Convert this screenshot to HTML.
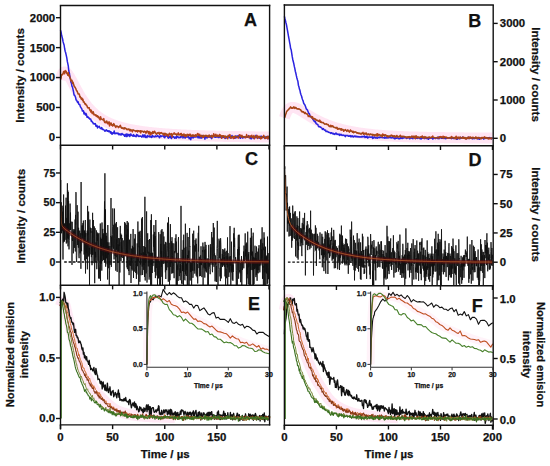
<!DOCTYPE html>
<html><head><meta charset="utf-8"><style>
html,body{margin:0;padding:0;background:#fff;width:550px;height:466px;overflow:hidden}
svg{display:block}
text{font-family:"Liberation Sans",sans-serif;font-weight:bold;fill:#111;stroke:#111;stroke-width:0.25px}
</style></head><body>
<svg width="550" height="466" viewBox="0 0 550 466">
<defs>
<clipPath id="clipC"><rect x="60.5" y="145.3" width="209.10000000000002" height="139.89999999999998"/></clipPath>
<clipPath id="clipD"><rect x="284.4" y="145.8" width="208.8" height="140.0"/></clipPath>
</defs>
<rect width="550" height="466" fill="#fff"/>
<polyline points="60.5,79.9 61.0,77.7 61.5,76.0 62.1,74.6 62.6,73.5 63.1,72.8 63.6,72.2 64.1,72.0 64.7,71.9 65.2,71.9 65.7,72.2 66.2,72.5 66.8,73.0 67.3,73.6 67.8,74.2 68.3,74.9 68.8,75.7 69.4,76.5 69.9,77.4 70.4,78.3 70.9,79.3 71.4,80.2 72.0,81.2 72.5,82.2 73.0,83.2 73.5,84.2 74.1,85.2 74.6,86.2 75.1,87.2 75.6,88.2 76.1,89.1 76.7,90.1 77.2,91.0 77.7,92.0 78.2,92.9 78.7,93.8 79.3,94.7 79.8,95.6 80.3,96.5 80.8,97.3 81.3,98.1 81.9,99.0 82.4,99.7 82.9,100.5 83.4,101.3 84.0,102.0 84.5,102.8 85.0,103.5 85.5,104.2 86.0,104.9 86.6,105.5 87.1,106.2 87.6,106.8 88.1,107.4 88.6,108.0 89.2,108.6 89.7,109.2 90.2,109.7 90.7,110.3 91.3,110.8 91.8,111.3 92.3,111.9 92.8,112.3 93.3,112.8 93.9,113.3 94.4,113.8 94.9,114.2 95.4,114.6 95.9,115.1 96.5,115.5 97.0,115.9 97.5,116.3 98.0,116.7 98.6,117.1 99.1,117.4 99.6,117.8 100.1,118.1 100.6,118.5 101.2,118.8 101.7,119.2 102.2,119.5 102.7,119.8 103.2,120.1 103.8,120.4 104.3,120.7 104.8,121.0 105.3,121.2 105.8,121.5 106.4,121.8 106.9,122.0 107.4,122.3 107.9,122.5 108.5,122.8 109.0,123.0 109.5,123.3 110.0,123.5 110.5,123.7 111.1,123.9 111.6,124.1 112.1,124.3 112.6,124.5 113.1,124.7 113.7,124.9 114.2,125.1 114.7,125.3 115.2,125.5 115.8,125.7 116.3,125.9 116.8,126.0 117.3,126.2 117.8,126.4 118.4,126.5 118.9,126.7 119.4,126.8 119.9,127.0 120.4,127.1 121.0,127.3 121.5,127.4 122.0,127.6 122.5,127.7 123.0,127.8 123.6,128.0 124.1,128.1 124.6,128.2 125.1,128.4 125.7,128.5 126.2,128.6 126.7,128.7 127.2,128.9 127.7,129.0 128.3,129.1 128.8,129.2 129.3,129.3 129.8,129.4 130.3,129.5 130.9,129.6 131.4,129.7 131.9,129.8 132.4,129.9 133.0,130.0 133.5,130.1 134.0,130.2 134.5,130.3 135.0,130.4 135.6,130.5 136.1,130.6 136.6,130.7 137.1,130.7 137.6,130.8 138.2,130.9 138.7,131.0 139.2,131.1 139.7,131.1 140.3,131.2 140.8,131.3 141.3,131.4 141.8,131.4 142.3,131.5 142.9,131.6 143.4,131.7 143.9,131.7 144.4,131.8 144.9,131.9 145.5,131.9 146.0,132.0 146.5,132.1 147.0,132.1 147.5,132.2 148.1,132.3 148.6,132.3 149.1,132.4 149.6,132.4 150.2,132.5 150.7,132.5 151.2,132.6 151.7,132.7 152.2,132.7 152.8,132.8 153.3,132.8 153.8,132.9 154.3,132.9 154.8,133.0 155.4,133.0 155.9,133.1 156.4,133.1 156.9,133.2 157.5,133.2 158.0,133.3 158.5,133.3 159.0,133.4 159.5,133.4 160.1,133.5 160.6,133.5 161.1,133.5 161.6,133.6 162.1,133.6 162.7,133.7 163.2,133.7 163.7,133.8 164.2,133.8 164.8,133.8 165.3,133.9 165.8,133.9 166.3,134.0 166.8,134.0 167.4,134.0 167.9,134.1 168.4,134.1 168.9,134.1 169.4,134.2 170.0,134.2 170.5,134.3 171.0,134.3 171.5,134.3 172.0,134.4 172.6,134.4 173.1,134.4 173.6,134.5 174.1,134.5 174.7,134.5 175.2,134.6 175.7,134.6 176.2,134.6 176.7,134.6 177.3,134.7 177.8,134.7 178.3,134.7 178.8,134.8 179.3,134.8 179.9,134.8 180.4,134.8 180.9,134.9 181.4,134.9 182.0,134.9 182.5,135.0 183.0,135.0 183.5,135.0 184.0,135.0 184.6,135.1 185.1,135.1 185.6,135.1 186.1,135.1 186.6,135.2 187.2,135.2 187.7,135.2 188.2,135.2 188.7,135.3 189.2,135.3 189.8,135.3 190.3,135.3 190.8,135.3 191.3,135.4 191.9,135.4 192.4,135.4 192.9,135.4 193.4,135.5 193.9,135.5 194.5,135.5 195.0,135.5 195.5,135.5 196.0,135.6 196.5,135.6 197.1,135.6 197.6,135.6 198.1,135.6 198.6,135.7 199.2,135.7 199.7,135.7 200.2,135.7 200.7,135.7 201.2,135.7 201.8,135.8 202.3,135.8 202.8,135.8 203.3,135.8 203.8,135.8 204.4,135.8 204.9,135.9 205.4,135.9 205.9,135.9 206.4,135.9 207.0,135.9 207.5,135.9 208.0,136.0 208.5,136.0 209.1,136.0 209.6,136.0 210.1,136.0 210.6,136.0 211.1,136.0 211.7,136.1 212.2,136.1 212.7,136.1 213.2,136.1 213.7,136.1 214.3,136.1 214.8,136.1 215.3,136.2 215.8,136.2 216.4,136.2 216.9,136.2 217.4,136.2 217.9,136.2 218.4,136.2 219.0,136.2 219.5,136.3 220.0,136.3 220.5,136.3 221.0,136.3 221.6,136.3 222.1,136.3 222.6,136.3 223.1,136.3 223.7,136.4 224.2,136.4 224.7,136.4 225.2,136.4 225.7,136.4 226.3,136.4 226.8,136.4 227.3,136.4 227.8,136.4 228.3,136.4 228.9,136.5 229.4,136.5 229.9,136.5 230.4,136.5 230.9,136.5 231.5,136.5 232.0,136.5 232.5,136.5 233.0,136.5 233.6,136.5 234.1,136.6 234.6,136.6 235.1,136.6 235.6,136.6 236.2,136.6 236.7,136.6 237.2,136.6 237.7,136.6 238.2,136.6 238.8,136.6 239.3,136.6 239.8,136.6 240.3,136.7 240.9,136.7 241.4,136.7 241.9,136.7 242.4,136.7 242.9,136.7 243.5,136.7 244.0,136.7 244.5,136.7 245.0,136.7 245.5,136.7 246.1,136.7 246.6,136.7 247.1,136.8 247.6,136.8 248.2,136.8 248.7,136.8 249.2,136.8 249.7,136.8 250.2,136.8 250.8,136.8 251.3,136.8 251.8,136.8 252.3,136.8 252.8,136.8 253.4,136.8 253.9,136.8 254.4,136.8 254.9,136.8 255.4,136.9 256.0,136.9 256.5,136.9 257.0,136.9 257.5,136.9 258.1,136.9 258.6,136.9 259.1,136.9 259.6,136.9 260.1,136.9 260.7,136.9 261.2,136.9 261.7,136.9 262.2,136.9 262.7,136.9 263.3,136.9 263.8,136.9 264.3,136.9 264.8,136.9 265.4,137.0 265.9,137.0 266.4,137.0 266.9,137.0 267.4,137.0 268.0,137.0 268.5,137.0 269.0,137.0" fill="none" stroke="#ff9ad0" stroke-width="11" stroke-linejoin="round" stroke-opacity="0.26" stroke-linecap="butt"/>
<polyline points="60.5,30.3 61.0,31.9 61.5,34.5 62.1,37.1 62.6,39.0 63.1,41.9 63.6,43.5 64.1,45.0 64.7,49.0 65.2,51.4 65.7,52.8 66.2,55.2 66.8,57.9 67.3,61.4 67.8,63.7 68.3,66.2 68.8,71.0 69.4,73.1 69.9,77.0 70.4,79.1 70.9,82.1 71.4,83.1 72.0,86.3 72.5,87.2 73.0,89.3 73.5,91.5 74.1,95.1 74.6,95.1 75.1,96.2 75.6,97.5 76.1,100.1 76.7,100.3 77.2,101.7 77.7,102.5 78.2,101.8 78.7,104.2 79.3,104.5 79.8,104.6 80.3,106.7 80.8,107.3 81.3,108.1 81.9,109.1 82.4,111.1 82.9,110.9 83.4,110.7 84.0,113.9 84.5,112.5 85.0,113.8 85.5,115.1 86.0,113.4 86.6,115.0 87.1,117.3 87.6,116.7 88.1,116.9 88.6,118.1 89.2,117.9 89.7,119.1 90.2,119.1 90.7,119.0 91.3,121.3 91.8,121.1 92.3,122.2 92.8,122.2 93.3,123.8 93.9,123.8 94.4,124.0 94.9,123.5 95.4,123.7 95.9,126.2 96.5,126.2 97.0,125.3 97.5,127.9 98.0,127.0 98.6,127.0 99.1,126.2 99.6,127.0 100.1,128.1 100.6,128.5 101.2,128.7 101.7,127.4 102.2,129.3 102.7,129.5 103.2,129.2 103.8,129.8 104.3,130.1 104.8,131.1 105.3,130.4 105.8,130.9 106.4,129.8 106.9,130.4 107.4,131.1 107.9,130.7 108.5,131.7 109.0,130.7 109.5,131.8 110.0,131.4 110.5,133.1 111.1,131.9 111.6,133.7 112.1,134.2 112.6,132.8 113.1,133.4 113.7,132.7 114.2,131.0 114.7,133.7 115.2,133.7 115.8,133.1 116.3,132.9 116.8,133.6 117.3,133.7 117.8,133.0 118.4,133.3 118.9,134.7 119.4,134.0 119.9,133.9 120.4,134.9 121.0,133.9 121.5,134.9 122.0,133.5 122.5,134.2 123.0,134.3 123.6,135.0 124.1,134.6 124.6,136.3 125.1,135.6 125.7,134.4 126.2,136.6 126.7,134.1 127.2,136.4 127.7,134.3 128.3,135.7 128.8,134.4 129.3,135.0 129.8,136.5 130.3,134.2 130.9,134.1 131.4,135.4 131.9,135.6 132.4,135.5 133.0,136.3 133.5,134.6 134.0,136.0 134.5,135.6 135.0,136.3 135.6,136.2 136.1,136.7 136.6,134.6 137.1,135.9 137.6,135.0 138.2,135.8 138.7,136.4 139.2,136.1 139.7,136.4 140.3,135.9 140.8,136.3 141.3,136.2 141.8,137.1 142.3,136.7 142.9,134.7 143.4,136.6 143.9,137.0 144.4,135.8 144.9,134.9 145.5,137.4 146.0,136.3 146.5,136.7 147.0,137.7 147.5,135.6 148.1,136.3 148.6,136.2 149.1,136.9 149.6,135.9 150.2,136.8 150.7,136.4 151.2,137.3 151.7,137.4 152.2,135.3 152.8,136.8 153.3,136.2 153.8,136.4 154.3,136.8 154.8,136.9 155.4,135.9 155.9,136.7 156.4,136.6 156.9,136.5 157.5,135.5 158.0,136.0 158.5,136.2 159.0,137.0 159.5,137.7 160.1,135.8 160.6,135.8 161.1,136.7 161.6,136.1 162.1,136.0 162.7,135.9 163.2,135.9 163.7,137.0 164.2,135.4 164.8,137.7 165.3,136.0 165.8,136.3 166.3,136.0 166.8,135.1 167.4,135.5 167.9,137.7 168.4,138.1 168.9,136.0 169.4,137.6 170.0,136.8 170.5,136.1 171.0,138.1 171.5,138.5 172.0,136.6 172.6,136.7 173.1,137.0 173.6,136.8 174.1,137.5 174.7,138.1 175.2,137.0 175.7,137.6 176.2,138.2 176.7,136.4 177.3,136.9 177.8,136.5 178.3,137.7 178.8,137.4 179.3,137.7 179.9,137.6 180.4,136.7 180.9,137.5 181.4,136.6 182.0,136.6 182.5,135.2 183.0,138.1 183.5,136.2 184.0,137.0 184.6,136.9 185.1,138.1 185.6,137.3 186.1,136.3 186.6,137.0 187.2,136.9 187.7,137.2 188.2,136.0 188.7,137.0 189.2,138.8 189.8,137.5 190.3,138.6 190.8,139.7 191.3,137.4 191.9,135.9 192.4,136.9 192.9,138.0 193.4,137.8 193.9,136.0 194.5,136.9 195.0,136.9 195.5,137.0 196.0,137.0 196.5,136.3 197.1,136.5 197.6,136.8 198.1,137.9 198.6,136.6 199.2,137.6 199.7,136.1 200.2,138.1 200.7,137.1 201.2,137.0 201.8,138.1 202.3,135.6 202.8,135.8 203.3,137.4 203.8,136.4 204.4,136.7 204.9,139.2 205.4,136.8 205.9,137.1 206.4,137.0 207.0,138.0 207.5,137.3 208.0,137.2 208.5,136.1 209.1,136.8 209.6,137.1 210.1,135.8 210.6,137.5 211.1,137.4 211.7,138.6 212.2,135.8 212.7,136.3 213.2,136.3 213.7,136.5 214.3,137.0 214.8,136.9 215.3,137.3 215.8,137.3 216.4,137.1 216.9,135.8 217.4,136.6 217.9,137.2 218.4,137.6 219.0,137.6 219.5,135.8 220.0,136.7 220.5,137.1 221.0,137.4 221.6,138.1 222.1,137.2 222.6,136.4 223.1,137.5 223.7,137.3 224.2,137.3 224.7,137.0 225.2,138.5 225.7,137.3 226.3,137.9 226.8,136.4 227.3,137.8 227.8,136.7 228.3,135.9 228.9,137.4 229.4,137.7 229.9,137.0 230.4,137.2 230.9,138.0 231.5,136.8 232.0,135.5 232.5,137.4 233.0,137.3 233.6,138.0 234.1,136.9 234.6,138.2 235.1,138.1 235.6,136.1 236.2,137.9 236.7,136.3 237.2,135.9 237.7,137.0 238.2,136.7 238.8,135.5 239.3,137.3 239.8,137.7 240.3,138.3 240.9,137.1 241.4,135.9 241.9,136.4 242.4,138.0 242.9,137.9 243.5,137.6 244.0,136.9 244.5,137.4 245.0,137.0 245.5,136.9 246.1,137.4 246.6,137.2 247.1,137.0 247.6,137.3 248.2,136.8 248.7,135.6 249.2,136.7 249.7,137.2 250.2,138.6 250.8,136.9 251.3,138.8 251.8,138.4 252.3,136.5 252.8,136.6 253.4,137.3 253.9,138.6 254.4,137.5 254.9,137.8 255.4,136.7 256.0,135.3 256.5,137.0 257.0,137.9 257.5,138.2 258.1,137.3 258.6,137.4 259.1,138.2 259.6,137.1 260.1,138.2 260.7,136.3 261.2,136.3 261.7,136.3 262.2,137.6 262.7,136.8 263.3,137.3 263.8,137.5 264.3,137.5 264.8,138.3 265.4,138.4 265.9,136.6 266.4,137.4 266.9,137.0 267.4,136.4 268.0,138.7 268.5,137.9 269.0,137.1" fill="none" stroke="#2a22e0" stroke-width="1.5" stroke-linejoin="round" />
<polyline points="60.5,79.5 61.0,78.1 61.5,75.0 62.1,74.4 62.6,74.7 63.1,73.7 63.6,71.5 64.1,71.5 64.7,73.7 65.2,70.6 65.7,71.6 66.2,71.2 66.8,73.4 67.3,73.8 67.8,75.3 68.3,72.5 68.8,75.9 69.4,75.0 69.9,78.0 70.4,78.2 70.9,80.9 71.4,80.6 72.0,80.3 72.5,83.4 73.0,82.2 73.5,83.9 74.1,86.2 74.6,86.7 75.1,87.6 75.6,88.2 76.1,89.6 76.7,90.9 77.2,91.3 77.7,93.0 78.2,94.1 78.7,93.9 79.3,93.9 79.8,97.1 80.3,96.5 80.8,97.9 81.3,99.1 81.9,98.1 82.4,100.2 82.9,99.1 83.4,102.0 84.0,101.7 84.5,103.0 85.0,104.2 85.5,103.6 86.0,105.0 86.6,104.9 87.1,106.2 87.6,107.8 88.1,107.5 88.6,108.0 89.2,107.7 89.7,110.1 90.2,109.8 90.7,111.9 91.3,110.2 91.8,112.4 92.3,113.6 92.8,112.4 93.3,111.8 93.9,114.8 94.4,114.8 94.9,114.9 95.4,115.7 95.9,114.7 96.5,116.3 97.0,116.6 97.5,115.7 98.0,117.4 98.6,116.6 99.1,118.4 99.6,119.0 100.1,119.9 100.6,116.7 101.2,119.1 101.7,118.9 102.2,119.5 102.7,119.6 103.2,120.0 103.8,118.6 104.3,121.7 104.8,122.5 105.3,122.2 105.8,122.8 106.4,121.1 106.9,121.3 107.4,123.2 107.9,123.9 108.5,123.1 109.0,121.7 109.5,126.0 110.0,123.0 110.5,124.7 111.1,122.9 111.6,125.2 112.1,124.6 112.6,126.0 113.1,125.7 113.7,123.6 114.2,124.3 114.7,125.7 115.2,126.3 115.8,127.5 116.3,126.2 116.8,126.1 117.3,126.3 117.8,126.5 118.4,127.6 118.9,126.7 119.4,126.9 119.9,125.8 120.4,125.4 121.0,127.4 121.5,128.2 122.0,127.6 122.5,128.3 123.0,128.6 123.6,128.0 124.1,129.1 124.6,127.7 125.1,128.5 125.7,128.3 126.2,128.8 126.7,129.4 127.2,129.8 127.7,129.2 128.3,129.6 128.8,129.0 129.3,129.3 129.8,130.7 130.3,129.5 130.9,130.9 131.4,130.3 131.9,130.1 132.4,131.9 133.0,129.9 133.5,130.0 134.0,130.4 134.5,130.7 135.0,130.7 135.6,131.4 136.1,130.8 136.6,131.2 137.1,130.6 137.6,132.0 138.2,130.7 138.7,130.8 139.2,131.2 139.7,131.6 140.3,130.7 140.8,132.9 141.3,130.9 141.8,131.2 142.3,131.2 142.9,131.2 143.4,132.3 143.9,132.0 144.4,131.2 144.9,131.5 145.5,131.7 146.0,133.4 146.5,131.5 147.0,131.0 147.5,131.2 148.1,132.0 148.6,133.8 149.1,131.5 149.6,132.6 150.2,134.9 150.7,132.2 151.2,134.0 151.7,133.9 152.2,133.3 152.8,131.6 153.3,133.2 153.8,132.6 154.3,131.3 154.8,131.5 155.4,133.1 155.9,133.3 156.4,134.3 156.9,133.8 157.5,132.8 158.0,132.9 158.5,133.2 159.0,132.4 159.5,134.2 160.1,133.5 160.6,132.8 161.1,133.0 161.6,132.6 162.1,133.3 162.7,134.0 163.2,133.4 163.7,134.7 164.2,135.4 164.8,133.3 165.3,133.9 165.8,133.6 166.3,135.6 166.8,134.3 167.4,134.6 167.9,134.9 168.4,136.3 168.9,134.5 169.4,133.3 170.0,133.9 170.5,134.8 171.0,134.3 171.5,133.6 172.0,137.0 172.6,134.5 173.1,133.9 173.6,133.8 174.1,132.9 174.7,133.4 175.2,134.3 175.7,134.3 176.2,133.9 176.7,135.2 177.3,134.7 177.8,133.8 178.3,132.9 178.8,134.9 179.3,134.8 179.9,134.6 180.4,133.6 180.9,134.9 181.4,133.5 182.0,135.9 182.5,135.1 183.0,135.2 183.5,134.3 184.0,134.0 184.6,136.5 185.1,136.0 185.6,134.8 186.1,135.8 186.6,136.6 187.2,134.2 187.7,134.7 188.2,134.8 188.7,135.7 189.2,134.3 189.8,135.5 190.3,134.3 190.8,136.2 191.3,136.2 191.9,135.2 192.4,136.1 192.9,134.8 193.4,135.2 193.9,136.4 194.5,135.4 195.0,135.9 195.5,134.7 196.0,136.2 196.5,136.0 197.1,134.4 197.6,133.5 198.1,133.7 198.6,135.6 199.2,135.5 199.7,134.2 200.2,135.8 200.7,136.7 201.2,135.6 201.8,135.3 202.3,136.6 202.8,137.4 203.3,137.2 203.8,135.2 204.4,136.6 204.9,136.0 205.4,135.7 205.9,135.3 206.4,136.2 207.0,135.5 207.5,136.8 208.0,136.3 208.5,137.0 209.1,134.9 209.6,136.0 210.1,136.7 210.6,136.4 211.1,136.3 211.7,135.4 212.2,137.6 212.7,137.1 213.2,136.5 213.7,133.7 214.3,135.2 214.8,136.3 215.3,135.5 215.8,134.2 216.4,136.4 216.9,136.5 217.4,135.1 217.9,135.8 218.4,135.6 219.0,136.7 219.5,134.4 220.0,134.6 220.5,135.7 221.0,135.6 221.6,138.3 222.1,135.7 222.6,136.5 223.1,135.9 223.7,135.7 224.2,136.7 224.7,138.0 225.2,136.0 225.7,137.1 226.3,136.7 226.8,137.0 227.3,136.8 227.8,138.7 228.3,135.3 228.9,136.2 229.4,135.4 229.9,134.6 230.4,136.5 230.9,138.2 231.5,137.4 232.0,137.7 232.5,137.0 233.0,136.5 233.6,138.5 234.1,136.2 234.6,138.0 235.1,136.3 235.6,136.7 236.2,136.9 236.7,136.7 237.2,137.1 237.7,137.2 238.2,138.2 238.8,136.7 239.3,134.9 239.8,134.8 240.3,135.4 240.9,136.0 241.4,137.3 241.9,135.3 242.4,136.7 242.9,136.8 243.5,137.0 244.0,136.6 244.5,137.1 245.0,136.8 245.5,137.8 246.1,137.1 246.6,134.6 247.1,136.8 247.6,137.0 248.2,136.3 248.7,136.1 249.2,137.8 249.7,137.0 250.2,135.9 250.8,136.5 251.3,136.7 251.8,135.3 252.3,137.5 252.8,136.7 253.4,137.3 253.9,135.4 254.4,138.7 254.9,137.5 255.4,137.4 256.0,136.2 256.5,136.3 257.0,135.5 257.5,138.4 258.1,136.2 258.6,137.2 259.1,137.5 259.6,136.4 260.1,137.8 260.7,138.9 261.2,137.3 261.7,138.4 262.2,137.5 262.7,136.6 263.3,136.6 263.8,135.4 264.3,137.1 264.8,138.4 265.4,137.7 265.9,137.8 266.4,138.1 266.9,136.5 267.4,137.6 268.0,138.9 268.5,136.3 269.0,137.1" fill="none" stroke="#b8401c" stroke-width="1.5" stroke-linejoin="round" />
<polyline points="60.5,79.9 61.0,77.7 61.5,76.0 62.1,74.6 62.6,73.5 63.1,72.8 63.6,72.2 64.1,72.0 64.7,71.9 65.2,71.9 65.7,72.2 66.2,72.5 66.8,73.0 67.3,73.6 67.8,74.2 68.3,74.9 68.8,75.7 69.4,76.5 69.9,77.4 70.4,78.3 70.9,79.3 71.4,80.2 72.0,81.2 72.5,82.2 73.0,83.2 73.5,84.2 74.1,85.2 74.6,86.2 75.1,87.2 75.6,88.2 76.1,89.1 76.7,90.1 77.2,91.0 77.7,92.0 78.2,92.9 78.7,93.8 79.3,94.7 79.8,95.6 80.3,96.5 80.8,97.3 81.3,98.1 81.9,99.0 82.4,99.7 82.9,100.5 83.4,101.3 84.0,102.0 84.5,102.8 85.0,103.5 85.5,104.2 86.0,104.9 86.6,105.5 87.1,106.2 87.6,106.8 88.1,107.4 88.6,108.0 89.2,108.6 89.7,109.2 90.2,109.7 90.7,110.3 91.3,110.8 91.8,111.3 92.3,111.9 92.8,112.3 93.3,112.8 93.9,113.3 94.4,113.8 94.9,114.2 95.4,114.6 95.9,115.1 96.5,115.5 97.0,115.9 97.5,116.3 98.0,116.7 98.6,117.1 99.1,117.4 99.6,117.8 100.1,118.1 100.6,118.5 101.2,118.8 101.7,119.2 102.2,119.5 102.7,119.8 103.2,120.1 103.8,120.4 104.3,120.7 104.8,121.0 105.3,121.2 105.8,121.5 106.4,121.8 106.9,122.0 107.4,122.3 107.9,122.5 108.5,122.8 109.0,123.0 109.5,123.3 110.0,123.5 110.5,123.7 111.1,123.9 111.6,124.1 112.1,124.3 112.6,124.5 113.1,124.7 113.7,124.9 114.2,125.1 114.7,125.3 115.2,125.5 115.8,125.7 116.3,125.9 116.8,126.0 117.3,126.2 117.8,126.4 118.4,126.5 118.9,126.7 119.4,126.8 119.9,127.0 120.4,127.1 121.0,127.3 121.5,127.4 122.0,127.6 122.5,127.7 123.0,127.8 123.6,128.0 124.1,128.1 124.6,128.2 125.1,128.4 125.7,128.5 126.2,128.6 126.7,128.7 127.2,128.9 127.7,129.0 128.3,129.1 128.8,129.2 129.3,129.3 129.8,129.4 130.3,129.5 130.9,129.6 131.4,129.7 131.9,129.8 132.4,129.9 133.0,130.0 133.5,130.1 134.0,130.2 134.5,130.3 135.0,130.4 135.6,130.5 136.1,130.6 136.6,130.7 137.1,130.7 137.6,130.8 138.2,130.9 138.7,131.0 139.2,131.1 139.7,131.1 140.3,131.2 140.8,131.3 141.3,131.4 141.8,131.4 142.3,131.5 142.9,131.6 143.4,131.7 143.9,131.7 144.4,131.8 144.9,131.9 145.5,131.9 146.0,132.0 146.5,132.1 147.0,132.1 147.5,132.2 148.1,132.3 148.6,132.3 149.1,132.4 149.6,132.4 150.2,132.5 150.7,132.5 151.2,132.6 151.7,132.7 152.2,132.7 152.8,132.8 153.3,132.8 153.8,132.9 154.3,132.9 154.8,133.0 155.4,133.0 155.9,133.1 156.4,133.1 156.9,133.2 157.5,133.2 158.0,133.3 158.5,133.3 159.0,133.4 159.5,133.4 160.1,133.5 160.6,133.5 161.1,133.5 161.6,133.6 162.1,133.6 162.7,133.7 163.2,133.7 163.7,133.8 164.2,133.8 164.8,133.8 165.3,133.9 165.8,133.9 166.3,134.0 166.8,134.0 167.4,134.0 167.9,134.1 168.4,134.1 168.9,134.1 169.4,134.2 170.0,134.2 170.5,134.3 171.0,134.3 171.5,134.3 172.0,134.4 172.6,134.4 173.1,134.4 173.6,134.5 174.1,134.5 174.7,134.5 175.2,134.6 175.7,134.6 176.2,134.6 176.7,134.6 177.3,134.7 177.8,134.7 178.3,134.7 178.8,134.8 179.3,134.8 179.9,134.8 180.4,134.8 180.9,134.9 181.4,134.9 182.0,134.9 182.5,135.0 183.0,135.0 183.5,135.0 184.0,135.0 184.6,135.1 185.1,135.1 185.6,135.1 186.1,135.1 186.6,135.2 187.2,135.2 187.7,135.2 188.2,135.2 188.7,135.3 189.2,135.3 189.8,135.3 190.3,135.3 190.8,135.3 191.3,135.4 191.9,135.4 192.4,135.4 192.9,135.4 193.4,135.5 193.9,135.5 194.5,135.5 195.0,135.5 195.5,135.5 196.0,135.6 196.5,135.6 197.1,135.6 197.6,135.6 198.1,135.6 198.6,135.7 199.2,135.7 199.7,135.7 200.2,135.7 200.7,135.7 201.2,135.7 201.8,135.8 202.3,135.8 202.8,135.8 203.3,135.8 203.8,135.8 204.4,135.8 204.9,135.9 205.4,135.9 205.9,135.9 206.4,135.9 207.0,135.9 207.5,135.9 208.0,136.0 208.5,136.0 209.1,136.0 209.6,136.0 210.1,136.0 210.6,136.0 211.1,136.0 211.7,136.1 212.2,136.1 212.7,136.1 213.2,136.1 213.7,136.1 214.3,136.1 214.8,136.1 215.3,136.2 215.8,136.2 216.4,136.2 216.9,136.2 217.4,136.2 217.9,136.2 218.4,136.2 219.0,136.2 219.5,136.3 220.0,136.3 220.5,136.3 221.0,136.3 221.6,136.3 222.1,136.3 222.6,136.3 223.1,136.3 223.7,136.4 224.2,136.4 224.7,136.4 225.2,136.4 225.7,136.4 226.3,136.4 226.8,136.4 227.3,136.4 227.8,136.4 228.3,136.4 228.9,136.5 229.4,136.5 229.9,136.5 230.4,136.5 230.9,136.5 231.5,136.5 232.0,136.5 232.5,136.5 233.0,136.5 233.6,136.5 234.1,136.6 234.6,136.6 235.1,136.6 235.6,136.6 236.2,136.6 236.7,136.6 237.2,136.6 237.7,136.6 238.2,136.6 238.8,136.6 239.3,136.6 239.8,136.6 240.3,136.7 240.9,136.7 241.4,136.7 241.9,136.7 242.4,136.7 242.9,136.7 243.5,136.7 244.0,136.7 244.5,136.7 245.0,136.7 245.5,136.7 246.1,136.7 246.6,136.7 247.1,136.8 247.6,136.8 248.2,136.8 248.7,136.8 249.2,136.8 249.7,136.8 250.2,136.8 250.8,136.8 251.3,136.8 251.8,136.8 252.3,136.8 252.8,136.8 253.4,136.8 253.9,136.8 254.4,136.8 254.9,136.8 255.4,136.9 256.0,136.9 256.5,136.9 257.0,136.9 257.5,136.9 258.1,136.9 258.6,136.9 259.1,136.9 259.6,136.9 260.1,136.9 260.7,136.9 261.2,136.9 261.7,136.9 262.2,136.9 262.7,136.9 263.3,136.9 263.8,136.9 264.3,136.9 264.8,136.9 265.4,137.0 265.9,137.0 266.4,137.0 266.9,137.0 267.4,137.0 268.0,137.0 268.5,137.0 269.0,137.0" fill="none" stroke="#7a5a10" stroke-width="0.8" stroke-linejoin="round" stroke-opacity="0.6"/>
<polyline points="284.4,117.8 284.9,116.2 285.4,114.7 286.0,113.5 286.5,112.4 287.0,111.4 287.5,110.6 288.0,109.9 288.6,109.3 289.1,108.8 289.6,108.4 290.1,108.1 290.6,107.8 291.2,107.6 291.7,107.5 292.2,107.4 292.7,107.4 293.2,107.4 293.8,107.5 294.3,107.6 294.8,107.7 295.3,107.8 295.8,108.0 296.4,108.2 296.9,108.4 297.4,108.7 297.9,108.9 298.4,109.2 299.0,109.5 299.5,109.8 300.0,110.1 300.5,110.4 301.0,110.7 301.6,111.0 302.1,111.3 302.6,111.6 303.1,112.0 303.6,112.3 304.2,112.6 304.7,113.0 305.2,113.3 305.7,113.6 306.3,114.0 306.8,114.3 307.3,114.6 307.8,114.9 308.3,115.3 308.9,115.6 309.4,115.9 309.9,116.2 310.4,116.5 310.9,116.8 311.5,117.2 312.0,117.5 312.5,117.8 313.0,118.1 313.5,118.3 314.1,118.6 314.6,118.9 315.1,119.2 315.6,119.5 316.1,119.8 316.7,120.0 317.2,120.3 317.7,120.6 318.2,120.8 318.7,121.1 319.3,121.4 319.8,121.6 320.3,121.9 320.8,122.1 321.3,122.3 321.9,122.6 322.4,122.8 322.9,123.1 323.4,123.3 323.9,123.5 324.5,123.7 325.0,123.9 325.5,124.2 326.0,124.4 326.5,124.6 327.1,124.8 327.6,125.0 328.1,125.2 328.6,125.4 329.1,125.6 329.7,125.8 330.2,126.0 330.7,126.1 331.2,126.3 331.7,126.5 332.3,126.7 332.8,126.9 333.3,127.0 333.8,127.2 334.3,127.4 334.9,127.5 335.4,127.7 335.9,127.8 336.4,128.0 336.9,128.2 337.5,128.3 338.0,128.5 338.5,128.6 339.0,128.7 339.5,128.9 340.1,129.0 340.6,129.2 341.1,129.3 341.6,129.4 342.1,129.6 342.7,129.7 343.2,129.8 343.7,130.0 344.2,130.1 344.7,130.2 345.3,130.3 345.8,130.4 346.3,130.6 346.8,130.7 347.4,130.8 347.9,130.9 348.4,131.0 348.9,131.1 349.4,131.2 350.0,131.3 350.5,131.4 351.0,131.5 351.5,131.6 352.0,131.7 352.6,131.8 353.1,131.9 353.6,132.0 354.1,132.1 354.6,132.2 355.2,132.3 355.7,132.4 356.2,132.4 356.7,132.5 357.2,132.6 357.8,132.7 358.3,132.8 358.8,132.9 359.3,132.9 359.8,133.0 360.4,133.1 360.9,133.2 361.4,133.2 361.9,133.3 362.4,133.4 363.0,133.5 363.5,133.5 364.0,133.6 364.5,133.7 365.0,133.7 365.6,133.8 366.1,133.9 366.6,133.9 367.1,134.0 367.6,134.1 368.2,134.1 368.7,134.2 369.2,134.2 369.7,134.3 370.2,134.3 370.8,134.4 371.3,134.5 371.8,134.5 372.3,134.6 372.8,134.6 373.4,134.7 373.9,134.7 374.4,134.8 374.9,134.8 375.4,134.9 376.0,134.9 376.5,135.0 377.0,135.0 377.5,135.1 378.0,135.1 378.6,135.2 379.1,135.2 379.6,135.2 380.1,135.3 380.6,135.3 381.2,135.4 381.7,135.4 382.2,135.4 382.7,135.5 383.2,135.5 383.8,135.6 384.3,135.6 384.8,135.6 385.3,135.7 385.8,135.7 386.4,135.7 386.9,135.8 387.4,135.8 387.9,135.8 388.4,135.9 389.0,135.9 389.5,135.9 390.0,136.0 390.5,136.0 391.1,136.0 391.6,136.1 392.1,136.1 392.6,136.1 393.1,136.2 393.7,136.2 394.2,136.2 394.7,136.2 395.2,136.3 395.7,136.3 396.3,136.3 396.8,136.4 397.3,136.4 397.8,136.4 398.3,136.4 398.9,136.5 399.4,136.5 399.9,136.5 400.4,136.5 400.9,136.5 401.5,136.6 402.0,136.6 402.5,136.6 403.0,136.6 403.5,136.7 404.1,136.7 404.6,136.7 405.1,136.7 405.6,136.7 406.1,136.8 406.7,136.8 407.2,136.8 407.7,136.8 408.2,136.8 408.7,136.9 409.3,136.9 409.8,136.9 410.3,136.9 410.8,136.9 411.3,136.9 411.9,137.0 412.4,137.0 412.9,137.0 413.4,137.0 413.9,137.0 414.5,137.0 415.0,137.1 415.5,137.1 416.0,137.1 416.5,137.1 417.1,137.1 417.6,137.1 418.1,137.1 418.6,137.2 419.1,137.2 419.7,137.2 420.2,137.2 420.7,137.2 421.2,137.2 421.7,137.2 422.3,137.3 422.8,137.3 423.3,137.3 423.8,137.3 424.3,137.3 424.9,137.3 425.4,137.3 425.9,137.3 426.4,137.3 426.9,137.4 427.5,137.4 428.0,137.4 428.5,137.4 429.0,137.4 429.5,137.4 430.1,137.4 430.6,137.4 431.1,137.4 431.6,137.5 432.2,137.5 432.7,137.5 433.2,137.5 433.7,137.5 434.2,137.5 434.8,137.5 435.3,137.5 435.8,137.5 436.3,137.5 436.8,137.5 437.4,137.6 437.9,137.6 438.4,137.6 438.9,137.6 439.4,137.6 440.0,137.6 440.5,137.6 441.0,137.6 441.5,137.6 442.0,137.6 442.6,137.6 443.1,137.6 443.6,137.6 444.1,137.6 444.6,137.7 445.2,137.7 445.7,137.7 446.2,137.7 446.7,137.7 447.2,137.7 447.8,137.7 448.3,137.7 448.8,137.7 449.3,137.7 449.8,137.7 450.4,137.7 450.9,137.7 451.4,137.7 451.9,137.7 452.4,137.7 453.0,137.8 453.5,137.8 454.0,137.8 454.5,137.8 455.0,137.8 455.6,137.8 456.1,137.8 456.6,137.8 457.1,137.8 457.6,137.8 458.2,137.8 458.7,137.8 459.2,137.8 459.7,137.8 460.2,137.8 460.8,137.8 461.3,137.8 461.8,137.8 462.3,137.8 462.8,137.8 463.4,137.8 463.9,137.9 464.4,137.9 464.9,137.9 465.4,137.9 466.0,137.9 466.5,137.9 467.0,137.9 467.5,137.9 468.0,137.9 468.6,137.9 469.1,137.9 469.6,137.9 470.1,137.9 470.6,137.9 471.2,137.9 471.7,137.9 472.2,137.9 472.7,137.9 473.3,137.9 473.8,137.9 474.3,137.9 474.8,137.9 475.3,137.9 475.9,137.9 476.4,137.9 476.9,137.9 477.4,137.9 477.9,137.9 478.5,137.9 479.0,137.9 479.5,138.0 480.0,138.0 480.5,138.0 481.1,138.0 481.6,138.0 482.1,138.0 482.6,138.0 483.1,138.0 483.7,138.0 484.2,138.0 484.7,138.0 485.2,138.0 485.7,138.0 486.3,138.0 486.8,138.0 487.3,138.0 487.8,138.0 488.3,138.0 488.9,138.0 489.4,138.0 489.9,138.0 490.4,138.0 490.9,138.0 491.5,138.0 492.0,138.0 492.5,138.0" fill="none" stroke="#ff9ad0" stroke-width="11" stroke-linejoin="round" stroke-opacity="0.26" stroke-linecap="butt"/>
<polyline points="284.4,16.3 284.9,18.5 285.4,20.4 286.0,23.0 286.5,24.9 287.0,27.8 287.5,30.5 288.0,33.3 288.6,37.0 289.1,39.4 289.6,42.3 290.1,44.9 290.6,48.4 291.2,49.8 291.7,53.1 292.2,56.4 292.7,59.2 293.2,61.2 293.8,63.6 294.3,66.4 294.8,68.4 295.3,71.2 295.8,73.0 296.4,75.9 296.9,78.0 297.4,79.8 297.9,81.4 298.4,85.2 299.0,87.1 299.5,89.3 300.0,90.6 300.5,93.3 301.0,94.7 301.6,96.2 302.1,98.2 302.6,99.7 303.1,100.9 303.6,103.0 304.2,104.0 304.7,104.7 305.2,105.7 305.7,107.0 306.3,108.9 306.8,109.4 307.3,109.8 307.8,111.0 308.3,112.2 308.9,113.6 309.4,113.8 309.9,115.2 310.4,116.3 310.9,117.0 311.5,116.7 312.0,118.1 312.5,118.4 313.0,119.8 313.5,119.9 314.1,121.2 314.6,121.7 315.1,121.0 315.6,122.4 316.1,123.6 316.7,123.9 317.2,124.3 317.7,124.4 318.2,125.6 318.7,126.7 319.3,126.5 319.8,126.8 320.3,127.2 320.8,127.1 321.3,127.9 321.9,128.1 322.4,129.4 322.9,128.8 323.4,128.6 323.9,129.5 324.5,130.1 325.0,130.4 325.5,130.0 326.0,131.5 326.5,131.4 327.1,131.3 327.6,131.4 328.1,132.2 328.6,132.0 329.1,132.5 329.7,132.5 330.2,132.7 330.7,133.4 331.2,133.0 331.7,132.7 332.3,133.7 332.8,133.5 333.3,133.3 333.8,134.2 334.3,133.7 334.9,134.4 335.4,133.5 335.9,133.1 336.4,133.3 336.9,134.5 337.5,134.1 338.0,134.5 338.5,134.6 339.0,134.0 339.5,135.4 340.1,134.4 340.6,135.0 341.1,134.4 341.6,135.1 342.1,135.5 342.7,135.2 343.2,135.0 343.7,135.4 344.2,135.3 344.7,135.8 345.3,136.6 345.8,135.3 346.3,135.4 346.8,135.7 347.4,135.8 347.9,135.4 348.4,136.2 348.9,136.3 349.4,136.1 350.0,135.6 350.5,136.8 351.0,135.7 351.5,136.5 352.0,136.8 352.6,135.8 353.1,136.4 353.6,137.0 354.1,136.6 354.6,136.1 355.2,136.0 355.7,136.8 356.2,136.4 356.7,136.3 357.2,137.0 357.8,136.5 358.3,136.7 358.8,137.0 359.3,137.0 359.8,136.8 360.4,136.8 360.9,137.1 361.4,137.1 361.9,136.4 362.4,136.9 363.0,136.6 363.5,136.5 364.0,136.8 364.5,136.0 365.0,137.5 365.6,136.7 366.1,137.3 366.6,136.3 367.1,136.4 367.6,138.1 368.2,137.7 368.7,136.9 369.2,136.9 369.7,136.9 370.2,137.3 370.8,137.1 371.3,137.0 371.8,137.4 372.3,136.9 372.8,138.4 373.4,137.1 373.9,137.9 374.4,137.0 374.9,137.5 375.4,137.9 376.0,137.3 376.5,137.9 377.0,137.9 377.5,138.2 378.0,137.5 378.6,137.3 379.1,137.1 379.6,137.6 380.1,137.1 380.6,137.6 381.2,137.6 381.7,137.3 382.2,137.1 382.7,137.8 383.2,137.7 383.8,137.7 384.3,137.6 384.8,138.1 385.3,137.2 385.8,137.9 386.4,137.5 386.9,138.1 387.4,137.5 387.9,137.5 388.4,137.9 389.0,136.8 389.5,137.6 390.0,136.9 390.5,137.3 391.1,138.1 391.6,137.9 392.1,137.6 392.6,137.8 393.1,137.8 393.7,137.9 394.2,138.6 394.7,137.9 395.2,138.8 395.7,137.7 396.3,138.2 396.8,138.2 397.3,137.9 397.8,137.7 398.3,138.5 398.9,138.7 399.4,138.4 399.9,138.8 400.4,138.3 400.9,137.1 401.5,138.4 402.0,137.6 402.5,138.5 403.0,137.8 403.5,138.0 404.1,137.9 404.6,137.6 405.1,137.1 405.6,137.8 406.1,137.9 406.7,138.4 407.2,137.7 407.7,138.0 408.2,137.6 408.7,138.0 409.3,137.1 409.8,138.9 410.3,138.1 410.8,137.6 411.3,138.1 411.9,138.3 412.4,138.1 412.9,138.6 413.4,137.9 413.9,136.9 414.5,137.5 415.0,138.5 415.5,138.4 416.0,138.2 416.5,137.5 417.1,138.4 417.6,138.3 418.1,137.6 418.6,137.6 419.1,138.2 419.7,138.5 420.2,138.7 420.7,138.3 421.2,139.0 421.7,137.7 422.3,138.3 422.8,137.8 423.3,137.2 423.8,137.5 424.3,138.6 424.9,137.6 425.4,137.5 425.9,138.4 426.4,138.5 426.9,138.1 427.5,138.8 428.0,137.4 428.5,139.2 429.0,138.6 429.5,138.2 430.1,138.2 430.6,138.0 431.1,137.9 431.6,138.2 432.2,137.6 432.7,139.1 433.2,138.1 433.7,138.4 434.2,138.0 434.8,138.0 435.3,138.5 435.8,138.4 436.3,137.7 436.8,137.9 437.4,138.4 437.9,137.2 438.4,137.0 438.9,138.8 439.4,138.0 440.0,137.0 440.5,137.7 441.0,138.0 441.5,138.2 442.0,138.4 442.6,138.2 443.1,138.4 443.6,137.8 444.1,138.3 444.6,138.3 445.2,138.7 445.7,138.1 446.2,138.5 446.7,138.2 447.2,137.7 447.8,138.0 448.3,137.9 448.8,138.0 449.3,138.1 449.8,138.2 450.4,138.3 450.9,137.8 451.4,138.6 451.9,137.5 452.4,138.1 453.0,138.5 453.5,138.4 454.0,138.5 454.5,138.1 455.0,138.5 455.6,137.6 456.1,138.5 456.6,139.2 457.1,138.5 457.6,139.1 458.2,138.2 458.7,137.7 459.2,137.9 459.7,138.8 460.2,138.5 460.8,137.4 461.3,138.0 461.8,138.2 462.3,137.7 462.8,137.0 463.4,137.6 463.9,138.1 464.4,138.0 464.9,137.9 465.4,138.5 466.0,138.7 466.5,138.2 467.0,138.6 467.5,138.2 468.0,138.1 468.6,137.1 469.1,138.6 469.6,138.2 470.1,138.3 470.6,138.0 471.2,137.7 471.7,138.4 472.2,138.6 472.7,138.9 473.3,138.6 473.8,137.9 474.3,138.2 474.8,138.7 475.3,138.4 475.9,138.2 476.4,138.0 476.9,138.5 477.4,138.3 477.9,139.0 478.5,138.7 479.0,137.5 479.5,139.2 480.0,138.4 480.5,138.1 481.1,138.4 481.6,138.6 482.1,138.2 482.6,138.2 483.1,138.2 483.7,139.1 484.2,138.3 484.7,138.6 485.2,138.5 485.7,138.1 486.3,137.9 486.8,137.8 487.3,138.4 487.8,137.8 488.3,137.7 488.9,137.7 489.4,137.6 489.9,138.3 490.4,138.3 490.9,137.8 491.5,138.9 492.0,138.1 492.5,138.5" fill="none" stroke="#2a22e0" stroke-width="1.5" stroke-linejoin="round" />
<polyline points="284.4,118.0 284.9,117.1 285.4,115.2 286.0,113.5 286.5,111.9 287.0,110.9 287.5,110.6 288.0,110.0 288.6,109.7 289.1,108.6 289.6,108.5 290.1,107.7 290.6,106.9 291.2,107.6 291.7,108.3 292.2,107.9 292.7,108.2 293.2,108.1 293.8,106.8 294.3,107.4 294.8,108.5 295.3,107.5 295.8,107.4 296.4,108.4 296.9,108.8 297.4,108.9 297.9,108.8 298.4,108.9 299.0,108.8 299.5,109.1 300.0,109.4 300.5,109.6 301.0,110.3 301.6,111.8 302.1,111.4 302.6,111.5 303.1,112.2 303.6,111.8 304.2,112.8 304.7,113.5 305.2,112.5 305.7,113.3 306.3,113.8 306.8,113.8 307.3,114.0 307.8,114.8 308.3,116.6 308.9,115.9 309.4,116.1 309.9,116.7 310.4,116.4 310.9,116.2 311.5,117.4 312.0,118.1 312.5,116.7 313.0,118.3 313.5,119.0 314.1,118.5 314.6,118.7 315.1,119.6 315.6,119.1 316.1,120.0 316.7,120.5 317.2,120.2 317.7,120.2 318.2,121.2 318.7,120.9 319.3,121.4 319.8,120.1 320.3,122.2 320.8,121.4 321.3,122.4 321.9,122.7 322.4,122.4 322.9,122.6 323.4,122.6 323.9,123.3 324.5,124.1 325.0,124.2 325.5,123.9 326.0,124.1 326.5,123.8 327.1,124.6 327.6,124.4 328.1,124.4 328.6,125.3 329.1,126.4 329.7,126.4 330.2,126.7 330.7,125.3 331.2,126.8 331.7,125.8 332.3,126.4 332.8,125.9 333.3,126.5 333.8,127.2 334.3,127.5 334.9,127.5 335.4,127.6 335.9,128.1 336.4,128.0 336.9,127.3 337.5,129.2 338.0,128.3 338.5,129.1 339.0,128.6 339.5,128.4 340.1,129.1 340.6,128.8 341.1,130.2 341.6,128.8 342.1,129.9 342.7,129.4 343.2,129.7 343.7,131.3 344.2,130.5 344.7,130.1 345.3,129.5 345.8,130.3 346.3,130.4 346.8,131.4 347.4,130.0 347.9,129.9 348.4,131.0 348.9,131.2 349.4,132.1 350.0,130.8 350.5,130.0 351.0,131.1 351.5,130.9 352.0,131.4 352.6,132.3 353.1,131.2 353.6,132.7 354.1,132.2 354.6,132.0 355.2,131.8 355.7,132.1 356.2,132.2 356.7,132.9 357.2,133.3 357.8,132.7 358.3,133.2 358.8,133.6 359.3,133.6 359.8,133.3 360.4,134.1 360.9,133.9 361.4,134.1 361.9,133.2 362.4,133.2 363.0,132.4 363.5,134.3 364.0,134.0 364.5,133.2 365.0,133.9 365.6,134.0 366.1,132.9 366.6,134.1 367.1,134.6 367.6,134.8 368.2,133.9 368.7,134.0 369.2,135.0 369.7,134.8 370.2,134.1 370.8,134.1 371.3,134.8 371.8,134.2 372.3,134.3 372.8,135.6 373.4,134.8 373.9,134.5 374.4,135.1 374.9,136.0 375.4,135.0 376.0,134.5 376.5,134.1 377.0,136.2 377.5,133.7 378.0,135.7 378.6,134.6 379.1,134.5 379.6,134.7 380.1,135.2 380.6,135.9 381.2,135.0 381.7,135.8 382.2,136.8 382.7,134.0 383.2,135.1 383.8,134.6 384.3,136.1 384.8,134.9 385.3,134.8 385.8,134.9 386.4,135.8 386.9,136.4 387.4,135.9 387.9,137.0 388.4,136.8 389.0,135.9 389.5,136.5 390.0,136.1 390.5,136.1 391.1,135.0 391.6,135.4 392.1,136.1 392.6,135.5 393.1,136.6 393.7,136.4 394.2,135.7 394.7,136.9 395.2,136.4 395.7,137.0 396.3,136.3 396.8,135.5 397.3,136.8 397.8,136.3 398.3,136.9 398.9,137.1 399.4,137.1 399.9,135.7 400.4,135.3 400.9,136.3 401.5,137.0 402.0,136.2 402.5,136.8 403.0,136.2 403.5,136.5 404.1,136.5 404.6,136.4 405.1,137.0 405.6,137.0 406.1,137.7 406.7,137.0 407.2,137.6 407.7,136.9 408.2,137.4 408.7,136.8 409.3,136.6 409.8,137.7 410.3,137.3 410.8,137.4 411.3,136.5 411.9,136.0 412.4,136.5 412.9,137.2 413.4,136.2 413.9,137.8 414.5,136.2 415.0,137.4 415.5,138.6 416.0,135.7 416.5,136.3 417.1,137.7 417.6,137.0 418.1,137.3 418.6,137.1 419.1,138.0 419.7,137.6 420.2,137.0 420.7,137.1 421.2,136.6 421.7,137.2 422.3,136.0 422.8,137.7 423.3,137.1 423.8,138.3 424.3,138.0 424.9,136.6 425.4,137.8 425.9,137.1 426.4,137.4 426.9,137.9 427.5,137.6 428.0,137.7 428.5,137.7 429.0,137.0 429.5,137.1 430.1,137.7 430.6,137.9 431.1,137.3 431.6,137.5 432.2,136.9 432.7,136.0 433.2,137.0 433.7,137.5 434.2,137.6 434.8,138.0 435.3,138.0 435.8,138.1 436.3,137.7 436.8,137.8 437.4,137.2 437.9,137.8 438.4,137.7 438.9,138.2 439.4,136.7 440.0,137.3 440.5,136.6 441.0,137.2 441.5,136.8 442.0,137.8 442.6,137.2 443.1,136.2 443.6,138.3 444.1,137.0 444.6,136.7 445.2,137.4 445.7,137.3 446.2,137.0 446.7,138.0 447.2,137.5 447.8,138.2 448.3,138.1 448.8,138.0 449.3,137.8 449.8,137.6 450.4,137.5 450.9,138.5 451.4,136.6 451.9,137.1 452.4,137.3 453.0,137.9 453.5,137.8 454.0,137.5 454.5,137.5 455.0,138.7 455.6,137.4 456.1,136.2 456.6,138.8 457.1,137.2 457.6,137.6 458.2,137.9 458.7,137.1 459.2,138.5 459.7,137.7 460.2,137.0 460.8,137.9 461.3,138.1 461.8,137.8 462.3,138.1 462.8,137.0 463.4,138.3 463.9,137.4 464.4,138.5 464.9,137.5 465.4,137.9 466.0,139.3 466.5,137.9 467.0,138.5 467.5,138.1 468.0,137.0 468.6,138.5 469.1,138.5 469.6,137.1 470.1,137.8 470.6,137.0 471.2,137.7 471.7,138.4 472.2,137.9 472.7,137.2 473.3,137.4 473.8,137.9 474.3,137.9 474.8,138.0 475.3,138.2 475.9,136.9 476.4,137.9 476.9,138.6 477.4,138.2 477.9,137.5 478.5,137.6 479.0,138.0 479.5,138.3 480.0,137.9 480.5,138.9 481.1,138.7 481.6,137.5 482.1,138.2 482.6,137.8 483.1,137.3 483.7,137.6 484.2,138.0 484.7,136.8 485.2,137.6 485.7,138.2 486.3,137.6 486.8,137.8 487.3,138.5 487.8,138.0 488.3,138.1 488.9,139.1 489.4,138.1 489.9,138.2 490.4,138.2 490.9,138.9 491.5,138.2 492.0,138.0 492.5,138.0" fill="none" stroke="#b8401c" stroke-width="1.5" stroke-linejoin="round" />
<polyline points="284.4,117.8 284.9,116.2 285.4,114.7 286.0,113.5 286.5,112.4 287.0,111.4 287.5,110.6 288.0,109.9 288.6,109.3 289.1,108.8 289.6,108.4 290.1,108.1 290.6,107.8 291.2,107.6 291.7,107.5 292.2,107.4 292.7,107.4 293.2,107.4 293.8,107.5 294.3,107.6 294.8,107.7 295.3,107.8 295.8,108.0 296.4,108.2 296.9,108.4 297.4,108.7 297.9,108.9 298.4,109.2 299.0,109.5 299.5,109.8 300.0,110.1 300.5,110.4 301.0,110.7 301.6,111.0 302.1,111.3 302.6,111.6 303.1,112.0 303.6,112.3 304.2,112.6 304.7,113.0 305.2,113.3 305.7,113.6 306.3,114.0 306.8,114.3 307.3,114.6 307.8,114.9 308.3,115.3 308.9,115.6 309.4,115.9 309.9,116.2 310.4,116.5 310.9,116.8 311.5,117.2 312.0,117.5 312.5,117.8 313.0,118.1 313.5,118.3 314.1,118.6 314.6,118.9 315.1,119.2 315.6,119.5 316.1,119.8 316.7,120.0 317.2,120.3 317.7,120.6 318.2,120.8 318.7,121.1 319.3,121.4 319.8,121.6 320.3,121.9 320.8,122.1 321.3,122.3 321.9,122.6 322.4,122.8 322.9,123.1 323.4,123.3 323.9,123.5 324.5,123.7 325.0,123.9 325.5,124.2 326.0,124.4 326.5,124.6 327.1,124.8 327.6,125.0 328.1,125.2 328.6,125.4 329.1,125.6 329.7,125.8 330.2,126.0 330.7,126.1 331.2,126.3 331.7,126.5 332.3,126.7 332.8,126.9 333.3,127.0 333.8,127.2 334.3,127.4 334.9,127.5 335.4,127.7 335.9,127.8 336.4,128.0 336.9,128.2 337.5,128.3 338.0,128.5 338.5,128.6 339.0,128.7 339.5,128.9 340.1,129.0 340.6,129.2 341.1,129.3 341.6,129.4 342.1,129.6 342.7,129.7 343.2,129.8 343.7,130.0 344.2,130.1 344.7,130.2 345.3,130.3 345.8,130.4 346.3,130.6 346.8,130.7 347.4,130.8 347.9,130.9 348.4,131.0 348.9,131.1 349.4,131.2 350.0,131.3 350.5,131.4 351.0,131.5 351.5,131.6 352.0,131.7 352.6,131.8 353.1,131.9 353.6,132.0 354.1,132.1 354.6,132.2 355.2,132.3 355.7,132.4 356.2,132.4 356.7,132.5 357.2,132.6 357.8,132.7 358.3,132.8 358.8,132.9 359.3,132.9 359.8,133.0 360.4,133.1 360.9,133.2 361.4,133.2 361.9,133.3 362.4,133.4 363.0,133.5 363.5,133.5 364.0,133.6 364.5,133.7 365.0,133.7 365.6,133.8 366.1,133.9 366.6,133.9 367.1,134.0 367.6,134.1 368.2,134.1 368.7,134.2 369.2,134.2 369.7,134.3 370.2,134.3 370.8,134.4 371.3,134.5 371.8,134.5 372.3,134.6 372.8,134.6 373.4,134.7 373.9,134.7 374.4,134.8 374.9,134.8 375.4,134.9 376.0,134.9 376.5,135.0 377.0,135.0 377.5,135.1 378.0,135.1 378.6,135.2 379.1,135.2 379.6,135.2 380.1,135.3 380.6,135.3 381.2,135.4 381.7,135.4 382.2,135.4 382.7,135.5 383.2,135.5 383.8,135.6 384.3,135.6 384.8,135.6 385.3,135.7 385.8,135.7 386.4,135.7 386.9,135.8 387.4,135.8 387.9,135.8 388.4,135.9 389.0,135.9 389.5,135.9 390.0,136.0 390.5,136.0 391.1,136.0 391.6,136.1 392.1,136.1 392.6,136.1 393.1,136.2 393.7,136.2 394.2,136.2 394.7,136.2 395.2,136.3 395.7,136.3 396.3,136.3 396.8,136.4 397.3,136.4 397.8,136.4 398.3,136.4 398.9,136.5 399.4,136.5 399.9,136.5 400.4,136.5 400.9,136.5 401.5,136.6 402.0,136.6 402.5,136.6 403.0,136.6 403.5,136.7 404.1,136.7 404.6,136.7 405.1,136.7 405.6,136.7 406.1,136.8 406.7,136.8 407.2,136.8 407.7,136.8 408.2,136.8 408.7,136.9 409.3,136.9 409.8,136.9 410.3,136.9 410.8,136.9 411.3,136.9 411.9,137.0 412.4,137.0 412.9,137.0 413.4,137.0 413.9,137.0 414.5,137.0 415.0,137.1 415.5,137.1 416.0,137.1 416.5,137.1 417.1,137.1 417.6,137.1 418.1,137.1 418.6,137.2 419.1,137.2 419.7,137.2 420.2,137.2 420.7,137.2 421.2,137.2 421.7,137.2 422.3,137.3 422.8,137.3 423.3,137.3 423.8,137.3 424.3,137.3 424.9,137.3 425.4,137.3 425.9,137.3 426.4,137.3 426.9,137.4 427.5,137.4 428.0,137.4 428.5,137.4 429.0,137.4 429.5,137.4 430.1,137.4 430.6,137.4 431.1,137.4 431.6,137.5 432.2,137.5 432.7,137.5 433.2,137.5 433.7,137.5 434.2,137.5 434.8,137.5 435.3,137.5 435.8,137.5 436.3,137.5 436.8,137.5 437.4,137.6 437.9,137.6 438.4,137.6 438.9,137.6 439.4,137.6 440.0,137.6 440.5,137.6 441.0,137.6 441.5,137.6 442.0,137.6 442.6,137.6 443.1,137.6 443.6,137.6 444.1,137.6 444.6,137.7 445.2,137.7 445.7,137.7 446.2,137.7 446.7,137.7 447.2,137.7 447.8,137.7 448.3,137.7 448.8,137.7 449.3,137.7 449.8,137.7 450.4,137.7 450.9,137.7 451.4,137.7 451.9,137.7 452.4,137.7 453.0,137.8 453.5,137.8 454.0,137.8 454.5,137.8 455.0,137.8 455.6,137.8 456.1,137.8 456.6,137.8 457.1,137.8 457.6,137.8 458.2,137.8 458.7,137.8 459.2,137.8 459.7,137.8 460.2,137.8 460.8,137.8 461.3,137.8 461.8,137.8 462.3,137.8 462.8,137.8 463.4,137.8 463.9,137.9 464.4,137.9 464.9,137.9 465.4,137.9 466.0,137.9 466.5,137.9 467.0,137.9 467.5,137.9 468.0,137.9 468.6,137.9 469.1,137.9 469.6,137.9 470.1,137.9 470.6,137.9 471.2,137.9 471.7,137.9 472.2,137.9 472.7,137.9 473.3,137.9 473.8,137.9 474.3,137.9 474.8,137.9 475.3,137.9 475.9,137.9 476.4,137.9 476.9,137.9 477.4,137.9 477.9,137.9 478.5,137.9 479.0,137.9 479.5,138.0 480.0,138.0 480.5,138.0 481.1,138.0 481.6,138.0 482.1,138.0 482.6,138.0 483.1,138.0 483.7,138.0 484.2,138.0 484.7,138.0 485.2,138.0 485.7,138.0 486.3,138.0 486.8,138.0 487.3,138.0 487.8,138.0 488.3,138.0 488.9,138.0 489.4,138.0 489.9,138.0 490.4,138.0 490.9,138.0 491.5,138.0 492.0,138.0 492.5,138.0" fill="none" stroke="#7a5a10" stroke-width="0.8" stroke-linejoin="round" stroke-opacity="0.7"/>
<g clip-path="url(#clipC)">
<polyline points="60.5,219.3 60.7,180.0 60.9,233.2 61.1,222.2 61.3,202.3 61.5,233.2 61.8,231.8 62.0,209.4 62.2,205.7 62.4,230.6 62.6,223.4 62.8,211.6 63.0,259.5 63.2,207.7 63.4,242.4 63.6,194.5 63.8,240.6 64.0,240.5 64.3,224.0 64.5,241.6 64.7,227.0 64.9,223.1 65.1,239.8 65.3,227.4 65.5,205.6 65.7,224.9 65.9,228.6 66.1,197.7 66.3,243.5 66.5,226.3 66.8,217.9 67.0,242.5 67.2,214.1 67.4,183.3 67.6,238.3 67.8,190.5 68.0,246.3 68.2,192.0 68.4,239.2 68.6,200.9 68.8,237.9 69.0,249.4 69.3,240.4 69.5,234.8 69.7,223.3 69.9,230.1 70.1,203.6 70.3,230.0 70.5,212.6 70.7,229.4 70.9,224.9 71.1,221.7 71.3,235.6 71.6,234.9 71.8,237.6 72.0,264.9 72.2,221.8 72.4,240.0 72.6,240.9 72.8,238.4 73.0,238.2 73.2,229.3 73.4,253.3 73.6,237.8 73.8,231.4 74.1,233.6 74.3,229.3 74.5,244.1 74.7,247.9 74.9,237.0 75.1,219.5 75.3,251.5 75.5,214.9 75.7,224.7 75.9,192.1 76.1,193.1 76.3,258.0 76.6,261.9 76.8,255.7 77.0,243.3 77.2,205.2 77.4,245.0 77.6,236.4 77.8,237.2 78.0,211.7 78.2,228.8 78.4,247.7 78.6,227.8 78.8,255.0 79.1,258.2 79.3,253.1 79.5,239.1 79.7,230.6 79.9,242.7 80.1,253.4 80.3,250.7 80.5,252.6 80.7,233.2 80.9,268.8 81.1,182.0 81.3,246.9 81.6,251.2 81.8,235.4 82.0,225.6 82.2,235.5 82.4,225.5 82.6,238.7 82.8,223.2 83.0,223.1 83.2,242.4 83.4,220.6 83.6,238.8 83.9,240.0 84.1,254.5 84.3,245.6 84.5,230.5 84.7,260.4 84.9,232.6 85.1,236.9 85.3,220.0 85.5,273.5 85.7,243.7 85.9,233.1 86.1,253.3 86.4,241.2 86.6,259.1 86.8,253.4 87.0,252.3 87.2,230.5 87.4,269.3 87.6,205.9 87.8,235.1 88.0,231.8 88.2,256.6 88.4,252.3 88.6,211.6 88.9,255.5 89.1,253.8 89.3,247.8 89.5,285.1 89.7,227.1 89.9,219.6 90.1,254.3 90.3,248.1 90.5,227.7 90.7,228.7 90.9,232.9 91.1,228.2 91.4,257.1 91.6,247.3 91.8,246.5 92.0,265.2 92.2,231.1 92.4,254.8 92.6,212.8 92.8,244.3 93.0,254.6 93.2,234.2 93.4,220.0 93.7,238.8 93.9,263.1 94.1,240.6 94.3,226.4 94.5,253.1 94.7,283.2 94.9,231.7 95.1,228.2 95.3,262.1 95.5,251.9 95.7,257.3 95.9,242.4 96.2,245.1 96.4,230.4 96.6,236.7 96.8,269.2 97.0,241.2 97.2,234.3 97.4,240.7 97.6,232.6 97.8,255.1 98.0,260.9 98.2,234.2 98.4,262.7 98.7,278.4 98.9,233.1 99.1,258.1 99.3,278.6 99.5,267.8 99.7,266.8 99.9,264.5 100.1,253.2 100.3,223.5 100.5,281.0 100.7,237.6 100.9,244.4 101.2,263.7 101.4,238.9 101.6,249.7 101.8,270.6 102.0,222.5 102.2,261.1 102.4,245.4 102.6,232.1 102.8,228.9 103.0,255.6 103.2,234.8 103.5,259.8 103.7,233.3 103.9,260.2 104.1,254.6 104.3,222.5 104.5,201.4 104.7,262.3 104.9,173.3 105.1,244.6 105.3,261.4 105.5,209.4 105.7,266.7 106.0,233.9 106.2,232.9 106.4,258.3 106.6,235.9 106.8,247.7 107.0,250.1 107.2,264.3 107.4,242.3 107.6,279.5 107.8,225.0 108.0,236.8 108.2,254.5 108.5,246.3 108.7,268.2 108.9,242.4 109.1,253.4 109.3,285.1 109.5,270.4 109.7,267.9 109.9,246.0 110.1,264.9 110.3,250.3 110.5,236.1 110.7,236.6 111.0,198.0 111.2,255.6 111.4,266.9 111.6,237.0 111.8,247.2 112.0,235.6 112.2,251.5 112.4,234.7 112.6,226.5 112.8,208.4 113.0,244.7 113.3,246.3 113.5,248.7 113.7,224.8 113.9,238.0 114.1,259.4 114.3,227.5 114.5,208.6 114.7,238.3 114.9,253.6 115.1,255.9 115.3,223.5 115.5,256.9 115.8,270.7 116.0,252.9 116.2,257.2 116.4,222.0 116.6,249.8 116.8,239.5 117.0,267.1 117.2,271.9 117.4,243.4 117.6,227.3 117.8,262.9 118.0,244.5 118.3,248.8 118.5,252.0 118.7,238.0 118.9,257.0 119.1,285.1 119.3,244.8 119.5,245.7 119.7,238.4 119.9,272.5 120.1,232.4 120.3,225.9 120.5,239.1 120.8,233.6 121.0,261.1 121.2,242.2 121.4,257.2 121.6,234.8 121.8,255.1 122.0,253.9 122.2,238.1 122.4,252.2 122.6,256.2 122.8,258.0 123.0,249.2 123.3,240.4 123.5,261.3 123.7,255.0 123.9,262.3 124.1,285.1 124.3,263.0 124.5,225.8 124.7,222.0 124.9,248.0 125.1,255.3 125.3,223.3 125.6,223.6 125.8,255.8 126.0,250.3 126.2,250.3 126.4,234.6 126.6,255.0 126.8,224.9 127.0,267.4 127.2,221.0 127.4,269.2 127.6,229.1 127.8,259.7 128.1,255.8 128.3,222.6 128.5,237.2 128.7,271.0 128.9,260.1 129.1,275.1 129.3,253.3 129.5,239.7 129.7,260.3 129.9,265.1 130.1,260.9 130.3,266.0 130.6,247.9 130.8,233.9 131.0,283.0 131.2,257.2 131.4,261.5 131.6,248.6 131.8,269.2 132.0,257.7 132.2,270.5 132.4,245.8 132.6,254.3 132.8,258.1 133.1,229.1 133.3,259.4 133.5,278.0 133.7,247.4 133.9,251.8 134.1,258.2 134.3,242.0 134.5,238.7 134.7,271.6 134.9,267.2 135.1,234.1 135.4,236.0 135.6,266.7 135.8,273.0 136.0,265.3 136.2,263.4 136.4,278.9 136.6,255.9 136.8,274.6 137.0,273.6 137.2,243.4 137.4,266.2 137.6,257.5 137.9,221.5 138.1,245.0 138.3,261.4 138.5,256.0 138.7,285.1 138.9,231.8 139.1,247.4 139.3,232.0 139.5,256.7 139.7,246.6 139.9,281.8 140.1,230.8 140.4,237.3 140.6,264.5 140.8,258.2 141.0,275.2 141.2,253.4 141.4,254.8 141.6,218.5 141.8,255.6 142.0,257.9 142.2,266.6 142.4,217.0 142.6,275.0 142.9,269.5 143.1,262.4 143.3,252.3 143.5,259.6 143.7,269.9 143.9,246.0 144.1,265.0 144.3,246.7 144.5,277.0 144.7,268.6 144.9,196.8 145.2,280.5 145.4,258.4 145.6,247.2 145.8,262.9 146.0,254.1 146.2,273.4 146.4,238.9 146.6,211.4 146.8,254.2 147.0,282.6 147.2,272.5 147.4,243.8 147.7,233.3 147.9,253.5 148.1,240.0 148.3,266.4 148.5,260.5 148.7,257.8 148.9,251.8 149.1,279.6 149.3,244.5 149.5,239.0 149.7,274.3 149.9,277.2 150.2,253.0 150.4,267.3 150.6,285.1 150.8,220.1 151.0,255.8 151.2,264.8 151.4,214.3 151.6,285.1 151.8,253.5 152.0,256.7 152.2,273.0 152.4,269.0 152.7,252.7 152.9,266.1 153.1,264.6 153.3,234.5 153.5,246.0 153.7,246.8 153.9,225.1 154.1,251.4 154.3,237.6 154.5,258.6 154.7,231.9 155.0,271.9 155.2,236.1 155.4,278.1 155.6,263.3 155.8,220.0 156.0,237.8 156.2,268.0 156.4,258.4 156.6,263.7 156.8,269.1 157.0,275.5 157.2,257.7 157.5,285.1 157.7,257.1 157.9,258.3 158.1,268.0 158.3,273.1 158.5,278.4 158.7,232.1 158.9,277.8 159.1,269.4 159.3,261.1 159.5,264.0 159.7,285.1 160.0,258.1 160.2,234.2 160.4,272.1 160.6,285.1 160.8,243.9 161.0,254.1 161.2,230.4 161.4,267.0 161.6,251.2 161.8,276.8 162.0,229.1 162.2,269.4 162.5,285.1 162.7,260.8 162.9,261.0 163.1,231.8 163.3,263.9 163.5,259.3 163.7,250.6 163.9,236.5 164.1,260.0 164.3,244.3 164.5,251.8 164.8,263.4 165.0,258.1 165.2,258.8 165.4,272.3 165.6,241.9 165.8,279.0 166.0,242.6 166.2,245.7 166.4,260.6 166.6,270.2 166.8,262.5 167.0,252.6 167.3,248.8 167.5,222.7 167.7,245.2 167.9,267.3 168.1,256.0 168.3,281.7 168.5,217.3 168.7,257.2 168.9,253.9 169.1,242.9 169.3,249.6 169.5,285.1 169.8,258.9 170.0,280.2 170.2,244.3 170.4,224.1 170.6,266.9 170.8,258.5 171.0,263.1 171.2,254.6 171.4,250.4 171.6,241.3 171.8,273.7 172.0,237.2 172.3,272.9 172.5,255.7 172.7,243.2 172.9,249.5 173.1,273.1 173.3,269.7 173.5,266.3 173.7,260.5 173.9,243.4 174.1,278.2 174.3,253.1 174.5,251.1 174.8,251.8 175.0,253.2 175.2,238.2 175.4,238.6 175.6,247.6 175.8,251.8 176.0,234.3 176.2,285.1 176.4,241.6 176.6,285.1 176.8,263.9 177.1,273.7 177.3,285.1 177.5,265.4 177.7,269.7 177.9,252.9 178.1,280.9 178.3,239.6 178.5,237.1 178.7,263.5 178.9,270.1 179.1,271.2 179.3,276.1 179.6,267.8 179.8,260.0 180.0,262.6 180.2,280.2 180.4,263.9 180.6,272.8 180.8,257.8 181.0,205.9 181.2,251.2 181.4,264.6 181.6,283.3 181.8,280.3 182.1,284.2 182.3,249.8 182.5,271.1 182.7,259.3 182.9,269.0 183.1,258.9 183.3,240.2 183.5,285.1 183.7,234.7 183.9,271.7 184.1,247.8 184.3,274.9 184.6,276.4 184.8,280.0 185.0,280.3 185.2,253.6 185.4,223.7 185.6,274.5 185.8,246.8 186.0,256.7 186.2,276.0 186.4,264.3 186.6,263.7 186.9,270.2 187.1,232.9 187.3,285.1 187.5,255.0 187.7,255.7 187.9,285.1 188.1,237.0 188.3,247.9 188.5,258.2 188.7,254.5 188.9,250.6 189.1,285.1 189.4,239.4 189.6,228.0 189.8,246.5 190.0,246.0 190.2,280.5 190.4,262.2 190.6,272.1 190.8,268.9 191.0,264.7 191.2,272.0 191.4,262.4 191.6,285.1 191.9,262.8 192.1,259.3 192.3,270.6 192.5,270.8 192.7,233.7 192.9,277.8 193.1,275.6 193.3,272.1 193.5,243.5 193.7,230.7 193.9,255.9 194.1,270.8 194.4,266.7 194.6,245.5 194.8,273.6 195.0,240.0 195.2,240.5 195.4,245.1 195.6,251.5 195.8,250.0 196.0,238.5 196.2,275.7 196.4,243.9 196.7,249.6 196.9,271.6 197.1,277.2 197.3,263.8 197.5,274.8 197.7,283.5 197.9,274.2 198.1,240.1 198.3,232.8 198.5,251.5 198.7,225.8 198.9,268.1 199.2,261.9 199.4,256.8 199.6,276.2 199.8,274.9 200.0,259.4 200.2,265.4 200.4,276.0 200.6,255.3 200.8,264.6 201.0,246.3 201.2,260.9 201.4,265.1 201.7,259.0 201.9,277.1 202.1,270.4 202.3,266.6 202.5,250.2 202.7,251.7 202.9,242.6 203.1,285.0 203.3,266.5 203.5,266.8 203.7,258.5 203.9,246.6 204.2,268.2 204.4,249.8 204.6,258.4 204.8,277.6 205.0,241.9 205.2,246.8 205.4,269.1 205.6,249.1 205.8,271.4 206.0,244.9 206.2,264.1 206.4,272.4 206.7,266.3 206.9,259.8 207.1,258.3 207.3,258.5 207.5,260.5 207.7,268.9 207.9,285.1 208.1,259.7 208.3,285.1 208.5,257.6 208.7,244.9 209.0,257.1 209.2,266.6 209.4,263.6 209.6,263.0 209.8,268.9 210.0,269.4 210.2,274.2 210.4,244.2 210.6,261.3 210.8,247.5 211.0,264.7 211.2,260.1 211.5,233.4 211.7,232.0 211.9,249.3 212.1,257.7 212.3,270.7 212.5,272.2 212.7,237.5 212.9,265.1 213.1,253.5 213.3,223.0 213.5,245.7 213.7,253.5 214.0,266.8 214.2,227.6 214.4,255.6 214.6,253.4 214.8,263.6 215.0,281.3 215.2,280.2 215.4,255.4 215.6,255.6 215.8,264.6 216.0,262.3 216.2,281.7 216.5,265.9 216.7,282.0 216.9,248.4 217.1,244.8 217.3,220.9 217.5,248.7 217.7,256.5 217.9,285.1 218.1,285.1 218.3,269.7 218.5,263.8 218.8,247.5 219.0,238.7 219.2,252.9 219.4,258.2 219.6,251.9 219.8,240.6 220.0,276.4 220.2,267.8 220.4,281.1 220.6,238.2 220.8,242.8 221.0,250.6 221.3,278.4 221.5,258.8 221.7,264.6 221.9,260.2 222.1,264.0 222.3,253.9 222.5,266.9 222.7,249.1 222.9,257.9 223.1,265.5 223.3,262.9 223.5,254.5 223.8,249.7 224.0,265.2 224.2,257.1 224.4,266.9 224.6,256.3 224.8,248.4 225.0,276.4 225.2,251.7 225.4,255.4 225.6,285.0 225.8,274.8 226.0,268.7 226.3,273.1 226.5,278.2 226.7,250.8 226.9,264.8 227.1,255.9 227.3,267.5 227.5,237.4 227.7,285.1 227.9,261.8 228.1,253.1 228.3,260.8 228.6,267.9 228.8,276.9 229.0,259.0 229.2,256.5 229.4,265.1 229.6,272.4 229.8,253.7 230.0,226.1 230.2,265.7 230.4,256.6 230.6,256.1 230.8,285.1 231.1,259.7 231.3,271.5 231.5,241.7 231.7,265.1 231.9,272.5 232.1,264.6 232.3,279.7 232.5,269.4 232.7,262.2 232.9,280.8 233.1,264.7 233.3,271.9 233.6,233.4 233.8,251.4 234.0,257.6 234.2,227.8 234.4,247.0 234.6,237.8 234.8,246.1 235.0,263.2 235.2,257.8 235.4,259.0 235.6,257.2 235.8,258.7 236.1,272.7 236.3,285.1 236.5,271.1 236.7,270.8 236.9,260.6 237.1,261.5 237.3,285.1 237.5,251.7 237.7,249.2 237.9,260.2 238.1,237.8 238.4,234.9 238.6,278.7 238.8,246.8 239.0,255.3 239.2,234.7 239.4,248.2 239.6,271.8 239.8,270.0 240.0,273.3 240.2,272.3 240.4,263.0 240.6,282.2 240.9,276.5 241.1,271.0 241.3,262.6 241.5,256.1 241.7,285.1 241.9,285.1 242.1,269.5 242.3,261.1 242.5,269.9 242.7,263.6 242.9,262.4 243.1,261.3 243.4,261.4 243.6,251.5 243.8,268.3 244.0,245.6 244.2,255.0 244.4,259.4 244.6,261.0 244.8,254.2 245.0,247.1 245.2,233.4 245.4,256.3 245.6,249.1 245.9,259.9 246.1,243.8 246.3,262.0 246.5,285.1 246.7,242.6 246.9,260.1 247.1,278.3 247.3,264.5 247.5,274.2 247.7,231.7 247.9,254.5 248.2,284.0 248.4,253.9 248.6,267.3 248.8,252.0 249.0,276.6 249.2,285.1 249.4,260.7 249.6,266.6 249.8,267.6 250.0,285.1 250.2,255.6 250.4,237.8 250.7,285.1 250.9,245.0 251.1,269.8 251.3,228.2 251.5,255.5 251.7,236.2 251.9,245.9 252.1,254.2 252.3,270.1 252.5,251.6 252.7,268.9 252.9,285.1 253.2,232.7 253.4,266.7 253.6,285.1 253.8,256.9 254.0,283.9 254.2,258.1 254.4,268.8 254.6,269.1 254.8,260.7 255.0,245.7 255.2,268.4 255.4,254.7 255.7,253.1 255.9,277.1 256.1,258.4 256.3,275.1 256.5,246.5 256.7,255.2 256.9,261.5 257.1,280.8 257.3,260.1 257.5,272.6 257.7,251.7 257.9,263.4 258.2,273.3 258.4,248.5 258.6,251.4 258.8,270.2 259.0,245.2 259.2,266.0 259.4,266.1 259.6,260.0 259.8,272.4 260.0,268.0 260.2,264.0 260.5,239.9 260.7,240.4 260.9,265.4 261.1,238.8 261.3,262.4 261.5,256.3 261.7,249.2 261.9,257.6 262.1,227.3 262.3,258.3 262.5,278.8 262.7,243.2 263.0,267.6 263.2,266.1 263.4,285.1 263.6,247.5 263.8,250.1 264.0,232.3 264.2,247.8 264.4,237.7 264.6,285.1 264.8,248.4 265.0,272.4 265.2,266.8 265.5,246.7 265.7,285.1 265.9,280.8 266.1,256.6 266.3,264.4 266.5,273.4 266.7,255.6 266.9,267.5 267.1,284.1 267.3,277.6 267.5,236.6 267.7,283.4 268.0,258.6 268.2,253.1 268.4,267.9 268.6,279.2 268.8,266.4 269.0,259.8" fill="none" stroke="#111" stroke-width="0.85" stroke-linejoin="round" />
</g>
<line x1="64.2" y1="262.0" x2="269.6" y2="262.0" stroke="#111" stroke-width="1.3" stroke-dasharray="2.6 1.8"/>
<polyline points="63.2,227.4 63.2,227.5 63.3,227.5 63.3,227.6 63.4,227.6 63.4,227.7 63.5,227.7 63.5,227.8 63.6,227.8 63.6,227.9 64.1,228.3 64.7,228.8 65.2,229.2 65.7,229.6 66.2,230.0 66.8,230.4 67.3,230.9 67.8,231.2 68.3,231.6 68.8,232.0 69.4,232.4 69.9,232.8 70.4,233.2 70.9,233.5 71.4,233.9 72.0,234.2 72.5,234.6 73.0,234.9 73.5,235.3 74.1,235.6 74.6,236.0 75.1,236.3 75.6,236.6 76.1,237.0 76.7,237.3 77.2,237.6 77.7,237.9 78.2,238.2 78.7,238.5 79.3,238.8 79.8,239.1 80.3,239.4 80.8,239.7 81.3,240.0 81.9,240.2 82.4,240.5 82.9,240.8 83.4,241.1 84.0,241.3 84.5,241.6 85.0,241.9 85.5,242.1 86.0,242.4 86.6,242.6 87.1,242.9 87.6,243.1 88.1,243.3 88.6,243.6 89.2,243.8 89.7,244.1 90.2,244.3 90.7,244.5 91.3,244.7 91.8,244.9 92.3,245.2 92.8,245.4 93.3,245.6 93.9,245.8 94.4,246.0 94.9,246.2 95.4,246.4 95.9,246.6 96.5,246.8 97.0,247.0 97.5,247.2 98.0,247.4 98.6,247.6 99.1,247.8 99.6,247.9 100.1,248.1 100.6,248.3 101.2,248.5 101.7,248.6 102.2,248.8 102.7,249.0 103.2,249.1 103.8,249.3 104.3,249.5 104.8,249.6 105.3,249.8 105.8,249.9 106.4,250.1 106.9,250.2 107.4,250.4 107.9,250.5 108.5,250.7 109.0,250.8 109.5,251.0 110.0,251.1 110.5,251.3 111.1,251.4 111.6,251.5 112.1,251.7 112.6,251.8 113.1,251.9 113.7,252.0 114.2,252.2 114.7,252.3 115.2,252.4 115.8,252.5 116.3,252.7 116.8,252.8 117.3,252.9 117.8,253.0 118.4,253.1 118.9,253.2 119.4,253.4 119.9,253.5 120.4,253.6 121.0,253.7 121.5,253.8 122.0,253.9 122.5,254.0 123.0,254.1 123.6,254.2 124.1,254.3 124.6,254.4 125.1,254.5 125.7,254.6 126.2,254.7 126.7,254.8 127.2,254.9 127.7,255.0 128.3,255.0 128.8,255.1 129.3,255.2 129.8,255.3 130.3,255.4 130.9,255.5 131.4,255.6 131.9,255.6 132.4,255.7 133.0,255.8 133.5,255.9 134.0,256.0 134.5,256.0 135.0,256.1 135.6,256.2 136.1,256.3 136.6,256.3 137.1,256.4 137.6,256.5 138.2,256.6 138.7,256.6 139.2,256.7 139.7,256.8 140.3,256.8 140.8,256.9 141.3,257.0 141.8,257.0 142.3,257.1 142.9,257.1 143.4,257.2 143.9,257.3 144.4,257.3 144.9,257.4 145.5,257.4 146.0,257.5 146.5,257.6 147.0,257.6 147.5,257.7 148.1,257.7 148.6,257.8 149.1,257.8 149.6,257.9 150.2,257.9 150.7,258.0 151.2,258.0 151.7,258.1 152.2,258.1 152.8,258.2 153.3,258.2 153.8,258.3 154.3,258.3 154.8,258.4 155.4,258.4 155.9,258.5 156.4,258.5 156.9,258.6 157.5,258.6 158.0,258.7 158.5,258.7 159.0,258.7 159.5,258.8 160.1,258.8 160.6,258.9 161.1,258.9 161.6,258.9 162.1,259.0 162.7,259.0 163.2,259.1 163.7,259.1 164.2,259.1 164.8,259.2 165.3,259.2 165.8,259.2 166.3,259.3 166.8,259.3 167.4,259.3 167.9,259.4 168.4,259.4 168.9,259.4 169.4,259.5 170.0,259.5 170.5,259.5 171.0,259.6 171.5,259.6 172.0,259.6 172.6,259.7 173.1,259.7 173.6,259.7 174.1,259.8 174.7,259.8 175.2,259.8 175.7,259.8 176.2,259.9 176.7,259.9 177.3,259.9 177.8,259.9 178.3,260.0 178.8,260.0 179.3,260.0 179.9,260.0 180.4,260.1 180.9,260.1 181.4,260.1 182.0,260.1 182.5,260.2 183.0,260.2 183.5,260.2 184.0,260.2 184.6,260.3 185.1,260.3 185.6,260.3 186.1,260.3 186.6,260.3 187.2,260.4 187.7,260.4 188.2,260.4 188.7,260.4 189.2,260.4 189.8,260.5 190.3,260.5 190.8,260.5 191.3,260.5 191.9,260.5 192.4,260.6 192.9,260.6 193.4,260.6 193.9,260.6 194.5,260.6 195.0,260.7 195.5,260.7 196.0,260.7 196.5,260.7 197.1,260.7 197.6,260.7 198.1,260.8 198.6,260.8 199.2,260.8 199.7,260.8 200.2,260.8 200.7,260.8 201.2,260.8 201.8,260.9 202.3,260.9 202.8,260.9 203.3,260.9 203.8,260.9 204.4,260.9 204.9,260.9 205.4,261.0 205.9,261.0 206.4,261.0 207.0,261.0 207.5,261.0 208.0,261.0 208.5,261.0 209.1,261.0 209.6,261.1 210.1,261.1 210.6,261.1 211.1,261.1 211.7,261.1 212.2,261.1 212.7,261.1 213.2,261.1 213.7,261.2 214.3,261.2 214.8,261.2 215.3,261.2 215.8,261.2 216.4,261.2 216.9,261.2 217.4,261.2 217.9,261.2 218.4,261.2 219.0,261.3 219.5,261.3 220.0,261.3 220.5,261.3 221.0,261.3 221.6,261.3 222.1,261.3 222.6,261.3 223.1,261.3 223.7,261.3 224.2,261.3 224.7,261.4 225.2,261.4 225.7,261.4 226.3,261.4 226.8,261.4 227.3,261.4 227.8,261.4 228.3,261.4 228.9,261.4 229.4,261.4 229.9,261.4 230.4,261.4 230.9,261.4 231.5,261.5 232.0,261.5 232.5,261.5 233.0,261.5 233.6,261.5 234.1,261.5 234.6,261.5 235.1,261.5 235.6,261.5 236.2,261.5 236.7,261.5 237.2,261.5 237.7,261.5 238.2,261.5 238.8,261.5 239.3,261.5 239.8,261.6 240.3,261.6 240.9,261.6 241.4,261.6 241.9,261.6 242.4,261.6 242.9,261.6 243.5,261.6 244.0,261.6 244.5,261.6 245.0,261.6 245.5,261.6 246.1,261.6 246.6,261.6 247.1,261.6 247.6,261.6 248.2,261.6 248.7,261.6 249.2,261.6 249.7,261.6 250.2,261.7 250.8,261.7 251.3,261.7 251.8,261.7 252.3,261.7 252.8,261.7 253.4,261.7 253.9,261.7 254.4,261.7 254.9,261.7 255.4,261.7 256.0,261.7 256.5,261.7 257.0,261.7 257.5,261.7 258.1,261.7 258.6,261.7 259.1,261.7 259.6,261.7 260.1,261.7 260.7,261.7 261.2,261.7 261.7,261.7 262.2,261.7 262.7,261.7 263.3,261.7 263.8,261.8 264.3,261.8 264.8,261.8 265.4,261.8 265.9,261.8 266.4,261.8 266.9,261.8 267.4,261.8 268.0,261.8 268.5,261.8 269.0,261.8" fill="none" stroke="#5a0e12" stroke-width="4" stroke-linejoin="round" stroke-opacity="0.6"/>
<polyline points="60.5,202.7 60.6,204.8 60.6,206.8 60.7,208.6 60.7,210.3 60.8,211.8 60.8,213.1 60.9,214.3 60.9,215.4 61.0,216.5 61.0,217.4 61.1,218.2 61.1,219.0 61.2,219.7 61.2,220.3 61.3,220.9 61.3,221.4 61.4,221.9 61.4,222.3 61.5,222.7 61.5,223.1 61.6,223.4 61.6,223.7 61.7,224.0 61.8,224.3 61.8,224.5 61.9,224.7 61.9,224.9 62.0,225.1 62.0,225.3 62.1,225.5 62.1,225.6 62.2,225.8 62.2,225.9 62.3,226.0 62.3,226.1 62.4,226.2 62.4,226.4 62.5,226.4 62.5,226.5 62.6,226.6 62.6,226.7 62.7,226.8 62.7,226.9 62.8,226.9 62.8,227.0 62.9,227.1 62.9,227.1 63.0,227.2 63.1,227.3 63.1,227.3 63.2,227.4 63.2,227.5 63.3,227.5 63.3,227.6 63.4,227.6 63.4,227.7 63.5,227.7 63.5,227.8 63.6,227.8 63.6,227.9 64.1,228.3 64.7,228.8 65.2,229.2 65.7,229.6 66.2,230.0 66.8,230.4 67.3,230.9 67.8,231.2 68.3,231.6 68.8,232.0 69.4,232.4 69.9,232.8 70.4,233.2 70.9,233.5 71.4,233.9 72.0,234.2 72.5,234.6 73.0,234.9 73.5,235.3 74.1,235.6 74.6,236.0 75.1,236.3 75.6,236.6 76.1,237.0 76.7,237.3 77.2,237.6 77.7,237.9 78.2,238.2 78.7,238.5 79.3,238.8 79.8,239.1 80.3,239.4 80.8,239.7 81.3,240.0 81.9,240.2 82.4,240.5 82.9,240.8 83.4,241.1 84.0,241.3 84.5,241.6 85.0,241.9 85.5,242.1 86.0,242.4 86.6,242.6 87.1,242.9 87.6,243.1 88.1,243.3 88.6,243.6 89.2,243.8 89.7,244.1 90.2,244.3 90.7,244.5 91.3,244.7 91.8,244.9 92.3,245.2 92.8,245.4 93.3,245.6 93.9,245.8 94.4,246.0 94.9,246.2 95.4,246.4 95.9,246.6 96.5,246.8 97.0,247.0 97.5,247.2 98.0,247.4 98.6,247.6 99.1,247.8 99.6,247.9 100.1,248.1 100.6,248.3 101.2,248.5 101.7,248.6 102.2,248.8 102.7,249.0 103.2,249.1 103.8,249.3 104.3,249.5 104.8,249.6 105.3,249.8 105.8,249.9 106.4,250.1 106.9,250.2 107.4,250.4 107.9,250.5 108.5,250.7 109.0,250.8 109.5,251.0 110.0,251.1 110.5,251.3 111.1,251.4 111.6,251.5 112.1,251.7 112.6,251.8 113.1,251.9 113.7,252.0 114.2,252.2 114.7,252.3 115.2,252.4 115.8,252.5 116.3,252.7 116.8,252.8 117.3,252.9 117.8,253.0 118.4,253.1 118.9,253.2 119.4,253.4 119.9,253.5 120.4,253.6 121.0,253.7 121.5,253.8 122.0,253.9 122.5,254.0 123.0,254.1 123.6,254.2 124.1,254.3 124.6,254.4 125.1,254.5 125.7,254.6 126.2,254.7 126.7,254.8 127.2,254.9 127.7,255.0 128.3,255.0 128.8,255.1 129.3,255.2 129.8,255.3 130.3,255.4 130.9,255.5 131.4,255.6 131.9,255.6 132.4,255.7 133.0,255.8 133.5,255.9 134.0,256.0 134.5,256.0 135.0,256.1 135.6,256.2 136.1,256.3 136.6,256.3 137.1,256.4 137.6,256.5 138.2,256.6 138.7,256.6 139.2,256.7 139.7,256.8 140.3,256.8 140.8,256.9 141.3,257.0 141.8,257.0 142.3,257.1 142.9,257.1 143.4,257.2 143.9,257.3 144.4,257.3 144.9,257.4 145.5,257.4 146.0,257.5 146.5,257.6 147.0,257.6 147.5,257.7 148.1,257.7 148.6,257.8 149.1,257.8 149.6,257.9 150.2,257.9 150.7,258.0 151.2,258.0 151.7,258.1 152.2,258.1 152.8,258.2 153.3,258.2 153.8,258.3 154.3,258.3 154.8,258.4 155.4,258.4 155.9,258.5 156.4,258.5 156.9,258.6 157.5,258.6 158.0,258.7 158.5,258.7 159.0,258.7 159.5,258.8 160.1,258.8 160.6,258.9 161.1,258.9 161.6,258.9 162.1,259.0 162.7,259.0 163.2,259.1 163.7,259.1 164.2,259.1 164.8,259.2 165.3,259.2 165.8,259.2 166.3,259.3 166.8,259.3 167.4,259.3 167.9,259.4 168.4,259.4 168.9,259.4 169.4,259.5 170.0,259.5 170.5,259.5 171.0,259.6 171.5,259.6 172.0,259.6 172.6,259.7 173.1,259.7 173.6,259.7 174.1,259.8 174.7,259.8 175.2,259.8 175.7,259.8 176.2,259.9 176.7,259.9 177.3,259.9 177.8,259.9 178.3,260.0 178.8,260.0 179.3,260.0 179.9,260.0 180.4,260.1 180.9,260.1 181.4,260.1 182.0,260.1 182.5,260.2 183.0,260.2 183.5,260.2 184.0,260.2 184.6,260.3 185.1,260.3 185.6,260.3 186.1,260.3 186.6,260.3 187.2,260.4 187.7,260.4 188.2,260.4 188.7,260.4 189.2,260.4 189.8,260.5 190.3,260.5 190.8,260.5 191.3,260.5 191.9,260.5 192.4,260.6 192.9,260.6 193.4,260.6 193.9,260.6 194.5,260.6 195.0,260.7 195.5,260.7 196.0,260.7 196.5,260.7 197.1,260.7 197.6,260.7 198.1,260.8 198.6,260.8 199.2,260.8 199.7,260.8 200.2,260.8 200.7,260.8 201.2,260.8 201.8,260.9 202.3,260.9 202.8,260.9 203.3,260.9 203.8,260.9 204.4,260.9 204.9,260.9 205.4,261.0 205.9,261.0 206.4,261.0 207.0,261.0 207.5,261.0 208.0,261.0 208.5,261.0 209.1,261.0 209.6,261.1 210.1,261.1 210.6,261.1 211.1,261.1 211.7,261.1 212.2,261.1 212.7,261.1 213.2,261.1 213.7,261.2 214.3,261.2 214.8,261.2 215.3,261.2 215.8,261.2 216.4,261.2 216.9,261.2 217.4,261.2 217.9,261.2 218.4,261.2 219.0,261.3 219.5,261.3 220.0,261.3 220.5,261.3 221.0,261.3 221.6,261.3 222.1,261.3 222.6,261.3 223.1,261.3 223.7,261.3 224.2,261.3 224.7,261.4 225.2,261.4 225.7,261.4 226.3,261.4 226.8,261.4 227.3,261.4 227.8,261.4 228.3,261.4 228.9,261.4 229.4,261.4 229.9,261.4 230.4,261.4 230.9,261.4 231.5,261.5 232.0,261.5 232.5,261.5 233.0,261.5 233.6,261.5 234.1,261.5 234.6,261.5 235.1,261.5 235.6,261.5 236.2,261.5 236.7,261.5 237.2,261.5 237.7,261.5 238.2,261.5 238.8,261.5 239.3,261.5 239.8,261.6 240.3,261.6 240.9,261.6 241.4,261.6 241.9,261.6 242.4,261.6 242.9,261.6 243.5,261.6 244.0,261.6 244.5,261.6 245.0,261.6 245.5,261.6 246.1,261.6 246.6,261.6 247.1,261.6 247.6,261.6 248.2,261.6 248.7,261.6 249.2,261.6 249.7,261.6 250.2,261.7 250.8,261.7 251.3,261.7 251.8,261.7 252.3,261.7 252.8,261.7 253.4,261.7 253.9,261.7 254.4,261.7 254.9,261.7 255.4,261.7 256.0,261.7 256.5,261.7 257.0,261.7 257.5,261.7 258.1,261.7 258.6,261.7 259.1,261.7 259.6,261.7 260.1,261.7 260.7,261.7 261.2,261.7 261.7,261.7 262.2,261.7 262.7,261.7 263.3,261.7 263.8,261.8 264.3,261.8 264.8,261.8 265.4,261.8 265.9,261.8 266.4,261.8 266.9,261.8 267.4,261.8 268.0,261.8 268.5,261.8 269.0,261.8" fill="none" stroke="#b85a28" stroke-width="0.9" stroke-linejoin="round" />
<g clip-path="url(#clipD)">
<polyline points="284.4,162.8 284.6,169.1 284.8,166.4 285.0,188.0 285.2,190.3 285.4,194.2 285.6,175.1 285.9,188.0 286.1,210.5 286.3,206.7 286.5,193.7 286.7,207.2 286.9,197.3 287.1,186.6 287.3,231.6 287.5,202.8 287.7,210.3 287.9,223.5 288.1,218.7 288.4,223.3 288.6,218.4 288.8,209.1 289.0,236.5 289.2,207.3 289.4,225.7 289.6,206.5 289.8,218.6 290.0,235.9 290.2,217.9 290.4,212.9 290.6,224.2 290.9,223.6 291.1,235.5 291.3,218.4 291.5,231.9 291.7,247.7 291.9,228.9 292.1,228.5 292.3,240.7 292.5,230.1 292.7,205.6 292.9,213.3 293.1,237.8 293.3,213.7 293.6,216.5 293.8,221.0 294.0,225.4 294.2,227.1 294.4,239.0 294.6,235.5 294.8,212.3 295.0,229.0 295.2,211.1 295.4,234.4 295.6,256.4 295.8,234.7 296.1,228.5 296.3,227.6 296.5,231.1 296.7,240.6 296.9,216.4 297.1,257.8 297.3,225.0 297.5,235.7 297.7,245.5 297.9,218.1 298.1,259.6 298.3,242.3 298.6,250.1 298.8,237.4 299.0,225.9 299.2,235.0 299.4,238.9 299.6,211.5 299.8,236.8 300.0,236.3 300.2,246.2 300.4,242.8 300.6,228.2 300.8,229.3 301.0,235.4 301.3,242.9 301.5,228.5 301.7,253.8 301.9,256.1 302.1,225.3 302.3,222.9 302.5,234.8 302.7,243.6 302.9,245.2 303.1,217.9 303.3,229.2 303.5,224.5 303.8,236.7 304.0,227.2 304.2,229.3 304.4,224.9 304.6,212.9 304.8,240.3 305.0,235.3 305.2,238.7 305.4,275.4 305.6,253.2 305.8,238.4 306.0,232.1 306.3,244.9 306.5,227.0 306.7,225.6 306.9,243.6 307.1,224.4 307.3,221.0 307.5,234.7 307.7,250.1 307.9,224.4 308.1,241.7 308.3,244.1 308.5,239.0 308.7,246.0 309.0,229.2 309.2,232.4 309.4,227.9 309.6,234.7 309.8,249.3 310.0,242.7 310.2,232.0 310.4,245.6 310.6,210.7 310.8,244.1 311.0,247.8 311.2,229.7 311.5,234.0 311.7,242.3 311.9,244.5 312.1,237.7 312.3,233.5 312.5,234.4 312.7,245.7 312.9,238.1 313.1,233.9 313.3,234.8 313.5,275.5 313.7,252.5 314.0,251.4 314.2,245.8 314.4,241.6 314.6,233.8 314.8,237.2 315.0,245.1 315.2,243.6 315.4,225.4 315.6,250.5 315.8,241.0 316.0,227.8 316.2,240.7 316.4,266.0 316.7,240.6 316.9,248.8 317.1,246.0 317.3,233.8 317.5,240.0 317.7,247.9 317.9,235.8 318.1,240.7 318.3,244.3 318.5,242.3 318.7,242.9 318.9,249.2 319.2,250.6 319.4,245.6 319.6,256.0 319.8,259.3 320.0,232.4 320.2,248.7 320.4,246.6 320.6,247.8 320.8,246.2 321.0,246.3 321.2,246.0 321.4,255.2 321.6,237.0 321.9,233.8 322.1,236.1 322.3,267.3 322.5,258.4 322.7,236.8 322.9,248.9 323.1,254.5 323.3,243.6 323.5,258.6 323.7,246.9 323.9,271.1 324.1,252.6 324.4,254.8 324.6,242.3 324.8,238.9 325.0,257.2 325.2,231.3 325.4,254.6 325.6,270.1 325.8,273.6 326.0,232.4 326.2,249.6 326.4,255.6 326.6,256.7 326.9,260.4 327.1,234.7 327.3,249.9 327.5,230.3 327.7,251.3 327.9,274.0 328.1,240.4 328.3,253.3 328.5,252.0 328.7,233.1 328.9,252.4 329.1,237.5 329.3,249.8 329.6,257.8 329.8,244.6 330.0,256.3 330.2,253.0 330.4,240.0 330.6,249.5 330.8,243.8 331.0,244.4 331.2,232.4 331.4,241.0 331.6,227.8 331.8,244.1 332.1,260.7 332.3,249.7 332.5,246.4 332.7,259.2 332.9,236.3 333.1,256.6 333.3,243.4 333.5,258.7 333.7,229.9 333.9,235.1 334.1,247.5 334.3,268.3 334.6,250.0 334.8,240.5 335.0,254.5 335.2,239.9 335.4,245.1 335.6,268.1 335.8,254.5 336.0,257.2 336.2,254.5 336.4,251.2 336.6,246.4 336.8,247.6 337.0,255.2 337.3,251.4 337.5,248.1 337.7,269.3 337.9,260.3 338.1,260.7 338.3,254.5 338.5,255.3 338.7,255.2 338.9,261.7 339.1,245.5 339.3,249.7 339.5,270.0 339.8,233.8 340.0,264.6 340.2,234.9 340.4,257.7 340.6,257.1 340.8,252.1 341.0,255.1 341.2,253.7 341.4,225.6 341.6,250.8 341.8,244.4 342.0,241.4 342.3,263.6 342.5,235.6 342.7,246.2 342.9,243.4 343.1,262.6 343.3,244.9 343.5,249.2 343.7,259.3 343.9,255.9 344.1,247.8 344.3,256.3 344.5,263.5 344.7,244.3 345.0,265.3 345.2,247.8 345.4,241.2 345.6,238.6 345.8,249.6 346.0,259.2 346.2,264.1 346.4,253.2 346.6,239.1 346.8,247.4 347.0,265.4 347.2,257.5 347.5,243.6 347.7,260.1 347.9,255.5 348.1,251.4 348.3,273.8 348.5,246.4 348.7,251.1 348.9,248.7 349.1,265.1 349.3,262.9 349.5,261.1 349.7,252.3 350.0,254.2 350.2,229.6 350.4,236.1 350.6,241.3 350.8,262.7 351.0,262.0 351.2,237.1 351.4,258.5 351.6,221.6 351.8,238.5 352.0,261.0 352.2,258.2 352.4,254.5 352.7,264.5 352.9,265.8 353.1,259.7 353.3,246.6 353.5,235.6 353.7,257.8 353.9,260.6 354.1,270.1 354.3,240.1 354.5,280.4 354.7,262.7 354.9,250.0 355.2,270.6 355.4,249.5 355.6,242.8 355.8,265.0 356.0,253.8 356.2,267.7 356.4,250.7 356.6,255.2 356.8,253.9 357.0,241.8 357.2,233.1 357.4,242.1 357.7,249.6 357.9,268.9 358.1,253.6 358.3,251.2 358.5,271.6 358.7,242.4 358.9,255.8 359.1,238.6 359.3,266.0 359.5,255.8 359.7,253.4 359.9,260.1 360.1,255.8 360.4,279.0 360.6,242.4 360.8,268.5 361.0,279.8 361.2,266.9 361.4,265.6 361.6,251.1 361.8,266.5 362.0,253.9 362.2,267.1 362.4,233.8 362.6,251.3 362.9,236.5 363.1,267.8 363.3,250.1 363.5,267.2 363.7,251.1 363.9,250.1 364.1,274.0 364.3,269.2 364.5,269.6 364.7,273.2 364.9,265.0 365.1,267.5 365.4,248.8 365.6,256.4 365.8,251.7 366.0,246.5 366.2,263.4 366.4,257.5 366.6,278.8 366.8,265.0 367.0,249.1 367.2,248.8 367.4,250.5 367.6,259.9 367.8,236.8 368.1,239.5 368.3,262.0 368.5,259.1 368.7,245.3 368.9,266.3 369.1,253.7 369.3,257.4 369.5,265.4 369.7,260.4 369.9,274.6 370.1,263.8 370.3,279.1 370.6,234.1 370.8,242.3 371.0,245.2 371.2,255.0 371.4,247.7 371.6,244.8 371.8,247.5 372.0,248.6 372.2,241.1 372.4,253.8 372.6,285.0 372.8,270.8 373.1,285.0 373.3,253.9 373.5,247.4 373.7,285.0 373.9,240.1 374.1,243.0 374.3,262.5 374.5,263.4 374.7,259.4 374.9,248.3 375.1,262.7 375.3,270.3 375.5,255.1 375.8,280.4 376.0,257.2 376.2,246.5 376.4,255.6 376.6,250.6 376.8,253.6 377.0,251.2 377.2,257.3 377.4,267.6 377.6,261.3 377.8,259.7 378.0,245.7 378.3,241.8 378.5,254.5 378.7,266.9 378.9,266.7 379.1,261.0 379.3,244.4 379.5,255.5 379.7,259.7 379.9,267.2 380.1,249.8 380.3,256.1 380.5,259.7 380.8,258.1 381.0,241.4 381.2,260.9 381.4,241.4 381.6,246.2 381.8,258.7 382.0,250.0 382.2,260.6 382.4,268.0 382.6,262.1 382.8,268.9 383.0,254.0 383.2,259.2 383.5,253.4 383.7,250.7 383.9,285.0 384.1,256.2 384.3,278.4 384.5,257.7 384.7,268.7 384.9,258.4 385.1,245.1 385.3,277.5 385.5,257.5 385.7,260.4 386.0,279.5 386.2,252.8 386.4,259.2 386.6,265.0 386.8,267.2 387.0,225.8 387.2,263.8 387.4,278.6 387.6,269.5 387.8,236.5 388.0,263.8 388.2,260.6 388.4,270.8 388.7,254.1 388.9,241.1 389.1,274.1 389.3,241.4 389.5,263.9 389.7,250.9 389.9,254.7 390.1,263.4 390.3,259.7 390.5,241.7 390.7,238.4 390.9,266.4 391.2,255.0 391.4,252.3 391.6,270.0 391.8,258.0 392.0,258.3 392.2,264.9 392.4,254.0 392.6,249.2 392.8,248.1 393.0,262.1 393.2,258.0 393.4,235.3 393.7,271.7 393.9,277.5 394.1,250.7 394.3,258.5 394.5,253.2 394.7,258.3 394.9,252.2 395.1,272.8 395.3,262.5 395.5,258.1 395.7,260.8 395.9,264.5 396.1,260.4 396.4,272.1 396.6,252.4 396.8,242.3 397.0,242.3 397.2,246.8 397.4,248.5 397.6,244.3 397.8,267.8 398.0,260.9 398.2,240.9 398.4,271.6 398.6,251.5 398.9,257.4 399.1,262.0 399.3,269.6 399.5,255.9 399.7,265.3 399.9,234.6 400.1,247.5 400.3,275.0 400.5,265.8 400.7,263.8 400.9,272.9 401.1,272.2 401.4,259.5 401.6,262.7 401.8,277.9 402.0,266.2 402.2,255.1 402.4,273.2 402.6,255.5 402.8,243.8 403.0,246.7 403.2,277.6 403.4,274.8 403.6,256.6 403.8,273.1 404.1,263.3 404.3,265.4 404.5,254.7 404.7,285.0 404.9,283.8 405.1,273.6 405.3,250.0 405.5,262.3 405.7,278.7 405.9,228.4 406.1,253.2 406.3,263.3 406.6,264.2 406.8,256.1 407.0,248.0 407.2,259.1 407.4,255.1 407.6,261.3 407.8,242.8 408.0,270.4 408.2,258.1 408.4,253.6 408.6,263.4 408.8,251.0 409.1,255.7 409.3,251.7 409.5,277.4 409.7,255.0 409.9,267.0 410.1,269.4 410.3,269.8 410.5,248.1 410.7,252.2 410.9,268.4 411.1,272.9 411.3,260.7 411.5,265.7 411.8,243.4 412.0,276.3 412.2,285.0 412.4,263.6 412.6,260.8 412.8,259.5 413.0,253.0 413.2,239.1 413.4,264.6 413.6,266.7 413.8,279.5 414.0,258.4 414.3,252.0 414.5,263.7 414.7,248.6 414.9,260.7 415.1,245.1 415.3,257.5 415.5,272.2 415.7,267.7 415.9,277.2 416.1,279.3 416.3,258.2 416.5,271.7 416.8,240.5 417.0,261.7 417.2,263.6 417.4,272.8 417.6,250.7 417.8,269.9 418.0,267.4 418.2,253.9 418.4,255.2 418.6,280.8 418.8,253.3 419.0,259.7 419.2,265.3 419.5,265.5 419.7,242.7 419.9,245.0 420.1,241.9 420.3,273.3 420.5,268.1 420.7,251.7 420.9,273.9 421.1,268.8 421.3,280.2 421.5,241.7 421.7,250.0 422.0,238.3 422.2,258.9 422.4,265.6 422.6,265.4 422.8,254.8 423.0,268.7 423.2,248.3 423.4,266.4 423.6,270.5 423.8,247.6 424.0,262.8 424.2,277.3 424.5,265.7 424.7,285.0 424.9,255.5 425.1,275.5 425.3,249.9 425.5,266.7 425.7,281.0 425.9,258.1 426.1,256.9 426.3,260.2 426.5,274.1 426.7,266.1 426.9,276.8 427.2,240.4 427.4,269.7 427.6,265.3 427.8,252.4 428.0,268.0 428.2,255.4 428.4,254.1 428.6,279.4 428.8,273.7 429.0,275.6 429.2,267.6 429.4,258.2 429.7,281.7 429.9,253.8 430.1,253.6 430.3,263.2 430.5,276.0 430.7,261.4 430.9,267.1 431.1,255.5 431.3,262.3 431.5,253.8 431.7,266.0 431.9,246.3 432.2,285.0 432.4,272.2 432.6,256.3 432.8,277.4 433.0,253.7 433.2,274.3 433.4,260.5 433.6,271.1 433.8,266.1 434.0,259.7 434.2,262.6 434.4,265.5 434.6,238.8 434.9,261.4 435.1,271.7 435.3,251.8 435.5,252.9 435.7,248.7 435.9,231.3 436.1,271.4 436.3,250.4 436.5,249.5 436.7,261.5 436.9,259.0 437.1,285.0 437.4,267.6 437.6,242.7 437.8,280.4 438.0,267.2 438.2,233.8 438.4,255.5 438.6,244.4 438.8,280.1 439.0,239.1 439.2,252.5 439.4,275.4 439.6,262.0 439.9,241.8 440.1,247.7 440.3,255.9 440.5,285.0 440.7,263.0 440.9,239.4 441.1,264.9 441.3,285.0 441.5,229.2 441.7,263.9 441.9,271.8 442.1,259.1 442.3,265.0 442.6,264.9 442.8,262.6 443.0,253.5 443.2,259.2 443.4,274.3 443.6,263.1 443.8,256.7 444.0,266.6 444.2,249.6 444.4,253.5 444.6,272.1 444.8,271.6 445.1,240.8 445.3,245.3 445.5,262.3 445.7,252.2 445.9,268.8 446.1,276.9 446.3,255.9 446.5,259.1 446.7,256.3 446.9,262.0 447.1,258.3 447.3,267.1 447.6,256.7 447.8,252.9 448.0,262.3 448.2,253.2 448.4,280.4 448.6,270.0 448.8,246.5 449.0,243.2 449.2,259.1 449.4,262.8 449.6,275.1 449.8,257.9 450.0,253.6 450.3,277.4 450.5,255.9 450.7,256.6 450.9,257.1 451.1,273.6 451.3,265.5 451.5,277.5 451.7,246.1 451.9,260.3 452.1,274.0 452.3,247.6 452.5,249.6 452.8,268.6 453.0,238.6 453.2,247.8 453.4,258.5 453.6,249.3 453.8,285.0 454.0,251.2 454.2,262.5 454.4,262.0 454.6,273.1 454.8,258.3 455.0,273.5 455.3,272.0 455.5,266.5 455.7,274.7 455.9,245.3 456.1,275.8 456.3,285.0 456.5,265.2 456.7,261.8 456.9,253.5 457.1,253.2 457.3,265.0 457.5,265.9 457.7,261.5 458.0,253.2 458.2,254.5 458.4,267.3 458.6,283.5 458.8,239.3 459.0,251.8 459.2,259.1 459.4,258.3 459.6,283.0 459.8,285.0 460.0,265.4 460.2,264.2 460.5,268.4 460.7,277.2 460.9,265.2 461.1,255.8 461.3,267.1 461.5,261.6 461.7,283.7 461.9,274.9 462.1,263.2 462.3,274.8 462.5,280.1 462.7,257.5 462.9,270.4 463.2,256.7 463.4,266.3 463.6,255.3 463.8,265.5 464.0,277.8 464.2,262.8 464.4,265.4 464.6,255.0 464.8,266.6 465.0,266.0 465.2,252.8 465.4,249.6 465.7,253.9 465.9,251.0 466.1,257.1 466.3,253.8 466.5,252.7 466.7,257.7 466.9,261.3 467.1,260.4 467.3,236.6 467.5,261.8 467.7,264.4 467.9,265.8 468.2,262.3 468.4,259.4 468.6,273.8 468.8,282.8 469.0,258.8 469.2,278.8 469.4,259.2 469.6,260.5 469.8,249.8 470.0,244.4 470.2,258.1 470.4,267.8 470.6,274.3 470.9,270.3 471.1,261.5 471.3,283.7 471.5,261.2 471.7,262.1 471.9,240.0 472.1,265.5 472.3,260.9 472.5,269.7 472.7,266.8 472.9,280.6 473.1,260.7 473.4,245.7 473.6,260.3 473.8,258.1 474.0,272.3 474.2,246.9 474.4,270.0 474.6,253.5 474.8,260.8 475.0,272.1 475.2,251.2 475.4,261.8 475.6,260.1 475.9,257.2 476.1,262.2 476.3,266.0 476.5,257.1 476.7,266.2 476.9,261.3 477.1,269.0 477.3,277.7 477.5,269.1 477.7,267.2 477.9,261.8 478.1,249.5 478.3,279.8 478.6,260.6 478.8,285.0 479.0,273.0 479.2,267.3 479.4,285.0 479.6,281.6 479.8,280.4 480.0,261.2 480.2,263.2 480.4,270.5 480.6,239.3 480.8,263.7 481.1,271.1 481.3,244.3 481.5,255.5 481.7,265.9 481.9,249.5 482.1,260.4 482.3,255.2 482.5,259.5 482.7,272.8 482.9,251.8 483.1,260.3 483.3,285.0 483.6,270.1 483.8,252.0 484.0,265.9 484.2,261.5 484.4,255.1 484.6,260.7 484.8,278.1 485.0,240.0 485.2,252.1 485.4,252.9 485.6,245.0 485.8,258.2 486.0,253.8 486.3,245.3 486.5,265.1 486.7,243.8 486.9,233.3 487.1,253.8 487.3,242.7 487.5,253.1 487.7,271.3 487.9,250.1 488.1,258.6 488.3,257.7 488.5,260.4 488.8,247.7 489.0,256.2 489.2,269.4 489.4,256.9 489.6,254.4 489.8,269.7 490.0,266.6 490.2,266.1 490.4,268.4 490.6,258.4 490.8,251.3 491.0,242.1 491.3,249.5 491.5,262.3 491.7,265.1 491.9,248.0 492.1,266.0 492.3,254.8 492.5,258.7" fill="none" stroke="#111" stroke-width="0.85" stroke-linejoin="round" />
</g>
<line x1="287.9" y1="262.2" x2="493.2" y2="262.2" stroke="#111" stroke-width="1.3" stroke-dasharray="2.6 1.8"/>
<polyline points="291.2,225.3 291.7,226.2 292.2,226.9 292.7,227.6 293.2,228.2 293.8,228.8 294.3,229.4 294.8,229.9 295.3,230.4 295.8,230.9 296.4,231.4 296.9,231.8 297.4,232.3 297.9,232.7 298.4,233.1 299.0,233.6 299.5,234.0 300.0,234.4 300.5,234.8 301.0,235.2 301.6,235.5 302.1,235.9 302.6,236.3 303.1,236.7 303.6,237.0 304.2,237.4 304.7,237.7 305.2,238.1 305.7,238.4 306.3,238.8 306.8,239.1 307.3,239.4 307.8,239.7 308.3,240.1 308.9,240.4 309.4,240.7 309.9,241.0 310.4,241.3 310.9,241.6 311.5,241.9 312.0,242.2 312.5,242.5 313.0,242.7 313.5,243.0 314.1,243.3 314.6,243.6 315.1,243.8 315.6,244.1 316.1,244.3 316.7,244.6 317.2,244.8 317.7,245.1 318.2,245.3 318.7,245.6 319.3,245.8 319.8,246.0 320.3,246.3 320.8,246.5 321.3,246.7 321.9,246.9 322.4,247.1 322.9,247.4 323.4,247.6 323.9,247.8 324.5,248.0 325.0,248.2 325.5,248.4 326.0,248.6 326.5,248.8 327.1,249.0 327.6,249.2 328.1,249.3 328.6,249.5 329.1,249.7 329.7,249.9 330.2,250.1 330.7,250.2 331.2,250.4 331.7,250.6 332.3,250.7 332.8,250.9 333.3,251.0 333.8,251.2 334.3,251.4 334.9,251.5 335.4,251.7 335.9,251.8 336.4,252.0 336.9,252.1 337.5,252.3 338.0,252.4 338.5,252.5 339.0,252.7 339.5,252.8 340.1,252.9 340.6,253.1 341.1,253.2 341.6,253.3 342.1,253.5 342.7,253.6 343.2,253.7 343.7,253.8 344.2,253.9 344.7,254.1 345.3,254.2 345.8,254.3 346.3,254.4 346.8,254.5 347.4,254.6 347.9,254.7 348.4,254.8 348.9,254.9 349.4,255.0 350.0,255.1 350.5,255.2 351.0,255.3 351.5,255.4 352.0,255.5 352.6,255.6 353.1,255.7 353.6,255.8 354.1,255.9 354.6,256.0 355.2,256.1 355.7,256.2 356.2,256.3 356.7,256.3 357.2,256.4 357.8,256.5 358.3,256.6 358.8,256.7 359.3,256.7 359.8,256.8 360.4,256.9 360.9,257.0 361.4,257.0 361.9,257.1 362.4,257.2 363.0,257.3 363.5,257.3 364.0,257.4 364.5,257.5 365.0,257.5 365.6,257.6 366.1,257.7 366.6,257.7 367.1,257.8 367.6,257.9 368.2,257.9 368.7,258.0 369.2,258.0 369.7,258.1 370.2,258.2 370.8,258.2 371.3,258.3 371.8,258.3 372.3,258.4 372.8,258.4 373.4,258.5 373.9,258.5 374.4,258.6 374.9,258.6 375.4,258.7 376.0,258.7 376.5,258.8 377.0,258.8 377.5,258.9 378.0,258.9 378.6,259.0 379.1,259.0 379.6,259.1 380.1,259.1 380.6,259.2 381.2,259.2 381.7,259.2 382.2,259.3 382.7,259.3 383.2,259.4 383.8,259.4 384.3,259.5 384.8,259.5 385.3,259.5 385.8,259.6 386.4,259.6 386.9,259.6 387.4,259.7 387.9,259.7 388.4,259.7 389.0,259.8 389.5,259.8 390.0,259.9 390.5,259.9 391.1,259.9 391.6,259.9 392.1,260.0 392.6,260.0 393.1,260.0 393.7,260.1 394.2,260.1 394.7,260.1 395.2,260.2 395.7,260.2 396.3,260.2 396.8,260.2 397.3,260.3 397.8,260.3 398.3,260.3 398.9,260.4 399.4,260.4 399.9,260.4 400.4,260.4 400.9,260.5 401.5,260.5 402.0,260.5 402.5,260.5 403.0,260.6 403.5,260.6 404.1,260.6 404.6,260.6 405.1,260.6 405.6,260.7 406.1,260.7 406.7,260.7 407.2,260.7 407.7,260.8 408.2,260.8 408.7,260.8 409.3,260.8 409.8,260.8 410.3,260.9 410.8,260.9 411.3,260.9 411.9,260.9 412.4,260.9 412.9,260.9 413.4,261.0 413.9,261.0 414.5,261.0 415.0,261.0 415.5,261.0 416.0,261.0 416.5,261.1 417.1,261.1 417.6,261.1 418.1,261.1 418.6,261.1 419.1,261.1 419.7,261.2 420.2,261.2 420.7,261.2 421.2,261.2 421.7,261.2 422.3,261.2 422.8,261.2 423.3,261.3 423.8,261.3 424.3,261.3 424.9,261.3 425.4,261.3 425.9,261.3 426.4,261.3 426.9,261.3 427.5,261.4 428.0,261.4 428.5,261.4 429.0,261.4 429.5,261.4 430.1,261.4 430.6,261.4 431.1,261.4 431.6,261.5 432.2,261.5 432.7,261.5 433.2,261.5 433.7,261.5 434.2,261.5 434.8,261.5 435.3,261.5 435.8,261.5 436.3,261.5 436.8,261.6 437.4,261.6 437.9,261.6 438.4,261.6 438.9,261.6 439.4,261.6 440.0,261.6 440.5,261.6 441.0,261.6 441.5,261.6 442.0,261.6 442.6,261.6 443.1,261.7 443.6,261.7 444.1,261.7 444.6,261.7 445.2,261.7 445.7,261.7 446.2,261.7 446.7,261.7 447.2,261.7 447.8,261.7 448.3,261.7 448.8,261.7 449.3,261.7 449.8,261.7 450.4,261.8 450.9,261.8 451.4,261.8 451.9,261.8 452.4,261.8 453.0,261.8 453.5,261.8 454.0,261.8 454.5,261.8 455.0,261.8 455.6,261.8 456.1,261.8 456.6,261.8 457.1,261.8 457.6,261.8 458.2,261.8 458.7,261.8 459.2,261.8 459.7,261.9 460.2,261.9 460.8,261.9 461.3,261.9 461.8,261.9 462.3,261.9 462.8,261.9 463.4,261.9 463.9,261.9 464.4,261.9 464.9,261.9 465.4,261.9 466.0,261.9 466.5,261.9 467.0,261.9 467.5,261.9 468.0,261.9 468.6,261.9 469.1,261.9 469.6,261.9 470.1,261.9 470.6,261.9 471.2,261.9 471.7,262.0 472.2,262.0 472.7,262.0 473.3,262.0 473.8,262.0 474.3,262.0 474.8,262.0 475.3,262.0 475.9,262.0 476.4,262.0 476.9,262.0 477.4,262.0 477.9,262.0 478.5,262.0 479.0,262.0 479.5,262.0 480.0,262.0 480.5,262.0 481.1,262.0 481.6,262.0 482.1,262.0 482.6,262.0 483.1,262.0 483.7,262.0 484.2,262.0 484.7,262.0 485.2,262.0 485.7,262.0 486.3,262.0 486.8,262.0 487.3,262.0 487.8,262.0 488.3,262.0 488.9,262.0 489.4,262.0 489.9,262.0 490.4,262.1 490.9,262.1 491.5,262.1 492.0,262.1 492.5,262.1" fill="none" stroke="#5a0e12" stroke-width="4" stroke-linejoin="round" stroke-opacity="0.6"/>
<polyline points="284.4,168.0 284.5,169.5 284.5,170.9 284.6,172.3 284.6,173.7 284.7,175.0 284.7,176.3 284.8,177.5 284.8,178.8 284.9,179.9 284.9,181.1 285.0,182.2 285.0,183.3 285.1,184.4 285.1,185.4 285.2,186.5 285.2,187.5 285.3,188.4 285.3,189.4 285.4,190.3 285.4,191.2 285.5,192.0 285.5,192.9 285.6,193.7 285.6,194.5 285.7,195.3 285.8,196.0 285.8,196.8 285.9,197.5 285.9,198.2 286.0,198.9 286.0,199.6 286.1,200.2 286.1,200.9 286.2,201.5 286.2,202.1 286.3,202.7 286.3,203.3 286.4,203.8 286.4,204.4 286.5,204.9 286.5,205.4 286.6,206.0 286.6,206.4 286.7,206.9 286.7,207.4 286.8,207.9 286.8,208.3 286.9,208.8 286.9,209.2 287.0,209.6 287.1,210.0 287.1,210.4 287.2,210.8 287.2,211.2 287.3,211.5 287.3,211.9 287.4,212.3 287.4,212.6 287.5,212.9 287.5,213.3 288.0,216.2 288.6,218.5 289.1,220.4 289.6,222.0 290.1,223.3 290.6,224.4 291.2,225.3 291.7,226.2 292.2,226.9 292.7,227.6 293.2,228.2 293.8,228.8 294.3,229.4 294.8,229.9 295.3,230.4 295.8,230.9 296.4,231.4 296.9,231.8 297.4,232.3 297.9,232.7 298.4,233.1 299.0,233.6 299.5,234.0 300.0,234.4 300.5,234.8 301.0,235.2 301.6,235.5 302.1,235.9 302.6,236.3 303.1,236.7 303.6,237.0 304.2,237.4 304.7,237.7 305.2,238.1 305.7,238.4 306.3,238.8 306.8,239.1 307.3,239.4 307.8,239.7 308.3,240.1 308.9,240.4 309.4,240.7 309.9,241.0 310.4,241.3 310.9,241.6 311.5,241.9 312.0,242.2 312.5,242.5 313.0,242.7 313.5,243.0 314.1,243.3 314.6,243.6 315.1,243.8 315.6,244.1 316.1,244.3 316.7,244.6 317.2,244.8 317.7,245.1 318.2,245.3 318.7,245.6 319.3,245.8 319.8,246.0 320.3,246.3 320.8,246.5 321.3,246.7 321.9,246.9 322.4,247.1 322.9,247.4 323.4,247.6 323.9,247.8 324.5,248.0 325.0,248.2 325.5,248.4 326.0,248.6 326.5,248.8 327.1,249.0 327.6,249.2 328.1,249.3 328.6,249.5 329.1,249.7 329.7,249.9 330.2,250.1 330.7,250.2 331.2,250.4 331.7,250.6 332.3,250.7 332.8,250.9 333.3,251.0 333.8,251.2 334.3,251.4 334.9,251.5 335.4,251.7 335.9,251.8 336.4,252.0 336.9,252.1 337.5,252.3 338.0,252.4 338.5,252.5 339.0,252.7 339.5,252.8 340.1,252.9 340.6,253.1 341.1,253.2 341.6,253.3 342.1,253.5 342.7,253.6 343.2,253.7 343.7,253.8 344.2,253.9 344.7,254.1 345.3,254.2 345.8,254.3 346.3,254.4 346.8,254.5 347.4,254.6 347.9,254.7 348.4,254.8 348.9,254.9 349.4,255.0 350.0,255.1 350.5,255.2 351.0,255.3 351.5,255.4 352.0,255.5 352.6,255.6 353.1,255.7 353.6,255.8 354.1,255.9 354.6,256.0 355.2,256.1 355.7,256.2 356.2,256.3 356.7,256.3 357.2,256.4 357.8,256.5 358.3,256.6 358.8,256.7 359.3,256.7 359.8,256.8 360.4,256.9 360.9,257.0 361.4,257.0 361.9,257.1 362.4,257.2 363.0,257.3 363.5,257.3 364.0,257.4 364.5,257.5 365.0,257.5 365.6,257.6 366.1,257.7 366.6,257.7 367.1,257.8 367.6,257.9 368.2,257.9 368.7,258.0 369.2,258.0 369.7,258.1 370.2,258.2 370.8,258.2 371.3,258.3 371.8,258.3 372.3,258.4 372.8,258.4 373.4,258.5 373.9,258.5 374.4,258.6 374.9,258.6 375.4,258.7 376.0,258.7 376.5,258.8 377.0,258.8 377.5,258.9 378.0,258.9 378.6,259.0 379.1,259.0 379.6,259.1 380.1,259.1 380.6,259.2 381.2,259.2 381.7,259.2 382.2,259.3 382.7,259.3 383.2,259.4 383.8,259.4 384.3,259.5 384.8,259.5 385.3,259.5 385.8,259.6 386.4,259.6 386.9,259.6 387.4,259.7 387.9,259.7 388.4,259.7 389.0,259.8 389.5,259.8 390.0,259.9 390.5,259.9 391.1,259.9 391.6,259.9 392.1,260.0 392.6,260.0 393.1,260.0 393.7,260.1 394.2,260.1 394.7,260.1 395.2,260.2 395.7,260.2 396.3,260.2 396.8,260.2 397.3,260.3 397.8,260.3 398.3,260.3 398.9,260.4 399.4,260.4 399.9,260.4 400.4,260.4 400.9,260.5 401.5,260.5 402.0,260.5 402.5,260.5 403.0,260.6 403.5,260.6 404.1,260.6 404.6,260.6 405.1,260.6 405.6,260.7 406.1,260.7 406.7,260.7 407.2,260.7 407.7,260.8 408.2,260.8 408.7,260.8 409.3,260.8 409.8,260.8 410.3,260.9 410.8,260.9 411.3,260.9 411.9,260.9 412.4,260.9 412.9,260.9 413.4,261.0 413.9,261.0 414.5,261.0 415.0,261.0 415.5,261.0 416.0,261.0 416.5,261.1 417.1,261.1 417.6,261.1 418.1,261.1 418.6,261.1 419.1,261.1 419.7,261.2 420.2,261.2 420.7,261.2 421.2,261.2 421.7,261.2 422.3,261.2 422.8,261.2 423.3,261.3 423.8,261.3 424.3,261.3 424.9,261.3 425.4,261.3 425.9,261.3 426.4,261.3 426.9,261.3 427.5,261.4 428.0,261.4 428.5,261.4 429.0,261.4 429.5,261.4 430.1,261.4 430.6,261.4 431.1,261.4 431.6,261.5 432.2,261.5 432.7,261.5 433.2,261.5 433.7,261.5 434.2,261.5 434.8,261.5 435.3,261.5 435.8,261.5 436.3,261.5 436.8,261.6 437.4,261.6 437.9,261.6 438.4,261.6 438.9,261.6 439.4,261.6 440.0,261.6 440.5,261.6 441.0,261.6 441.5,261.6 442.0,261.6 442.6,261.6 443.1,261.7 443.6,261.7 444.1,261.7 444.6,261.7 445.2,261.7 445.7,261.7 446.2,261.7 446.7,261.7 447.2,261.7 447.8,261.7 448.3,261.7 448.8,261.7 449.3,261.7 449.8,261.7 450.4,261.8 450.9,261.8 451.4,261.8 451.9,261.8 452.4,261.8 453.0,261.8 453.5,261.8 454.0,261.8 454.5,261.8 455.0,261.8 455.6,261.8 456.1,261.8 456.6,261.8 457.1,261.8 457.6,261.8 458.2,261.8 458.7,261.8 459.2,261.8 459.7,261.9 460.2,261.9 460.8,261.9 461.3,261.9 461.8,261.9 462.3,261.9 462.8,261.9 463.4,261.9 463.9,261.9 464.4,261.9 464.9,261.9 465.4,261.9 466.0,261.9 466.5,261.9 467.0,261.9 467.5,261.9 468.0,261.9 468.6,261.9 469.1,261.9 469.6,261.9 470.1,261.9 470.6,261.9 471.2,261.9 471.7,262.0 472.2,262.0 472.7,262.0 473.3,262.0 473.8,262.0 474.3,262.0 474.8,262.0 475.3,262.0 475.9,262.0 476.4,262.0 476.9,262.0 477.4,262.0 477.9,262.0 478.5,262.0 479.0,262.0 479.5,262.0 480.0,262.0 480.5,262.0 481.1,262.0 481.6,262.0 482.1,262.0 482.6,262.0 483.1,262.0 483.7,262.0 484.2,262.0 484.7,262.0 485.2,262.0 485.7,262.0 486.3,262.0 486.8,262.0 487.3,262.0 487.8,262.0 488.3,262.0 488.9,262.0 489.4,262.0 489.9,262.0 490.4,262.1 490.9,262.1 491.5,262.1 492.0,262.1 492.5,262.1" fill="none" stroke="#c0602a" stroke-width="1.0" stroke-linejoin="round" />
<polyline points="60.5,305.9 61.0,304.4 61.5,303.2 62.1,302.5 62.6,302.2 63.1,302.5 63.6,303.0 64.1,303.8 64.7,304.7 65.2,305.9 65.7,307.8 66.2,310.0 66.8,312.4 67.3,314.7 67.8,316.8 68.3,319.0 68.8,321.2 69.4,323.4 69.9,325.6 70.4,327.7 70.9,329.7 71.4,331.7 72.0,333.7 72.5,335.6 73.0,337.5 73.5,339.4 74.1,341.3 74.6,343.2 75.1,345.0 75.6,346.8 76.1,348.6 76.7,350.5 77.2,352.3 77.7,354.1 78.2,355.9 78.7,357.6 79.3,359.2 79.8,360.7 80.3,362.2 80.8,363.6 81.3,365.0 81.9,366.4 82.4,367.7 82.9,368.9 83.4,370.1 84.0,371.2 84.5,372.2 85.0,373.2 85.5,374.2 86.0,375.1 86.6,376.1 87.1,377.0 87.6,377.9 88.1,378.9 88.6,379.8 89.2,380.7 89.7,381.7 90.2,382.6 90.7,383.5 91.3,384.3 91.8,385.2 92.3,386.0 92.8,386.9 93.3,387.7 93.9,388.6 94.4,389.4 94.9,390.2 95.4,390.9 95.9,391.7 96.5,392.4 97.0,393.1 97.5,393.7 98.0,394.3 98.6,394.9 99.1,395.5 99.6,396.0 100.1,396.6 100.6,397.1 101.2,397.6 101.7,398.2 102.2,398.7 102.7,399.2 103.2,399.7 103.8,400.2 104.3,400.7 104.8,401.2 105.3,401.7 105.8,402.2 106.4,402.7 106.9,403.2 107.4,403.7 107.9,404.1 108.5,404.6 109.0,405.0 109.5,405.4 110.0,405.8 110.5,406.2 111.1,406.6 111.6,407.0 112.1,407.4 112.6,407.8 113.1,408.2 113.7,408.5 114.2,408.9 114.7,409.2 115.2,409.5 115.8,409.8 116.3,410.1 116.8,410.3 117.3,410.6 117.8,410.8 118.4,411.1 118.9,411.3 119.4,411.5 119.9,411.7 120.4,411.9 121.0,412.1 121.5,412.3 122.0,412.5 122.5,412.7 123.0,412.8 123.6,413.0 124.1,413.1 124.6,413.2 125.1,413.4 125.7,413.5 126.2,413.6 126.7,413.8 127.2,413.9 127.7,414.0 128.3,414.1 128.8,414.2 129.3,414.4 129.8,414.5 130.3,414.6 130.9,414.7 131.4,414.8 131.9,414.9 132.4,415.0 133.0,415.1 133.5,415.2 134.0,415.2 134.5,415.3 135.0,415.4 135.6,415.5 136.1,415.5 136.6,415.6 137.1,415.7 137.6,415.7 138.2,415.8 138.7,415.8 139.2,415.9 139.7,415.9 140.3,416.0 140.8,416.0 141.3,416.1 141.8,416.1 142.3,416.2 142.9,416.2 143.4,416.2 143.9,416.3 144.4,416.3 144.9,416.4 145.5,416.4 146.0,416.4 146.5,416.5 147.0,416.5 147.5,416.5 148.1,416.6 148.6,416.6 149.1,416.6 149.6,416.7 150.2,416.7 150.7,416.7 151.2,416.8 151.7,416.8 152.2,416.8 152.8,416.9 153.3,416.9 153.8,416.9 154.3,416.9 154.8,417.0 155.4,417.0 155.9,417.0 156.4,417.0 156.9,417.1 157.5,417.1 158.0,417.1 158.5,417.1 159.0,417.1 159.5,417.2 160.1,417.2 160.6,417.2 161.1,417.2 161.6,417.2 162.1,417.2 162.7,417.2 163.2,417.3 163.7,417.3 164.2,417.3 164.8,417.3 165.3,417.3 165.8,417.3 166.3,417.3 166.8,417.3 167.4,417.3 167.9,417.3 168.4,417.3 168.9,417.4 169.4,417.4 170.0,417.4 170.5,417.4 171.0,417.4 171.5,417.4 172.0,417.4 172.6,417.4 173.1,417.4 173.6,417.4 174.1,417.4 174.7,417.4" fill="none" stroke="#ff9ad0" stroke-width="11" stroke-linejoin="round" stroke-opacity="0.22" stroke-linecap="butt"/>
<polyline points="60.5,309.5 61.0,309.5 61.5,306.9 62.1,301.1 62.6,299.1 63.1,301.2 63.6,302.1 64.1,292.3 64.7,294.8 65.2,297.3 65.7,302.2 66.2,303.1 66.8,303.0 67.3,307.5 67.8,303.2 68.3,308.6 68.8,309.9 69.4,315.3 69.9,316.8 70.4,318.4 70.9,317.6 71.4,320.7 72.0,322.5 72.5,322.7 73.0,324.6 73.5,323.2 74.1,328.8 74.6,332.3 75.1,331.4 75.6,329.3 76.1,335.5 76.7,335.4 77.2,337.7 77.7,337.2 78.2,338.9 78.7,342.7 79.3,342.6 79.8,341.0 80.3,341.9 80.8,343.5 81.3,344.8 81.9,348.8 82.4,350.0 82.9,348.0 83.4,354.1 84.0,352.5 84.5,357.9 85.0,355.5 85.5,357.4 86.0,359.7 86.6,356.6 87.1,360.9 87.6,361.2 88.1,362.1 88.6,364.4 89.2,360.3 89.7,365.9 90.2,365.2 90.7,369.6 91.3,368.4 91.8,368.8 92.3,369.5 92.8,370.9 93.3,370.0 93.9,367.4 94.4,372.2 94.9,373.1 95.4,374.5 95.9,368.4 96.5,371.5 97.0,374.8 97.5,375.3 98.0,379.6 98.6,379.1 99.1,379.0 99.6,380.0 100.1,383.1 100.6,383.7 101.2,381.3 101.7,382.5 102.2,388.9 102.7,384.2 103.2,382.0 103.8,387.0 104.3,385.5 104.8,390.0 105.3,385.0 105.8,390.1 106.4,390.9 106.9,389.1 107.4,383.1 107.9,390.6 108.5,392.6 109.0,388.9 109.5,389.8 110.0,386.8 110.5,394.1 111.1,395.3 111.6,392.6 112.1,391.3 112.6,391.7 113.1,390.4 113.7,396.8 114.2,395.6 114.7,394.3 115.2,392.4 115.8,393.6 116.3,396.1 116.8,397.9 117.3,393.7 117.8,393.9 118.4,390.0 118.9,397.2 119.4,393.3 119.9,400.4 120.4,399.1 121.0,399.8 121.5,399.6 122.0,400.9 122.5,400.4 123.0,399.6 123.6,400.9 124.1,398.5 124.6,400.6 125.1,400.7 125.7,397.5 126.2,400.6 126.7,401.2 127.2,401.9 127.7,402.0 128.3,401.1 128.8,404.6 129.3,400.2 129.8,399.5 130.3,400.8 130.9,404.9 131.4,407.8 131.9,405.4 132.4,404.2 133.0,402.9 133.5,405.5 134.0,406.1 134.5,402.0 135.0,407.5 135.6,403.6 136.1,404.2 136.6,409.7 137.1,406.1 137.6,408.3 138.2,409.5 138.7,411.8 139.2,411.3 139.7,406.8 140.3,408.9 140.8,407.4 141.3,410.7 141.8,409.1 142.3,409.1 142.9,412.3 143.4,412.7 143.9,407.8 144.4,408.6 144.9,411.3 145.5,409.4 146.0,407.7 146.5,405.0 147.0,411.6 147.5,408.1 148.1,404.6 148.6,409.6 149.1,406.4 149.6,416.1 150.2,406.6 150.7,410.1 151.2,414.7 151.7,408.4 152.2,407.9 152.8,407.6 153.3,407.7 153.8,410.7 154.3,412.4 154.8,411.8 155.4,410.9 155.9,409.9 156.4,412.1 156.9,410.9 157.5,409.0 158.0,410.4 158.5,405.8 159.0,406.2 159.5,414.1 160.1,412.8 160.6,414.6 161.1,414.3 161.6,410.3 162.1,414.0 162.7,414.2 163.2,412.4 163.7,409.9 164.2,412.7 164.8,412.8 165.3,409.8 165.8,410.9 166.3,411.0 166.8,409.9 167.4,414.6 167.9,411.7 168.4,413.8 168.9,409.9 169.4,410.4 170.0,414.9 170.5,409.3 171.0,415.3 171.5,409.8 172.0,412.1 172.6,414.7 173.1,415.4 173.6,413.5 174.1,412.9 174.7,414.5 175.2,411.6 175.7,416.3 176.2,413.0 176.7,413.0 177.3,417.5 177.8,412.4 178.3,416.2 178.8,419.2 179.3,414.7 179.9,413.8 180.4,411.2 180.9,414.5 181.4,409.9 182.0,410.0 182.5,410.9 183.0,410.4 183.5,412.7 184.0,415.0 184.6,412.1 185.1,411.4 185.6,413.2 186.1,414.4 186.6,417.6 187.2,412.2 187.7,413.0 188.2,417.0 188.7,413.7 189.2,412.3 189.8,414.3 190.3,412.2 190.8,412.3 191.3,417.7 191.9,414.9 192.4,413.0 192.9,412.0 193.4,410.9 193.9,418.9 194.5,414.5 195.0,412.6 195.5,411.5 196.0,410.4 196.5,416.7 197.1,415.4 197.6,417.0 198.1,412.6 198.6,417.7 199.2,411.8 199.7,412.4 200.2,413.5 200.7,419.9 201.2,416.3 201.8,412.9 202.3,418.1 202.8,415.3 203.3,415.1 203.8,412.7 204.4,414.2 204.9,414.2 205.4,415.9 205.9,414.9 206.4,415.3 207.0,413.2 207.5,415.4 208.0,412.5 208.5,419.1 209.1,412.2 209.6,415.5 210.1,412.4 210.6,414.9 211.1,413.1 211.7,411.6 212.2,416.5 212.7,415.0 213.2,415.6 213.7,414.8 214.3,419.2 214.8,415.7 215.3,415.9 215.8,417.2 216.4,415.8 216.9,419.1 217.4,412.1 217.9,414.4 218.4,410.9 219.0,417.6 219.5,418.3 220.0,414.8 220.5,419.5 221.0,415.0 221.6,417.3 222.1,416.4 222.6,415.0 223.1,415.5 223.7,411.2 224.2,414.2 224.7,418.8 225.2,413.4 225.7,418.9 226.3,415.6 226.8,418.8 227.3,417.8 227.8,412.7 228.3,417.2 228.9,417.4 229.4,417.2 229.9,416.7 230.4,412.5 230.9,418.8 231.5,418.9 232.0,414.6 232.5,419.8 233.0,416.9 233.6,413.3 234.1,416.1 234.6,417.2 235.1,417.8 235.6,418.3 236.2,417.5 236.7,415.8 237.2,413.2 237.7,413.9 238.2,417.6 238.8,418.0 239.3,414.6 239.8,420.6 240.3,417.3 240.9,417.1 241.4,419.0 241.9,418.7 242.4,415.5 242.9,420.3 243.5,418.6 244.0,417.9 244.5,416.2 245.0,419.7 245.5,413.8 246.1,417.2 246.6,417.1 247.1,417.4 247.6,418.1 248.2,418.9 248.7,413.8 249.2,416.1 249.7,416.8 250.2,414.2 250.8,418.3 251.3,415.1 251.8,416.6 252.3,418.8 252.8,414.8 253.4,420.2 253.9,415.1 254.4,418.8 254.9,415.7 255.4,413.4 256.0,415.4 256.5,418.2 257.0,416.8 257.5,417.6 258.1,419.6 258.6,419.4 259.1,416.7 259.6,415.5 260.1,421.0 260.7,417.0 261.2,415.6 261.7,416.6 262.2,419.2 262.7,414.4 263.3,419.7 263.8,415.3 264.3,413.0 264.8,421.7 265.4,416.3 265.9,416.1 266.4,416.3 266.9,418.7 267.4,417.6 268.0,420.2 268.5,416.6 269.0,415.6" fill="none" stroke="#111" stroke-width="1.35" stroke-linejoin="round" />
<polyline points="61.5,306.6 62.0,305.3 62.5,303.8 63.1,302.6 63.6,302.3 64.1,302.6 64.6,303.0 65.1,305.1 65.7,307.4 66.2,305.4 66.7,306.5 67.2,311.4 67.8,313.1 68.3,314.5 68.8,316.0 69.3,318.5 69.8,320.1 70.4,323.5 70.9,325.3 71.4,327.4 71.9,330.2 72.4,330.7 73.0,333.2 73.5,334.8 74.0,338.0 74.5,338.5 75.1,342.4 75.6,342.9 76.1,347.6 76.6,347.9 77.1,348.0 77.7,351.0 78.2,352.2 78.7,355.7 79.2,354.5 79.7,357.1 80.3,359.3 80.8,360.4 81.3,362.0 81.8,362.4 82.3,364.9 82.9,367.9 83.4,368.0 83.9,367.8 84.4,369.6 85.0,371.7 85.5,371.7 86.0,373.2 86.5,373.7 87.0,376.7 87.6,377.0 88.1,376.5 88.6,378.2 89.1,378.6 89.6,378.0 90.2,381.1 90.7,381.5 91.2,383.2 91.7,384.2 92.3,384.5 92.8,386.7 93.3,388.1 93.8,385.7 94.3,387.9 94.9,387.6 95.4,389.4 95.9,390.1 96.4,390.4 96.9,391.1 97.5,393.6 98.0,392.0 98.5,394.7 99.0,394.2 99.6,392.6 100.1,395.5 100.6,394.6 101.1,397.0 101.6,396.6 102.2,397.7 102.7,397.9 103.2,399.6 103.7,400.1 104.2,399.5 104.8,401.8 105.3,401.6 105.8,400.7 106.3,402.4 106.8,403.2 107.4,403.9 107.9,403.1 108.4,404.1 108.9,404.1 109.5,404.8 110.0,403.3 110.5,405.9 111.0,407.8 111.5,406.2 112.1,406.7 112.6,407.0 113.1,409.0 113.6,406.8 114.1,408.3 114.7,408.7 115.2,410.5 115.7,408.8 116.2,409.7 116.8,408.6 117.3,410.5 117.8,411.6 118.3,410.5 118.8,411.8 119.4,410.8 119.9,412.4 120.4,411.7 120.9,412.0 121.4,412.1 122.0,412.7 122.5,413.2 123.0,412.6 123.5,413.3 124.0,412.8 124.6,413.3 125.1,415.3 125.6,413.4 126.1,412.2 126.7,413.3 127.2,413.2 127.7,413.4 128.2,414.4 128.7,415.4 129.3,413.5 129.8,413.3 130.3,413.9 130.8,414.2 131.3,414.3 131.9,414.8 132.4,414.6 132.9,415.0 133.4,414.8 134.0,416.1 134.5,415.8 135.0,414.8 135.5,415.7 136.0,417.8 136.6,415.5 137.1,417.8 137.6,413.9 138.1,415.1 138.6,415.2 139.2,416.5 139.7,417.0 140.2,416.2 140.7,416.0 141.3,416.8 141.8,416.0 142.3,415.5 142.8,415.6 143.3,417.2 143.9,418.3 144.4,416.3 144.9,417.0 145.4,416.0 145.9,414.9 146.5,415.0 147.0,416.3 147.5,415.5 148.0,415.1 148.5,416.6 149.1,416.4 149.6,415.9 150.1,416.8 150.6,417.2 151.2,417.5 151.7,416.8 152.2,417.4 152.7,416.1 153.2,417.2 153.8,415.6 154.3,415.8 154.8,418.1 155.3,416.0 155.8,417.4 156.4,415.8 156.9,416.6 157.4,417.2 157.9,416.5 158.5,417.7 159.0,416.9 159.5,416.8 160.0,417.4 160.5,416.9 161.1,418.2 161.6,416.7 162.1,418.4 162.6,416.7 163.1,416.9 163.7,416.7 164.2,417.8 164.7,414.5 165.2,417.6 165.8,417.2 166.3,418.1 166.8,416.1 167.3,417.8 167.8,416.5 168.4,418.3 168.9,417.1 169.4,417.8 169.9,416.6 170.4,417.7 171.0,418.2 171.5,417.0 172.0,418.5 172.5,418.3 173.0,416.8 173.6,419.2 174.1,416.8 174.6,417.9 175.1,418.3 175.7,417.3 176.2,416.9 176.7,418.0 177.2,417.7 177.7,416.8 178.3,416.8 178.8,417.6 179.3,418.3 179.8,418.4 180.3,418.1 180.9,416.9 181.4,417.0 181.9,417.3 182.4,416.3 183.0,417.9 183.5,417.9 184.0,418.0 184.5,415.9 185.0,419.5 185.6,417.4 186.1,417.2 186.6,417.6 187.1,415.5 187.6,416.6 188.2,416.9 188.7,418.5 189.2,417.2 189.7,418.0 190.2,417.6 190.8,417.5 191.3,418.1 191.8,417.1 192.3,416.2 192.9,416.8 193.4,417.5 193.9,419.5 194.4,416.7 194.9,416.7 195.5,417.9 196.0,418.2 196.5,417.1 197.0,418.5 197.5,417.0 198.1,418.7 198.6,418.6 199.1,417.8 199.6,419.1 200.2,417.8 200.7,417.3 201.2,419.0 201.7,416.9 202.2,418.3 202.8,417.3 203.3,417.6 203.8,418.2 204.3,418.3 204.8,419.4 205.4,418.5 205.9,418.5 206.4,416.3 206.9,416.9 207.4,419.1 208.0,417.1 208.5,417.7 209.0,418.2 209.5,417.4 210.1,417.2 210.6,418.4 211.1,418.1 211.6,417.7 212.1,418.8 212.7,417.7 213.2,418.0 213.7,418.5 214.2,418.7 214.7,417.6 215.3,417.1 215.8,417.6 216.3,418.7 216.8,417.2 217.4,417.8 217.9,417.4 218.4,416.9 218.9,418.8 219.4,418.1 220.0,418.5 220.5,418.7 221.0,416.1 221.5,417.1 222.0,419.6 222.6,417.6 223.1,418.5 223.6,416.9 224.1,417.9 224.7,418.1 225.2,417.9 225.7,417.6 226.2,418.0 226.7,418.2 227.3,418.1 227.8,417.5 228.3,419.0 228.8,418.0 229.3,418.1 229.9,418.5 230.4,417.4 230.9,419.2 231.4,418.4 231.9,418.8 232.5,417.5 233.0,418.5 233.5,418.0 234.0,417.7 234.6,419.5 235.1,417.6 235.6,418.7 236.1,418.3 236.6,418.2 237.2,417.3 237.7,417.4 238.2,416.5 238.7,417.9 239.2,418.5 239.8,418.5 240.3,417.5 240.8,416.6 241.3,417.8 241.9,418.6 242.4,417.8 242.9,417.9 243.4,418.1 243.9,418.8 244.5,420.4 245.0,418.6 245.5,417.1 246.0,417.9 246.5,420.1 247.1,418.1 247.6,419.8 248.1,416.3 248.6,417.9 249.2,419.2 249.7,417.4 250.2,418.8 250.7,417.6 251.2,418.1 251.8,419.2 252.3,417.5 252.8,419.3 253.3,416.9 253.8,418.1 254.4,419.0 254.9,419.8 255.4,416.7 255.9,416.8 256.4,419.3 257.0,416.6 257.5,418.0 258.0,418.3 258.5,418.2 259.1,418.4 259.6,416.8 260.1,418.0 260.6,419.8 261.1,416.2 261.7,417.3 262.2,419.1 262.7,418.5 263.2,419.0 263.7,418.1 264.3,417.8 264.8,417.9 265.3,418.7 265.8,418.9 266.4,417.4 266.9,418.2 267.4,416.1 267.9,418.9 268.4,417.4 269.0,418.1 269.5,418.8 270.0,416.9" fill="none" stroke="#d06a30" stroke-width="1.0" stroke-linejoin="round" />
<polyline points="59.6,305.8 60.1,305.2 60.6,303.5 61.2,301.6 61.7,303.4 62.2,301.2 62.7,302.4 63.2,304.0 63.8,303.4 64.3,304.4 64.8,307.2 65.3,309.9 65.9,310.7 66.4,313.3 66.9,317.7 67.4,319.2 67.9,321.4 68.5,323.8 69.0,326.9 69.5,326.9 70.0,329.6 70.5,331.6 71.1,332.4 71.6,336.1 72.1,337.6 72.6,339.2 73.2,341.7 73.7,343.3 74.2,344.3 74.7,346.8 75.2,347.4 75.8,351.1 76.3,352.1 76.8,355.4 77.3,356.0 77.8,358.2 78.4,357.9 78.9,360.0 79.4,361.7 79.9,361.9 80.4,363.7 81.0,365.7 81.5,368.3 82.0,370.2 82.5,370.1 83.1,371.5 83.6,372.8 84.1,373.5 84.6,375.7 85.1,373.8 85.7,377.1 86.2,377.6 86.7,377.4 87.2,380.3 87.7,379.0 88.3,379.9 88.8,381.9 89.3,383.5 89.8,383.9 90.4,386.0 90.9,383.9 91.4,386.0 91.9,387.6 92.4,388.6 93.0,388.0 93.5,388.0 94.0,391.3 94.5,391.5 95.0,393.3 95.6,391.8 96.1,392.9 96.6,391.6 97.1,394.4 97.7,395.3 98.2,396.1 98.7,395.3 99.2,398.1 99.7,396.4 100.3,397.4 100.8,398.6 101.3,399.5 101.8,398.2 102.3,398.0 102.9,400.6 103.4,400.2 103.9,399.6 104.4,402.3 104.9,402.5 105.5,403.8 106.0,403.3 106.5,403.7 107.0,404.5 107.6,405.2 108.1,406.5 108.6,406.7 109.1,406.7 109.6,405.7 110.2,407.1 110.7,407.8 111.2,406.8 111.7,407.3 112.2,408.9 112.8,409.1 113.3,408.3 113.8,408.9 114.3,410.3 114.9,409.6 115.4,410.1 115.9,409.3 116.4,411.4 116.9,410.0 117.5,410.7 118.0,412.2 118.5,410.5 119.0,410.9 119.5,413.2 120.1,410.3 120.6,413.4 121.1,413.3 121.6,413.0 122.1,412.1 122.7,412.4 123.2,413.2 123.7,412.0 124.2,413.0 124.8,412.2 125.3,411.0 125.8,413.6 126.3,416.3 126.8,414.4 127.4,415.1 127.9,414.2 128.4,414.3 128.9,415.6 129.4,415.7 130.0,414.9 130.5,415.0 131.0,417.3 131.5,414.1 132.1,415.0 132.6,415.2 133.1,415.0 133.6,416.3 134.1,415.5 134.7,414.5 135.2,414.5 135.7,415.2 136.2,415.9 136.7,416.5 137.3,414.6 137.8,415.3 138.3,416.3 138.8,418.0 139.4,416.8 139.9,417.8 140.4,414.9 140.9,415.9 141.4,416.9 142.0,416.5 142.5,413.8 143.0,415.1 143.5,417.6 144.0,416.5 144.6,417.6 145.1,418.1 145.6,416.3 146.1,414.2 146.6,415.1 147.2,416.5 147.7,417.0 148.2,416.5 148.7,415.7 149.3,418.1 149.8,418.5 150.3,415.0 150.8,416.5 151.3,415.3 151.9,416.6 152.4,415.5 152.9,417.5 153.4,416.5 153.9,415.5 154.5,416.0 155.0,417.5 155.5,416.2 156.0,417.7 156.6,418.4 157.1,416.6 157.6,415.8 158.1,416.3 158.6,418.4 159.2,416.3 159.7,416.5 160.2,417.6 160.7,419.6 161.2,416.3 161.8,416.4 162.3,416.8 162.8,418.9 163.3,418.7 163.8,416.3 164.4,416.5 164.9,416.8 165.4,417.6 165.9,416.9 166.5,417.9 167.0,417.6 167.5,418.2 168.0,417.1 168.5,417.8 169.1,416.5 169.6,416.7 170.1,418.2 170.6,415.6 171.1,418.5 171.7,417.0 172.2,416.4 172.7,416.2 173.2,419.6 173.8,416.5 174.3,416.3 174.8,416.1 175.3,419.6 175.8,418.1 176.4,417.6 176.9,417.9 177.4,416.2 177.9,418.2 178.4,416.3 179.0,417.0 179.5,418.9 180.0,418.5 180.5,418.0 181.1,417.5 181.6,416.6 182.1,417.7 182.6,416.7 183.1,419.1 183.7,420.5 184.2,417.9 184.7,417.2 185.2,418.0 185.7,418.6 186.3,417.2 186.8,415.8 187.3,417.7 187.8,418.3 188.3,418.5 188.9,415.7 189.4,417.7 189.9,417.1 190.4,416.5 191.0,416.6 191.5,418.6 192.0,416.8 192.5,416.9 193.0,417.2 193.6,416.7 194.1,418.3 194.6,417.8 195.1,418.2 195.6,417.0 196.2,418.4 196.7,417.4 197.2,418.8 197.7,417.9 198.3,418.1 198.8,417.9 199.3,417.6 199.8,418.0 200.3,418.0 200.9,419.8 201.4,416.7 201.9,418.4 202.4,418.0 202.9,418.6 203.5,416.8 204.0,418.7 204.5,417.3 205.0,416.7 205.5,416.2 206.1,416.7 206.6,417.2 207.1,419.0 207.6,416.6 208.2,416.7 208.7,417.1 209.2,417.1 209.7,417.8 210.2,418.4 210.8,416.8 211.3,416.7 211.8,418.9 212.3,417.0 212.8,417.7 213.4,417.0 213.9,417.6 214.4,416.8 214.9,416.9 215.5,417.1 216.0,419.3 216.5,417.1 217.0,417.9 217.5,419.0 218.1,417.3 218.6,419.3 219.1,417.1 219.6,416.3 220.1,418.4 220.7,417.1 221.2,417.5 221.7,417.3 222.2,419.3 222.8,417.4 223.3,417.8 223.8,417.3 224.3,418.0 224.8,416.9 225.4,417.7 225.9,417.3 226.4,416.7 226.9,417.8 227.4,417.0 228.0,417.8 228.5,417.5 229.0,418.5 229.5,417.3 230.0,416.8 230.6,418.1 231.1,417.2 231.6,417.6 232.1,419.1 232.7,417.7 233.2,416.8 233.7,418.5 234.2,419.7 234.7,417.8 235.3,418.6 235.8,416.2 236.3,418.1 236.8,418.0 237.3,418.6 237.9,417.8 238.4,418.6 238.9,418.9 239.4,418.1 240.0,418.8 240.5,416.8 241.0,419.2 241.5,418.1 242.0,418.7 242.6,419.4 243.1,416.5 243.6,420.1 244.1,416.7 244.6,419.4 245.2,418.0 245.7,415.9 246.2,420.1 246.7,419.4 247.2,416.8 247.8,417.9 248.3,418.6 248.8,418.1 249.3,419.0 249.9,418.0 250.4,416.7 250.9,418.4 251.4,417.9 251.9,416.9 252.5,416.2 253.0,418.6 253.5,417.8 254.0,418.6 254.5,418.7 255.1,418.5 255.6,418.7 256.1,419.7 256.6,420.0 257.2,418.8 257.7,418.0 258.2,416.9 258.7,418.6 259.2,418.3 259.8,417.5 260.3,417.4 260.8,418.2 261.3,418.1 261.8,416.3 262.4,418.4 262.9,418.6 263.4,419.6 263.9,417.7 264.5,418.4 265.0,416.3 265.5,418.4 266.0,417.3 266.5,417.2 267.1,416.5 267.6,419.3 268.1,416.6" fill="none" stroke="#8a3a18" stroke-width="1.1" stroke-linejoin="round" />
<polyline points="61.5,302.2 62.0,301.5 62.5,301.3 63.1,301.4 63.6,302.0 64.1,305.7 64.6,305.5 65.1,308.5 65.7,311.8 66.2,313.6 66.7,314.3 67.2,319.1 67.8,322.8 68.3,323.7 68.8,328.8 69.3,330.7 69.8,333.6 70.4,335.8 70.9,337.3 71.4,339.9 71.9,343.6 72.4,345.5 73.0,347.8 73.5,350.7 74.0,352.7 74.5,355.7 75.1,358.0 75.6,359.6 76.1,362.9 76.6,363.8 77.1,366.5 77.7,369.0 78.2,370.4 78.7,371.7 79.2,372.8 79.7,373.8 80.3,375.3 80.8,377.2 81.3,376.2 81.8,377.9 82.3,379.9 82.9,380.3 83.4,382.1 83.9,383.8 84.4,384.7 85.0,383.4 85.5,386.1 86.0,387.1 86.5,389.4 87.0,389.4 87.6,388.8 88.1,391.4 88.6,391.6 89.1,392.3 89.6,393.6 90.2,393.5 90.7,395.5 91.2,395.9 91.7,397.5 92.3,395.0 92.8,397.8 93.3,398.5 93.8,397.8 94.3,400.1 94.9,400.2 95.4,401.4 95.9,401.1 96.4,402.0 96.9,401.6 97.5,402.7 98.0,403.6 98.5,403.8 99.0,404.1 99.6,404.9 100.1,403.9 100.6,404.6 101.1,405.6 101.6,407.2 102.2,406.1 102.7,408.2 103.2,407.2 103.7,407.7 104.2,408.7 104.8,409.2 105.3,409.4 105.8,407.2 106.3,409.6 106.8,409.9 107.4,409.0 107.9,409.8 108.4,409.5 108.9,411.9 109.5,412.0 110.0,408.1 110.5,411.4 111.0,411.9 111.5,411.7 112.1,411.1 112.6,413.3 113.1,412.1 113.6,412.6 114.1,412.1 114.7,412.8 115.2,413.6 115.7,414.1 116.2,415.7 116.8,412.7 117.3,415.1 117.8,414.2 118.3,412.4 118.8,414.5 119.4,413.7 119.9,414.6 120.4,413.8 120.9,414.6 121.4,415.2 122.0,413.6 122.5,415.2 123.0,416.3 123.5,415.5 124.0,414.8 124.6,416.4 125.1,414.7 125.6,414.8 126.1,413.7 126.7,416.3 127.2,415.2 127.7,417.4 128.2,416.3 128.7,415.9 129.3,415.6 129.8,416.1 130.3,416.2 130.8,416.7 131.3,416.6 131.9,415.9 132.4,415.8 132.9,415.7 133.4,415.4 134.0,415.3 134.5,418.1 135.0,416.9 135.5,416.6 136.0,417.1 136.6,415.6 137.1,415.9 137.6,416.7 138.1,416.5 138.6,415.5 139.2,417.0 139.7,417.0 140.2,415.9 140.7,416.4 141.3,415.5 141.8,416.5 142.3,416.2 142.8,417.4 143.3,417.8 143.9,416.9 144.4,419.4 144.9,416.6 145.4,416.1 145.9,416.9 146.5,417.2 147.0,416.0 147.5,417.1 148.0,416.2 148.5,415.1 149.1,416.5 149.6,416.3 150.1,416.7 150.6,416.9 151.2,416.9 151.7,417.1 152.2,416.2 152.7,418.7 153.2,417.5 153.8,416.6 154.3,418.0 154.8,417.4 155.3,417.9 155.8,416.9 156.4,416.5 156.9,415.9 157.4,416.8 157.9,418.0 158.5,417.1 159.0,416.8 159.5,416.0 160.0,419.3 160.5,417.0 161.1,419.0 161.6,416.7 162.1,417.0 162.6,416.9 163.1,416.6 163.7,417.0 164.2,418.0 164.7,417.1 165.2,416.3 165.8,417.5 166.3,417.4 166.8,418.5 167.3,416.4 167.8,417.9 168.4,418.1 168.9,417.9 169.4,418.3 169.9,417.7 170.4,416.3 171.0,416.7 171.5,416.2 172.0,416.1 172.5,418.3 173.0,417.1 173.6,416.1 174.1,415.4 174.6,418.8 175.1,418.9 175.7,417.1 176.2,417.9 176.7,418.5 177.2,417.2 177.7,418.3 178.3,419.7 178.8,417.6 179.3,417.5 179.8,417.0 180.3,416.7 180.9,417.4 181.4,417.8 181.9,418.2 182.4,419.1 183.0,418.0 183.5,416.7 184.0,417.0 184.5,415.8 185.0,417.8 185.6,419.3 186.1,416.9 186.6,416.7 187.1,418.8 187.6,419.2 188.2,417.5 188.7,417.0 189.2,418.7 189.7,418.0 190.2,418.4 190.8,418.8 191.3,418.9 191.8,417.6 192.3,418.1 192.9,418.4 193.4,420.2 193.9,416.1 194.4,418.6 194.9,417.9 195.5,418.8 196.0,417.4 196.5,419.2 197.0,417.7 197.5,418.0 198.1,416.9 198.6,418.8 199.1,418.4 199.6,418.0 200.2,415.9 200.7,419.2 201.2,417.6 201.7,418.4 202.2,417.5 202.8,417.2 203.3,417.7 203.8,417.6 204.3,417.6 204.8,418.4 205.4,418.1 205.9,419.4 206.4,418.2 206.9,418.6 207.4,418.1 208.0,417.2 208.5,417.5 209.0,417.5 209.5,416.9 210.1,420.1 210.6,417.5 211.1,417.9 211.6,418.0 212.1,419.1 212.7,417.4 213.2,416.9 213.7,417.0 214.2,418.0 214.7,417.3 215.3,417.1 215.8,416.3 216.3,416.8 216.8,417.8 217.4,417.9 217.9,417.8 218.4,417.8 218.9,418.4 219.4,417.3 220.0,418.6 220.5,418.7 221.0,417.7 221.5,418.5 222.0,418.2 222.6,419.9 223.1,417.3 223.6,418.0 224.1,418.1 224.7,417.6 225.2,417.8 225.7,418.7 226.2,416.2 226.7,418.4 227.3,417.1 227.8,416.3 228.3,418.6 228.8,417.9 229.3,418.8 229.9,417.1 230.4,418.3 230.9,419.1 231.4,416.8 231.9,417.2 232.5,418.9 233.0,417.0 233.5,417.9 234.0,415.5 234.6,416.5 235.1,418.6 235.6,418.3 236.1,418.9 236.6,417.9 237.2,418.0 237.7,417.4 238.2,418.0 238.7,419.4 239.2,418.8 239.8,416.8 240.3,417.0 240.8,418.2 241.3,418.2 241.9,418.2 242.4,418.1 242.9,419.6 243.4,417.3 243.9,418.7 244.5,418.0 245.0,420.4 245.5,417.9 246.0,416.9 246.5,420.2 247.1,416.7 247.6,417.7 248.1,418.8 248.6,419.6 249.2,417.0 249.7,417.9 250.2,417.6 250.7,418.4 251.2,418.9 251.8,417.3 252.3,419.0 252.8,417.3 253.3,419.7 253.8,419.0 254.4,419.5 254.9,416.9 255.4,419.7 255.9,419.2 256.4,417.5 257.0,417.9 257.5,416.1 258.0,416.4 258.5,417.6 259.1,417.5 259.6,419.8 260.1,418.9 260.6,418.4 261.1,418.3 261.7,419.4 262.2,419.0 262.7,418.9 263.2,417.1 263.7,417.7 264.3,418.4 264.8,418.4 265.3,417.9 265.8,418.8 266.4,418.4 266.9,419.7 267.4,417.5 267.9,417.2 268.4,417.8 269.0,417.7 269.5,417.8 270.0,416.2" fill="none" stroke="#7a8a3a" stroke-width="1.0" stroke-linejoin="round" />
<polyline points="59.6,302.1 60.1,302.6 60.6,302.1 61.2,300.4 61.7,300.8 62.2,302.9 62.7,305.2 63.2,308.4 63.8,312.3 64.3,314.3 64.8,318.2 65.3,319.9 65.9,323.8 66.4,325.3 66.9,328.2 67.4,332.4 67.9,332.4 68.5,334.9 69.0,339.3 69.5,340.4 70.0,342.3 70.5,345.7 71.1,347.1 71.6,350.2 72.1,351.7 72.6,354.9 73.2,357.5 73.7,359.2 74.2,361.3 74.7,364.0 75.2,366.7 75.8,368.9 76.3,370.2 76.8,371.8 77.3,372.5 77.8,373.8 78.4,375.3 78.9,376.4 79.4,377.4 79.9,377.3 80.4,378.9 81.0,381.8 81.5,382.0 82.0,383.9 82.5,384.9 83.1,386.2 83.6,387.6 84.1,389.4 84.6,391.4 85.1,389.9 85.7,389.9 86.2,392.7 86.7,392.2 87.2,393.9 87.7,394.0 88.3,395.8 88.8,395.9 89.3,396.5 89.8,399.2 90.4,397.4 90.9,398.3 91.4,401.0 91.9,398.6 92.4,399.7 93.0,400.0 93.5,400.4 94.0,401.6 94.5,402.7 95.0,402.6 95.6,403.0 96.1,401.0 96.6,401.8 97.1,404.4 97.7,404.8 98.2,404.6 98.7,404.8 99.2,406.4 99.7,407.1 100.3,404.8 100.8,406.0 101.3,408.9 101.8,409.5 102.3,408.9 102.9,408.3 103.4,408.3 103.9,409.5 104.4,411.0 104.9,409.5 105.5,409.4 106.0,410.3 106.5,411.0 107.0,410.2 107.6,411.1 108.1,412.3 108.6,411.4 109.1,412.9 109.6,411.0 110.2,411.6 110.7,413.2 111.2,412.2 111.7,411.5 112.2,414.8 112.8,413.1 113.3,411.6 113.8,414.8 114.3,413.6 114.9,415.0 115.4,413.8 115.9,416.2 116.4,415.6 116.9,414.7 117.5,414.2 118.0,414.1 118.5,414.1 119.0,413.6 119.5,414.1 120.1,414.2 120.6,415.9 121.1,415.3 121.6,412.2 122.1,413.2 122.7,414.6 123.2,414.8 123.7,414.7 124.2,416.1 124.8,413.9 125.3,416.2 125.8,416.0 126.3,413.9 126.8,418.0 127.4,415.7 127.9,417.8 128.4,416.8 128.9,416.3 129.4,416.6 130.0,416.1 130.5,417.1 131.0,416.5 131.5,417.5 132.1,416.8 132.6,417.8 133.1,415.9 133.6,417.8 134.1,415.9 134.7,417.0 135.2,416.9 135.7,415.5 136.2,416.6 136.7,418.5 137.3,416.3 137.8,419.6 138.3,416.6 138.8,417.2 139.4,418.2 139.9,416.8 140.4,417.2 140.9,415.0 141.4,417.4 142.0,415.1 142.5,415.7 143.0,417.6 143.5,417.8 144.0,415.8 144.6,417.2 145.1,417.0 145.6,417.4 146.1,418.3 146.6,417.5 147.2,418.1 147.7,418.7 148.2,417.5 148.7,415.5 149.3,415.7 149.8,417.3 150.3,417.1 150.8,416.8 151.3,416.0 151.9,417.0 152.4,417.8 152.9,417.7 153.4,416.2 153.9,414.8 154.5,417.9 155.0,419.3 155.5,416.6 156.0,417.4 156.6,417.2 157.1,416.2 157.6,417.3 158.1,418.7 158.6,419.3 159.2,417.4 159.7,418.5 160.2,417.1 160.7,418.7 161.2,417.8 161.8,418.9 162.3,417.8 162.8,417.9 163.3,416.9 163.8,416.2 164.4,417.7 164.9,418.3 165.4,415.6 165.9,417.1 166.5,416.9 167.0,416.9 167.5,416.1 168.0,416.5 168.5,416.9 169.1,416.8 169.6,418.4 170.1,418.1 170.6,417.7 171.1,417.5 171.7,417.5 172.2,417.3 172.7,417.6 173.2,418.0 173.8,419.2 174.3,416.8 174.8,417.0 175.3,418.5 175.8,417.1 176.4,417.2 176.9,417.6 177.4,419.4 177.9,418.8 178.4,418.2 179.0,416.1 179.5,418.5 180.0,418.0 180.5,418.7 181.1,418.2 181.6,417.4 182.1,419.7 182.6,420.4 183.1,417.1 183.7,417.7 184.2,418.3 184.7,416.8 185.2,416.8 185.7,419.8 186.3,417.9 186.8,416.7 187.3,418.4 187.8,418.1 188.3,416.8 188.9,418.0 189.4,418.9 189.9,418.4 190.4,419.1 191.0,417.2 191.5,419.5 192.0,416.8 192.5,419.4 193.0,417.8 193.6,419.2 194.1,418.1 194.6,416.8 195.1,416.7 195.6,416.6 196.2,417.9 196.7,417.7 197.2,417.6 197.7,417.3 198.3,418.2 198.8,416.8 199.3,417.5 199.8,416.8 200.3,417.4 200.9,417.2 201.4,418.6 201.9,418.3 202.4,419.1 202.9,418.2 203.5,418.1 204.0,417.1 204.5,419.1 205.0,414.8 205.5,418.0 206.1,416.7 206.6,416.9 207.1,420.4 207.6,418.2 208.2,416.5 208.7,420.3 209.2,417.2 209.7,418.8 210.2,418.4 210.8,417.7 211.3,419.8 211.8,417.8 212.3,418.6 212.8,418.7 213.4,417.3 213.9,414.6 214.4,417.6 214.9,417.4 215.5,418.0 216.0,418.7 216.5,417.7 217.0,416.5 217.5,417.8 218.1,417.1 218.6,418.2 219.1,415.6 219.6,419.6 220.1,417.5 220.7,417.5 221.2,417.8 221.7,419.1 222.2,419.1 222.8,418.3 223.3,417.9 223.8,419.2 224.3,419.1 224.8,417.5 225.4,417.1 225.9,418.6 226.4,418.7 226.9,418.8 227.4,415.7 228.0,417.6 228.5,418.1 229.0,417.1 229.5,415.9 230.0,416.9 230.6,419.5 231.1,418.2 231.6,418.5 232.1,418.4 232.7,419.3 233.2,418.5 233.7,419.2 234.2,417.8 234.7,418.1 235.3,419.5 235.8,419.8 236.3,418.6 236.8,417.5 237.3,417.6 237.9,418.2 238.4,421.3 238.9,418.6 239.4,418.8 240.0,418.5 240.5,419.3 241.0,418.5 241.5,418.8 242.0,415.5 242.6,417.5 243.1,418.3 243.6,418.2 244.1,418.3 244.6,418.0 245.2,418.5 245.7,418.2 246.2,417.1 246.7,417.3 247.2,417.8 247.8,416.9 248.3,417.9 248.8,419.1 249.3,419.9 249.9,418.8 250.4,418.2 250.9,417.8 251.4,417.1 251.9,418.7 252.5,418.9 253.0,417.4 253.5,417.0 254.0,418.6 254.5,417.8 255.1,416.8 255.6,417.9 256.1,418.2 256.6,420.2 257.2,416.9 257.7,417.5 258.2,418.0 258.7,418.6 259.2,419.4 259.8,418.3 260.3,418.3 260.8,417.1 261.3,419.3 261.8,416.8 262.4,418.1 262.9,417.0 263.4,419.1 263.9,417.8 264.5,417.0 265.0,418.1 265.5,419.6 266.0,418.5 266.5,417.7 267.1,419.5 267.6,419.6 268.1,417.9" fill="none" stroke="#3a7020" stroke-width="1.1" stroke-linejoin="round" />
<line x1="61.2" y1="418.5" x2="61.2" y2="302.244" stroke="#47802a" stroke-width="1.3" />
<polyline points="284.4,310.1 284.9,307.3 285.4,304.9 286.0,302.9 286.5,301.6 287.0,300.7 287.5,299.9 288.0,299.4 288.6,299.2 289.1,299.6 289.6,300.4 290.1,301.6 290.6,302.8 291.2,304.3 291.7,306.2 292.2,308.2 292.7,310.1 293.2,311.9 293.8,313.7 294.3,315.5 294.8,317.4 295.3,319.4 295.8,321.6 296.4,323.8 296.9,326.1 297.4,328.2 297.9,330.4 298.4,332.6 299.0,334.7 299.5,336.7 300.0,338.6 300.5,340.4 301.0,342.1 301.6,343.7 302.1,345.4 302.6,346.9 303.1,348.5 303.6,350.0 304.2,351.5 304.7,352.9 305.2,354.3 305.7,355.7 306.3,357.1 306.8,358.4 307.3,359.7 307.8,361.0 308.3,362.3 308.9,363.5 309.4,364.7 309.9,365.9 310.4,367.1 310.9,368.2 311.5,369.4 312.0,370.6 312.5,371.7 313.0,372.9 313.5,374.0 314.1,375.2 314.6,376.3 315.1,377.3 315.6,378.3 316.1,379.3 316.7,380.3 317.2,381.2 317.7,382.1 318.2,383.0 318.7,383.8 319.3,384.7 319.8,385.5 320.3,386.3 320.8,387.1 321.3,387.9 321.9,388.8 322.4,389.6 322.9,390.4 323.4,391.2 323.9,392.0 324.5,392.8 325.0,393.7 325.5,394.5 326.0,395.3 326.5,396.0 327.1,396.8 327.6,397.5 328.1,398.2 328.6,398.8 329.1,399.4 329.7,400.0 330.2,400.5 330.7,401.1 331.2,401.6 331.7,402.0 332.3,402.5 332.8,402.9 333.3,403.4 333.8,403.8 334.3,404.2 334.9,404.6 335.4,405.0 335.9,405.3 336.4,405.7 336.9,406.0 337.5,406.4 338.0,406.7 338.5,407.1 339.0,407.4 339.5,407.7 340.1,408.0 340.6,408.3 341.1,408.6 341.6,408.8 342.1,409.1 342.7,409.3 343.2,409.5 343.7,409.8 344.2,410.0 344.7,410.2 345.3,410.4 345.8,410.7 346.3,410.9 346.8,411.1 347.4,411.3 347.9,411.5 348.4,411.7 348.9,411.9 349.4,412.1 350.0,412.2 350.5,412.4 351.0,412.6 351.5,412.8 352.0,412.9 352.6,413.1 353.1,413.2 353.6,413.4 354.1,413.5 354.6,413.6 355.2,413.8 355.7,413.9 356.2,414.0 356.7,414.1 357.2,414.2 357.8,414.2 358.3,414.3 358.8,414.4 359.3,414.5 359.8,414.6 360.4,414.7 360.9,414.7 361.4,414.8 361.9,414.9 362.4,415.0 363.0,415.0 363.5,415.1 364.0,415.2 364.5,415.3 365.0,415.3 365.6,415.4 366.1,415.5 366.6,415.5 367.1,415.6 367.6,415.7 368.2,415.7 368.7,415.8 369.2,415.9 369.7,415.9 370.2,416.0 370.8,416.1 371.3,416.1 371.8,416.2 372.3,416.2 372.8,416.3 373.4,416.3 373.9,416.4 374.4,416.4 374.9,416.5 375.4,416.5 376.0,416.6 376.5,416.6 377.0,416.7 377.5,416.7 378.0,416.8 378.6,416.8 379.1,416.8 379.6,416.9 380.1,416.9 380.6,416.9 381.2,417.0 381.7,417.0 382.2,417.0 382.7,417.1 383.2,417.1 383.8,417.1 384.3,417.2 384.8,417.2 385.3,417.2 385.8,417.2 386.4,417.2 386.9,417.3 387.4,417.3 387.9,417.3 388.4,417.3 389.0,417.3 389.5,417.3 390.0,417.3 390.5,417.4 391.1,417.4 391.6,417.4 392.1,417.4 392.6,417.4 393.1,417.4 393.7,417.4 394.2,417.5 394.7,417.5 395.2,417.5 395.7,417.5 396.3,417.5 396.8,417.5 397.3,417.5 397.8,417.5 398.3,417.6" fill="none" stroke="#ff9ad0" stroke-width="11" stroke-linejoin="round" stroke-opacity="0.22" stroke-linecap="butt"/>
<polyline points="284.4,334.3 284.9,323.4 285.4,321.7 286.0,318.2 286.5,312.1 287.0,304.2 287.5,308.0 288.0,304.4 288.6,302.5 289.1,304.2 289.6,298.2 290.1,299.4 290.6,297.9 291.2,302.4 291.7,302.3 292.2,305.0 292.7,299.3 293.2,300.3 293.8,299.0 294.3,298.4 294.8,303.8 295.3,305.0 295.8,304.7 296.4,303.7 296.9,311.1 297.4,309.4 297.9,313.2 298.4,315.1 299.0,314.1 299.5,319.7 300.0,322.1 300.5,319.4 301.0,322.6 301.6,324.6 302.1,325.6 302.6,325.5 303.1,328.9 303.6,327.5 304.2,329.6 304.7,328.3 305.2,330.1 305.7,332.4 306.3,336.2 306.8,336.7 307.3,339.6 307.8,332.5 308.3,341.2 308.9,340.5 309.4,339.7 309.9,347.4 310.4,347.3 310.9,347.4 311.5,349.9 312.0,351.7 312.5,350.9 313.0,347.6 313.5,350.0 314.1,352.7 314.6,353.7 315.1,358.8 315.6,354.0 316.1,355.6 316.7,360.1 317.2,357.9 317.7,359.7 318.2,361.3 318.7,363.2 319.3,363.3 319.8,364.7 320.3,362.0 320.8,362.9 321.3,363.7 321.9,365.6 322.4,366.7 322.9,361.4 323.4,371.5 323.9,364.7 324.5,367.3 325.0,368.7 325.5,370.7 326.0,370.7 326.5,373.8 327.1,375.1 327.6,372.8 328.1,377.4 328.6,372.2 329.1,372.4 329.7,384.3 330.2,380.6 330.7,377.0 331.2,378.0 331.7,379.0 332.3,378.9 332.8,378.8 333.3,379.1 333.8,377.5 334.3,382.3 334.9,380.8 335.4,387.4 335.9,384.3 336.4,387.5 336.9,381.7 337.5,379.9 338.0,384.7 338.5,389.7 339.0,387.3 339.5,387.4 340.1,387.4 340.6,385.7 341.1,386.5 341.6,395.6 342.1,386.3 342.7,391.3 343.2,391.8 343.7,387.4 344.2,391.9 344.7,395.0 345.3,395.2 345.8,392.3 346.3,390.6 346.8,389.5 347.4,393.9 347.9,395.0 348.4,390.3 348.9,395.6 349.4,391.3 350.0,394.6 350.5,394.9 351.0,396.4 351.5,395.4 352.0,397.6 352.6,398.4 353.1,397.4 353.6,398.9 354.1,396.9 354.6,397.7 355.2,398.8 355.7,399.0 356.2,399.3 356.7,394.8 357.2,399.3 357.8,401.0 358.3,400.5 358.8,398.4 359.3,400.8 359.8,400.9 360.4,401.4 360.9,400.6 361.4,400.3 361.9,400.4 362.4,405.6 363.0,404.5 363.5,408.5 364.0,400.4 364.5,399.8 365.0,399.6 365.6,402.6 366.1,400.4 366.6,403.4 367.1,403.8 367.6,407.4 368.2,405.8 368.7,405.5 369.2,402.1 369.7,400.4 370.2,405.8 370.8,403.9 371.3,404.3 371.8,407.0 372.3,409.4 372.8,407.2 373.4,409.0 373.9,406.5 374.4,406.2 374.9,406.4 375.4,406.5 376.0,405.1 376.5,408.6 377.0,404.4 377.5,410.7 378.0,406.6 378.6,406.0 379.1,409.0 379.6,411.1 380.1,405.8 380.6,409.1 381.2,405.8 381.7,406.0 382.2,408.0 382.7,408.2 383.2,406.0 383.8,407.6 384.3,411.0 384.8,408.5 385.3,407.7 385.8,408.7 386.4,408.9 386.9,409.9 387.4,410.0 387.9,412.1 388.4,413.5 389.0,407.5 389.5,411.9 390.0,410.0 390.5,414.3 391.1,410.4 391.6,412.9 392.1,403.9 392.6,413.6 393.1,413.5 393.7,409.0 394.2,408.7 394.7,416.6 395.2,411.0 395.7,409.6 396.3,414.7 396.8,410.2 397.3,413.2 397.8,414.4 398.3,412.9 398.9,413.3 399.4,415.6 399.9,406.9 400.4,413.5 400.9,414.3 401.5,410.5 402.0,412.8 402.5,409.5 403.0,413.4 403.5,411.9 404.1,412.6 404.6,412.5 405.1,413.5 405.6,413.3 406.1,409.1 406.7,414.8 407.2,414.5 407.7,414.1 408.2,411.9 408.7,412.4 409.3,411.2 409.8,416.7 410.3,412.9 410.8,414.0 411.3,414.3 411.9,413.3 412.4,418.5 412.9,413.1 413.4,413.5 413.9,417.3 414.5,414.2 415.0,410.3 415.5,415.0 416.0,412.7 416.5,414.7 417.1,416.1 417.6,416.4 418.1,415.2 418.6,411.2 419.1,412.4 419.7,416.1 420.2,412.0 420.7,414.8 421.2,416.2 421.7,413.5 422.3,416.8 422.8,418.4 423.3,411.6 423.8,419.1 424.3,413.5 424.9,418.5 425.4,414.9 425.9,415.4 426.4,416.0 426.9,420.2 427.5,415.3 428.0,415.1 428.5,417.2 429.0,415.3 429.5,412.8 430.1,416.9 430.6,414.6 431.1,418.0 431.6,414.4 432.2,413.8 432.7,409.4 433.2,413.2 433.7,414.4 434.2,412.1 434.8,417.9 435.3,413.0 435.8,416.8 436.3,417.1 436.8,413.0 437.4,415.1 437.9,412.5 438.4,419.1 438.9,415.1 439.4,417.0 440.0,416.4 440.5,420.3 441.0,413.6 441.5,415.3 442.0,418.2 442.6,419.1 443.1,418.0 443.6,412.6 444.1,416.2 444.6,416.8 445.2,414.8 445.7,416.0 446.2,415.5 446.7,414.3 447.2,415.3 447.8,414.0 448.3,419.0 448.8,416.0 449.3,417.0 449.8,416.0 450.4,416.3 450.9,417.8 451.4,417.1 451.9,414.1 452.4,417.6 453.0,419.3 453.5,415.0 454.0,414.1 454.5,417.1 455.0,416.1 455.6,418.5 456.1,417.0 456.6,413.9 457.1,414.6 457.6,416.2 458.2,417.2 458.7,420.5 459.2,415.9 459.7,415.6 460.2,414.2 460.8,411.9 461.3,415.8 461.8,414.5 462.3,419.4 462.8,413.9 463.4,414.7 463.9,413.6 464.4,415.2 464.9,415.8 465.4,413.4 466.0,418.5 466.5,415.4 467.0,414.4 467.5,418.8 468.0,419.7 468.6,415.9 469.1,416.7 469.6,415.6 470.1,415.5 470.6,418.8 471.2,416.3 471.7,414.4 472.2,417.9 472.7,417.8 473.3,419.8 473.8,415.2 474.3,412.5 474.8,420.4 475.3,415.4 475.9,415.1 476.4,418.5 476.9,418.1 477.4,419.7 477.9,419.1 478.5,416.9 479.0,415.7 479.5,417.0 480.0,415.3 480.5,416.8 481.1,420.1 481.6,413.9 482.1,414.5 482.6,419.0 483.1,413.2 483.7,416.3 484.2,417.1 484.7,412.9 485.2,423.3 485.7,421.2 486.3,415.7 486.8,418.0 487.3,419.7 487.8,413.9 488.3,416.3 488.9,420.5 489.4,419.0 489.9,415.5 490.4,413.3 490.9,422.2 491.5,416.9 492.0,418.4 492.5,421.6" fill="none" stroke="#111" stroke-width="1.35" stroke-linejoin="round" />
<polyline points="285.4,310.2 285.9,308.8 286.4,305.4 287.0,301.4 287.5,301.1 288.0,300.0 288.5,299.4 289.0,299.0 289.6,298.3 290.1,300.6 290.6,300.7 291.1,300.8 291.6,303.5 292.2,304.7 292.7,305.0 293.2,306.7 293.7,310.6 294.2,312.6 294.8,313.1 295.3,315.2 295.8,318.0 296.3,318.8 296.8,321.0 297.4,323.7 297.9,323.2 298.4,326.9 298.9,329.6 299.4,331.6 300.0,331.9 300.5,335.6 301.0,339.2 301.5,340.0 302.0,342.0 302.6,344.2 303.1,345.1 303.6,346.7 304.1,348.5 304.6,350.4 305.2,350.6 305.7,354.4 306.2,353.5 306.7,355.7 307.3,356.8 307.8,360.6 308.3,358.1 308.8,362.6 309.3,363.0 309.9,362.8 310.4,365.2 310.9,366.2 311.4,369.1 311.9,368.6 312.5,369.1 313.0,369.9 313.5,372.0 314.0,372.6 314.5,373.6 315.1,375.8 315.6,376.9 316.1,375.4 316.6,379.1 317.1,378.1 317.7,380.1 318.2,379.7 318.7,382.6 319.2,382.4 319.7,383.5 320.3,384.8 320.8,385.2 321.3,387.0 321.8,387.2 322.3,388.3 322.9,388.0 323.4,389.6 323.9,391.7 324.4,391.5 324.9,392.1 325.5,393.7 326.0,392.4 326.5,394.0 327.0,394.4 327.5,396.7 328.1,397.1 328.6,396.5 329.1,399.5 329.6,398.4 330.1,399.3 330.7,400.4 331.2,400.4 331.7,402.0 332.2,401.3 332.7,403.1 333.3,403.7 333.8,401.6 334.3,404.0 334.8,405.8 335.3,403.2 335.9,405.3 336.4,408.3 336.9,405.3 337.4,404.8 337.9,405.7 338.5,404.7 339.0,406.8 339.5,406.4 340.0,408.3 340.5,407.5 341.1,406.5 341.6,407.8 342.1,408.4 342.6,410.7 343.1,409.4 343.7,410.5 344.2,408.8 344.7,410.4 345.2,409.6 345.7,411.1 346.3,408.6 346.8,411.7 347.3,410.7 347.8,408.5 348.4,411.0 348.9,412.3 349.4,411.0 349.9,410.9 350.4,411.2 351.0,414.1 351.5,412.2 352.0,414.6 352.5,410.9 353.0,412.8 353.6,413.5 354.1,412.5 354.6,412.9 355.1,414.6 355.6,412.0 356.2,413.9 356.7,415.5 357.2,412.6 357.7,412.6 358.2,412.9 358.8,413.7 359.3,415.1 359.8,413.5 360.3,412.7 360.8,413.8 361.4,413.1 361.9,415.4 362.4,413.8 362.9,414.0 363.4,416.3 364.0,416.6 364.5,415.8 365.0,415.1 365.5,414.8 366.0,415.5 366.6,415.4 367.1,415.5 367.6,415.4 368.1,415.0 368.6,415.2 369.2,415.7 369.7,415.5 370.2,416.3 370.7,415.1 371.2,416.4 371.8,414.4 372.3,416.1 372.8,415.9 373.3,416.9 373.8,416.6 374.4,416.1 374.9,416.3 375.4,417.0 375.9,417.5 376.4,416.4 377.0,416.4 377.5,416.0 378.0,415.4 378.5,417.0 379.0,418.6 379.6,416.9 380.1,418.6 380.6,418.1 381.1,415.9 381.6,416.3 382.2,417.5 382.7,417.6 383.2,417.1 383.7,418.7 384.2,416.6 384.8,417.4 385.3,415.3 385.8,418.1 386.3,416.2 386.8,417.8 387.4,416.2 387.9,418.1 388.4,416.5 388.9,417.7 389.4,418.0 390.0,417.4 390.5,416.8 391.0,416.9 391.5,415.8 392.1,416.5 392.6,419.9 393.1,417.7 393.6,419.3 394.1,417.7 394.7,416.8 395.2,418.7 395.7,418.5 396.2,417.3 396.7,417.7 397.3,415.9 397.8,417.2 398.3,417.0 398.8,415.8 399.3,418.0 399.9,417.5 400.4,418.5 400.9,417.3 401.4,416.5 401.9,416.2 402.5,417.6 403.0,418.3 403.5,418.3 404.0,419.0 404.5,417.5 405.1,416.3 405.6,419.9 406.1,419.8 406.6,416.3 407.1,419.2 407.7,417.4 408.2,418.9 408.7,416.9 409.2,417.0 409.7,417.6 410.3,416.9 410.8,417.7 411.3,417.2 411.8,416.0 412.3,416.7 412.9,418.4 413.4,418.6 413.9,418.0 414.4,418.0 414.9,417.8 415.5,418.4 416.0,417.2 416.5,417.8 417.0,417.5 417.5,417.9 418.1,417.3 418.6,419.1 419.1,416.4 419.6,417.6 420.1,417.5 420.7,417.3 421.2,416.9 421.7,417.2 422.2,417.7 422.7,418.1 423.3,419.6 423.8,417.8 424.3,418.3 424.8,418.3 425.3,415.7 425.9,419.8 426.4,418.0 426.9,416.9 427.4,417.1 427.9,416.8 428.5,419.3 429.0,419.0 429.5,417.5 430.0,418.4 430.5,416.4 431.1,417.9 431.6,417.9 432.1,417.7 432.6,418.4 433.2,418.0 433.7,418.8 434.2,418.2 434.7,418.6 435.2,417.9 435.8,419.5 436.3,419.6 436.8,417.7 437.3,418.0 437.8,419.1 438.4,418.4 438.9,419.2 439.4,416.2 439.9,419.7 440.4,416.6 441.0,419.0 441.5,417.8 442.0,418.5 442.5,418.6 443.0,417.3 443.6,417.5 444.1,418.5 444.6,419.1 445.1,416.3 445.6,416.9 446.2,418.1 446.7,418.6 447.2,418.0 447.7,418.2 448.2,417.2 448.8,419.2 449.3,418.3 449.8,419.1 450.3,417.1 450.8,416.6 451.4,418.4 451.9,417.8 452.4,417.0 452.9,418.6 453.4,419.3 454.0,417.4 454.5,417.9 455.0,418.6 455.5,417.0 456.0,418.2 456.6,420.1 457.1,418.1 457.6,418.5 458.1,416.6 458.6,418.4 459.2,418.6 459.7,418.0 460.2,418.2 460.7,419.8 461.2,418.3 461.8,418.7 462.3,417.1 462.8,416.1 463.3,419.5 463.8,419.4 464.4,419.3 464.9,419.1 465.4,419.1 465.9,418.4 466.4,417.4 467.0,419.7 467.5,420.0 468.0,420.3 468.5,417.4 469.0,417.2 469.6,420.0 470.1,420.1 470.6,418.4 471.1,417.4 471.6,417.5 472.2,418.3 472.7,417.8 473.2,418.2 473.7,419.0 474.3,416.7 474.8,418.5 475.3,419.6 475.8,419.0 476.3,420.0 476.9,418.5 477.4,417.5 477.9,419.7 478.4,417.4 478.9,416.5 479.5,418.2 480.0,419.6 480.5,419.4 481.0,418.9 481.5,419.8 482.1,419.7 482.6,418.8 483.1,418.7 483.6,417.9 484.1,419.7 484.7,416.7 485.2,417.5 485.7,417.7 486.2,419.2 486.7,416.9 487.3,418.9 487.8,416.8 488.3,417.5 488.8,419.4 489.3,419.0 489.9,416.7 490.4,417.6 490.9,418.7 491.4,418.3 491.9,418.4 492.5,419.3 493.0,418.7 493.5,419.2" fill="none" stroke="#d06a30" stroke-width="1.0" stroke-linejoin="round" />
<polyline points="283.5,310.4 284.0,306.8 284.5,305.7 285.1,302.1 285.6,301.4 286.1,299.9 286.6,299.0 287.1,298.1 287.7,298.5 288.2,298.8 288.7,300.5 289.2,300.9 289.7,303.6 290.3,304.5 290.8,305.3 291.3,308.1 291.8,309.6 292.3,312.8 292.9,312.2 293.4,315.9 293.9,316.9 294.4,319.3 294.9,320.6 295.5,324.1 296.0,326.9 296.5,330.0 297.0,330.6 297.5,333.7 298.1,334.1 298.6,335.2 299.1,340.6 299.6,341.5 300.1,341.7 300.7,342.5 301.2,345.0 301.7,346.5 302.2,347.9 302.7,349.3 303.3,349.8 303.8,352.2 304.3,355.4 304.8,356.1 305.4,356.8 305.9,359.1 306.4,359.9 306.9,361.4 307.4,362.8 308.0,362.7 308.5,365.0 309.0,366.9 309.5,367.7 310.0,368.1 310.6,367.2 311.1,370.2 311.6,370.2 312.1,372.3 312.6,376.0 313.2,374.7 313.7,377.0 314.2,378.6 314.7,379.3 315.2,377.5 315.8,381.7 316.3,381.7 316.8,380.9 317.3,382.2 317.8,385.4 318.4,384.7 318.9,385.9 319.4,386.4 319.9,386.3 320.4,388.4 321.0,389.0 321.5,388.0 322.0,392.1 322.5,391.5 323.0,391.5 323.6,394.0 324.1,394.2 324.6,395.7 325.1,395.0 325.6,396.5 326.2,395.9 326.7,396.4 327.2,398.0 327.7,399.1 328.2,399.1 328.8,399.9 329.3,401.6 329.8,399.9 330.3,401.2 330.8,401.2 331.4,403.7 331.9,402.0 332.4,401.2 332.9,403.1 333.4,405.5 334.0,404.5 334.5,404.9 335.0,405.0 335.5,405.8 336.0,405.5 336.6,406.8 337.1,406.4 337.6,407.6 338.1,407.2 338.6,406.6 339.2,408.4 339.7,407.6 340.2,409.3 340.7,409.1 341.2,409.2 341.8,408.0 342.3,410.2 342.8,408.5 343.3,411.3 343.8,410.3 344.4,409.5 344.9,409.9 345.4,411.8 345.9,412.2 346.5,410.3 347.0,412.6 347.5,411.0 348.0,412.3 348.5,412.0 349.1,409.9 349.6,410.8 350.1,411.7 350.6,414.0 351.1,412.5 351.7,412.9 352.2,413.2 352.7,412.0 353.2,415.1 353.7,413.2 354.3,413.5 354.8,414.5 355.3,412.2 355.8,415.2 356.3,414.1 356.9,414.1 357.4,416.4 357.9,415.7 358.4,415.4 358.9,413.7 359.5,413.7 360.0,414.1 360.5,414.5 361.0,417.0 361.5,414.7 362.1,415.5 362.6,413.9 363.1,413.8 363.6,413.0 364.1,414.6 364.7,414.5 365.2,416.4 365.7,415.4 366.2,416.7 366.7,414.7 367.3,416.8 367.8,415.9 368.3,416.6 368.8,416.3 369.3,415.5 369.9,416.5 370.4,415.8 370.9,417.1 371.4,414.8 371.9,416.8 372.5,415.3 373.0,414.2 373.5,418.7 374.0,417.4 374.5,416.7 375.1,415.4 375.6,417.0 376.1,416.2 376.6,417.4 377.1,416.1 377.7,417.9 378.2,415.9 378.7,419.7 379.2,418.7 379.7,415.1 380.3,416.7 380.8,417.8 381.3,414.8 381.8,416.0 382.3,415.9 382.9,417.5 383.4,416.5 383.9,416.6 384.4,418.8 384.9,416.6 385.5,417.4 386.0,415.9 386.5,415.9 387.0,417.9 387.6,417.8 388.1,417.1 388.6,416.6 389.1,417.7 389.6,417.4 390.2,416.7 390.7,416.9 391.2,416.2 391.7,417.1 392.2,418.2 392.8,419.1 393.3,416.6 393.8,417.7 394.3,417.8 394.8,417.7 395.4,419.0 395.9,417.8 396.4,420.0 396.9,417.9 397.4,418.4 398.0,415.7 398.5,417.1 399.0,417.7 399.5,417.4 400.0,416.8 400.6,418.3 401.1,417.8 401.6,417.9 402.1,415.1 402.6,417.5 403.2,419.6 403.7,416.8 404.2,415.1 404.7,418.6 405.2,414.2 405.8,417.7 406.3,416.7 406.8,418.3 407.3,418.0 407.8,418.9 408.4,418.8 408.9,419.9 409.4,416.6 409.9,418.9 410.4,417.4 411.0,417.5 411.5,418.4 412.0,417.8 412.5,417.9 413.0,418.3 413.6,417.8 414.1,417.8 414.6,418.9 415.1,419.2 415.6,418.7 416.2,417.8 416.7,416.5 417.2,416.4 417.7,417.6 418.2,417.0 418.8,417.8 419.3,416.8 419.8,417.8 420.3,417.6 420.8,418.3 421.4,418.0 421.9,416.1 422.4,419.2 422.9,418.0 423.4,418.6 424.0,417.1 424.5,416.2 425.0,418.4 425.5,420.8 426.0,417.4 426.6,417.5 427.1,419.8 427.6,418.3 428.1,418.2 428.6,420.4 429.2,417.4 429.7,417.7 430.2,417.9 430.7,419.2 431.3,418.9 431.8,418.8 432.3,417.7 432.8,419.2 433.3,416.7 433.9,417.8 434.4,420.4 434.9,416.5 435.4,418.0 435.9,418.8 436.5,418.1 437.0,420.1 437.5,418.0 438.0,420.7 438.5,419.3 439.1,416.9 439.6,417.0 440.1,418.6 440.6,419.3 441.1,417.3 441.7,418.3 442.2,418.1 442.7,417.7 443.2,419.4 443.7,417.5 444.3,420.5 444.8,416.9 445.3,419.9 445.8,419.0 446.3,419.0 446.9,417.6 447.4,417.6 447.9,418.0 448.4,417.8 448.9,417.9 449.5,418.5 450.0,420.3 450.5,420.7 451.0,420.7 451.5,418.5 452.1,418.6 452.6,418.6 453.1,418.2 453.6,418.7 454.1,419.4 454.7,420.0 455.2,420.4 455.7,417.2 456.2,417.5 456.7,419.8 457.3,418.7 457.8,418.0 458.3,416.9 458.8,419.1 459.3,418.3 459.9,417.3 460.4,420.2 460.9,419.2 461.4,418.5 461.9,419.2 462.5,416.4 463.0,417.6 463.5,418.3 464.0,419.5 464.5,417.6 465.1,417.9 465.6,419.0 466.1,419.0 466.6,420.0 467.1,418.6 467.7,417.7 468.2,417.5 468.7,418.0 469.2,417.7 469.7,419.1 470.3,419.0 470.8,417.3 471.3,418.1 471.8,419.4 472.4,418.1 472.9,417.7 473.4,417.9 473.9,418.5 474.4,419.1 475.0,418.2 475.5,416.9 476.0,418.4 476.5,419.3 477.0,418.2 477.6,419.8 478.1,418.4 478.6,418.9 479.1,417.6 479.6,418.5 480.2,417.5 480.7,416.3 481.2,418.8 481.7,419.4 482.2,418.1 482.8,418.7 483.3,418.5 483.8,419.2 484.3,418.0 484.8,418.5 485.4,420.8 485.9,418.8 486.4,418.3 486.9,417.4 487.4,419.2 488.0,419.4 488.5,417.5 489.0,419.2 489.5,418.5 490.0,418.1 490.6,417.9 491.1,418.6 491.6,419.7" fill="none" stroke="#8a3a18" stroke-width="1.1" stroke-linejoin="round" />
<polyline points="285.4,298.2 285.9,299.6 286.4,299.7 287.0,297.2 287.5,299.1 288.0,302.8 288.5,304.5 289.0,307.4 289.6,311.8 290.1,316.3 290.6,316.6 291.1,320.0 291.6,324.7 292.2,329.9 292.7,333.4 293.2,336.2 293.7,340.8 294.2,342.8 294.8,345.5 295.3,346.6 295.8,349.2 296.3,353.0 296.8,354.5 297.4,354.2 297.9,359.1 298.4,360.0 298.9,362.7 299.4,362.8 300.0,365.9 300.5,368.1 301.0,370.5 301.5,371.2 302.0,371.6 302.6,373.2 303.1,376.6 303.6,375.1 304.1,378.1 304.6,380.1 305.2,380.1 305.7,381.9 306.2,382.9 306.7,384.1 307.3,384.6 307.8,386.1 308.3,388.4 308.8,387.2 309.3,389.4 309.9,388.7 310.4,390.4 310.9,391.3 311.4,392.7 311.9,392.5 312.5,394.9 313.0,396.4 313.5,395.9 314.0,399.7 314.5,398.1 315.1,398.3 315.6,399.6 316.1,398.6 316.6,399.8 317.1,401.1 317.7,402.2 318.2,401.3 318.7,403.7 319.2,404.0 319.7,403.4 320.3,404.1 320.8,403.2 321.3,405.9 321.8,408.1 322.3,406.0 322.9,405.8 323.4,407.7 323.9,406.3 324.4,406.5 324.9,409.3 325.5,409.4 326.0,410.5 326.5,409.0 327.0,409.2 327.5,409.6 328.1,411.7 328.6,411.5 329.1,412.4 329.6,412.9 330.1,412.8 330.7,413.3 331.2,412.2 331.7,411.8 332.2,411.8 332.7,412.7 333.3,413.5 333.8,413.1 334.3,412.7 334.8,413.8 335.3,413.6 335.9,414.1 336.4,414.5 336.9,414.1 337.4,415.5 337.9,413.5 338.5,416.2 339.0,414.4 339.5,416.3 340.0,413.6 340.5,414.4 341.1,416.1 341.6,415.8 342.1,416.6 342.6,415.6 343.1,415.2 343.7,413.2 344.2,417.1 344.7,414.6 345.2,416.5 345.7,415.7 346.3,415.2 346.8,415.6 347.3,415.8 347.8,416.5 348.4,416.3 348.9,416.2 349.4,415.3 349.9,418.0 350.4,417.1 351.0,417.9 351.5,417.6 352.0,417.5 352.5,415.7 353.0,414.7 353.6,415.6 354.1,418.1 354.6,416.9 355.1,418.2 355.6,416.7 356.2,415.9 356.7,416.6 357.2,416.4 357.7,417.4 358.2,419.3 358.8,419.3 359.3,417.5 359.8,416.8 360.3,416.2 360.8,417.8 361.4,417.4 361.9,417.3 362.4,416.5 362.9,417.7 363.4,418.7 364.0,416.6 364.5,417.3 365.0,417.3 365.5,419.0 366.0,417.7 366.6,419.5 367.1,419.8 367.6,418.0 368.1,418.2 368.6,417.2 369.2,416.4 369.7,417.8 370.2,416.0 370.7,418.4 371.2,417.1 371.8,419.1 372.3,417.7 372.8,418.2 373.3,418.1 373.8,417.3 374.4,419.8 374.9,417.8 375.4,418.7 375.9,417.8 376.4,417.5 377.0,418.3 377.5,418.3 378.0,419.1 378.5,417.4 379.0,418.6 379.6,417.5 380.1,419.4 380.6,416.6 381.1,419.0 381.6,416.9 382.2,418.5 382.7,417.5 383.2,418.2 383.7,417.4 384.2,418.0 384.8,416.8 385.3,417.4 385.8,417.4 386.3,416.4 386.8,418.8 387.4,416.8 387.9,418.0 388.4,419.6 388.9,417.6 389.4,418.3 390.0,416.4 390.5,418.6 391.0,418.1 391.5,417.9 392.1,420.0 392.6,417.7 393.1,419.1 393.6,416.8 394.1,416.5 394.7,418.2 395.2,419.8 395.7,418.0 396.2,418.0 396.7,417.5 397.3,418.5 397.8,419.4 398.3,418.4 398.8,419.2 399.3,416.5 399.9,418.9 400.4,418.9 400.9,418.3 401.4,419.5 401.9,418.7 402.5,418.4 403.0,418.8 403.5,418.5 404.0,417.1 404.5,417.9 405.1,419.6 405.6,418.7 406.1,417.6 406.6,419.0 407.1,418.2 407.7,418.4 408.2,417.8 408.7,418.5 409.2,418.5 409.7,419.2 410.3,418.0 410.8,419.3 411.3,416.7 411.8,418.4 412.3,418.6 412.9,417.6 413.4,418.5 413.9,418.3 414.4,418.5 414.9,419.1 415.5,419.3 416.0,419.1 416.5,417.3 417.0,419.1 417.5,418.8 418.1,418.9 418.6,417.8 419.1,416.5 419.6,419.4 420.1,417.9 420.7,418.3 421.2,418.8 421.7,418.0 422.2,419.7 422.7,417.7 423.3,418.3 423.8,419.5 424.3,416.9 424.8,417.7 425.3,417.3 425.9,419.9 426.4,418.8 426.9,419.0 427.4,417.9 427.9,417.2 428.5,420.4 429.0,418.5 429.5,418.7 430.0,417.5 430.5,418.6 431.1,419.8 431.6,418.7 432.1,419.6 432.6,419.3 433.2,418.5 433.7,419.0 434.2,418.3 434.7,420.1 435.2,416.3 435.8,417.3 436.3,417.9 436.8,419.9 437.3,420.7 437.8,419.4 438.4,418.8 438.9,416.4 439.4,417.3 439.9,419.1 440.4,417.4 441.0,417.4 441.5,418.6 442.0,417.4 442.5,418.3 443.0,419.3 443.6,419.8 444.1,418.8 444.6,417.6 445.1,420.0 445.6,420.2 446.2,418.1 446.7,421.3 447.2,416.8 447.7,419.1 448.2,417.9 448.8,416.8 449.3,420.1 449.8,419.7 450.3,416.4 450.8,418.9 451.4,418.8 451.9,418.4 452.4,417.6 452.9,417.4 453.4,418.6 454.0,419.0 454.5,418.7 455.0,418.4 455.5,417.4 456.0,418.6 456.6,416.9 457.1,419.5 457.6,418.2 458.1,417.0 458.6,417.4 459.2,418.4 459.7,419.6 460.2,419.4 460.7,418.9 461.2,418.4 461.8,419.0 462.3,420.1 462.8,419.4 463.3,418.2 463.8,417.9 464.4,420.1 464.9,419.1 465.4,420.4 465.9,419.3 466.4,415.2 467.0,418.7 467.5,419.1 468.0,419.3 468.5,419.9 469.0,420.6 469.6,418.8 470.1,419.0 470.6,417.3 471.1,420.4 471.6,418.3 472.2,417.4 472.7,420.7 473.2,418.1 473.7,420.3 474.3,418.2 474.8,417.3 475.3,418.7 475.8,418.5 476.3,419.4 476.9,418.5 477.4,417.6 477.9,418.9 478.4,418.9 478.9,418.4 479.5,417.9 480.0,420.4 480.5,418.7 481.0,419.4 481.5,418.3 482.1,417.7 482.6,418.4 483.1,417.5 483.6,419.7 484.1,419.2 484.7,419.7 485.2,418.7 485.7,418.7 486.2,419.0 486.7,420.0 487.3,418.8 487.8,419.2 488.3,418.2 488.8,419.0 489.3,417.6 489.9,418.5 490.4,420.6 490.9,418.9 491.4,420.2 491.9,417.8 492.5,417.3 493.0,418.8 493.5,418.3" fill="none" stroke="#7a8a3a" stroke-width="1.0" stroke-linejoin="round" />
<polyline points="283.5,300.6 284.0,301.4 284.5,299.8 285.1,299.5 285.6,301.5 286.1,301.7 286.6,303.7 287.1,306.6 287.7,309.6 288.2,313.6 288.7,317.8 289.2,320.7 289.7,324.4 290.3,330.5 290.8,332.3 291.3,336.0 291.8,340.0 292.3,343.1 292.9,341.2 293.4,346.5 293.9,348.6 294.4,349.9 294.9,352.9 295.5,355.8 296.0,357.4 296.5,361.1 297.0,361.4 297.5,365.6 298.1,365.5 298.6,367.1 299.1,370.9 299.6,369.0 300.1,373.6 300.7,372.9 301.2,375.9 301.7,376.3 302.2,378.5 302.7,376.6 303.3,379.2 303.8,379.5 304.3,381.6 304.8,382.7 305.4,384.4 305.9,385.8 306.4,386.1 306.9,387.6 307.4,389.0 308.0,391.3 308.5,391.2 309.0,391.3 309.5,393.3 310.0,393.4 310.6,394.7 311.1,396.4 311.6,397.1 312.1,397.7 312.6,398.0 313.2,398.7 313.7,398.1 314.2,401.0 314.7,402.6 315.2,400.5 315.8,402.2 316.3,402.5 316.8,400.4 317.3,402.1 317.8,403.5 318.4,403.7 318.9,405.1 319.4,404.7 319.9,406.8 320.4,407.3 321.0,407.5 321.5,405.9 322.0,406.3 322.5,408.8 323.0,407.4 323.6,409.1 324.1,408.2 324.6,409.9 325.1,408.9 325.6,410.3 326.2,410.7 326.7,410.7 327.2,410.8 327.7,411.8 328.2,412.8 328.8,410.0 329.3,412.3 329.8,414.0 330.3,414.7 330.8,415.4 331.4,413.4 331.9,411.7 332.4,414.9 332.9,413.7 333.4,415.4 334.0,412.7 334.5,413.6 335.0,413.8 335.5,413.0 336.0,412.8 336.6,413.6 337.1,415.4 337.6,416.3 338.1,416.1 338.6,416.9 339.2,413.5 339.7,415.6 340.2,415.3 340.7,415.3 341.2,413.6 341.8,416.2 342.3,414.6 342.8,415.5 343.3,416.0 343.8,417.9 344.4,415.1 344.9,416.8 345.4,416.6 345.9,416.0 346.5,416.2 347.0,415.2 347.5,417.1 348.0,416.3 348.5,416.3 349.1,416.6 349.6,416.0 350.1,417.0 350.6,415.6 351.1,417.5 351.7,418.3 352.2,417.0 352.7,415.8 353.2,417.5 353.7,417.7 354.3,417.4 354.8,417.0 355.3,417.4 355.8,416.9 356.3,419.0 356.9,415.8 357.4,416.8 357.9,418.2 358.4,416.0 358.9,417.0 359.5,416.0 360.0,418.7 360.5,415.9 361.0,417.5 361.5,419.6 362.1,416.9 362.6,417.9 363.1,418.7 363.6,417.9 364.1,419.6 364.7,417.1 365.2,417.9 365.7,418.0 366.2,416.3 366.7,417.7 367.3,418.4 367.8,418.7 368.3,417.8 368.8,416.7 369.3,418.4 369.9,418.8 370.4,416.9 370.9,417.8 371.4,417.9 371.9,415.8 372.5,419.1 373.0,417.7 373.5,419.6 374.0,418.2 374.5,417.3 375.1,416.8 375.6,419.2 376.1,417.1 376.6,417.1 377.1,418.0 377.7,415.5 378.2,417.9 378.7,418.8 379.2,417.5 379.7,419.8 380.3,416.4 380.8,417.0 381.3,418.4 381.8,417.4 382.3,417.5 382.9,416.1 383.4,418.6 383.9,419.3 384.4,420.1 384.9,418.3 385.5,419.6 386.0,418.2 386.5,417.6 387.0,418.5 387.6,419.0 388.1,416.9 388.6,418.3 389.1,417.9 389.6,417.2 390.2,419.4 390.7,419.0 391.2,415.6 391.7,418.3 392.2,419.2 392.8,418.4 393.3,418.7 393.8,419.4 394.3,418.6 394.8,418.2 395.4,418.2 395.9,417.6 396.4,419.9 396.9,419.7 397.4,417.4 398.0,418.6 398.5,417.0 399.0,417.9 399.5,419.6 400.0,417.7 400.6,419.2 401.1,418.0 401.6,417.0 402.1,416.1 402.6,418.3 403.2,417.6 403.7,418.0 404.2,417.5 404.7,420.8 405.2,418.7 405.8,418.0 406.3,417.8 406.8,419.1 407.3,417.5 407.8,417.2 408.4,418.3 408.9,418.6 409.4,418.7 409.9,418.2 410.4,417.2 411.0,416.9 411.5,418.8 412.0,419.3 412.5,419.2 413.0,417.4 413.6,418.2 414.1,418.1 414.6,417.9 415.1,418.0 415.6,418.5 416.2,419.4 416.7,419.0 417.2,418.3 417.7,418.0 418.2,418.8 418.8,418.8 419.3,417.1 419.8,418.9 420.3,418.2 420.8,418.8 421.4,419.3 421.9,420.0 422.4,419.0 422.9,419.3 423.4,417.6 424.0,419.6 424.5,418.9 425.0,417.8 425.5,418.6 426.0,418.0 426.6,417.7 427.1,420.1 427.6,418.9 428.1,419.4 428.6,417.2 429.2,418.6 429.7,418.0 430.2,416.8 430.7,418.9 431.3,418.4 431.8,418.1 432.3,418.8 432.8,417.3 433.3,417.7 433.9,417.5 434.4,418.5 434.9,418.9 435.4,418.9 435.9,418.9 436.5,420.2 437.0,418.2 437.5,417.8 438.0,418.6 438.5,419.1 439.1,418.5 439.6,418.4 440.1,418.3 440.6,416.8 441.1,419.4 441.7,418.2 442.2,417.9 442.7,418.5 443.2,418.8 443.7,419.6 444.3,419.2 444.8,417.9 445.3,417.2 445.8,419.3 446.3,418.1 446.9,418.1 447.4,417.6 447.9,418.4 448.4,418.2 448.9,417.7 449.5,419.8 450.0,418.6 450.5,420.4 451.0,420.6 451.5,419.4 452.1,420.2 452.6,418.1 453.1,417.7 453.6,418.9 454.1,418.8 454.7,418.9 455.2,418.9 455.7,418.5 456.2,418.3 456.7,419.1 457.3,419.4 457.8,419.2 458.3,417.9 458.8,419.1 459.3,417.3 459.9,418.9 460.4,417.3 460.9,419.8 461.4,419.4 461.9,418.2 462.5,418.2 463.0,418.8 463.5,416.7 464.0,418.6 464.5,418.4 465.1,419.2 465.6,417.1 466.1,417.9 466.6,418.3 467.1,420.3 467.7,418.3 468.2,419.2 468.7,418.3 469.2,417.8 469.7,419.4 470.3,418.5 470.8,417.8 471.3,418.5 471.8,419.0 472.4,419.7 472.9,419.4 473.4,419.9 473.9,417.7 474.4,418.6 475.0,419.9 475.5,418.7 476.0,420.0 476.5,421.9 477.0,417.5 477.6,417.6 478.1,420.2 478.6,419.4 479.1,418.5 479.6,419.1 480.2,419.6 480.7,419.2 481.2,419.0 481.7,419.3 482.2,418.5 482.8,418.9 483.3,419.5 483.8,418.7 484.3,420.3 484.8,417.3 485.4,420.4 485.9,418.8 486.4,418.4 486.9,418.3 487.4,418.5 488.0,417.5 488.5,419.8 489.0,418.8 489.5,418.6 490.0,419.2 490.6,419.3 491.1,417.5 491.6,419.4" fill="none" stroke="#3a7020" stroke-width="1.1" stroke-linejoin="round" />
<line x1="285.2" y1="419.0" x2="285.2" y2="299.21000000000004" stroke="#47802a" stroke-width="1.3" />
<polyline points="146.9,364.4 147.3,338.7 147.7,319.6 148.1,311.5 148.5,306.6 148.9,303.4 149.3,301.7 149.7,300.8 150.2,300.0 150.6,299.4 151.0,298.9 153.0,297.9 155.0,297.5 157.1,297.4 159.1,297.9 161.1,299.1 163.2,299.9 165.2,300.5 167.2,301.2 169.3,302.0 171.3,302.9 173.4,304.1 175.4,305.5 177.4,307.2 179.5,308.9 181.5,310.4 183.5,311.8 185.6,313.2 187.6,314.5 189.6,315.8 191.7,317.0 193.7,318.2 195.7,319.2 197.8,320.2 199.8,321.2 201.8,322.2 203.9,323.2 205.9,324.2 208.0,325.3 210.0,326.5 212.0,327.7 214.1,328.8 216.1,329.9 218.1,331.0 220.2,332.1 222.2,333.1 224.2,334.1 226.3,335.1 228.3,336.1 230.3,337.0 232.4,337.9 234.4,338.7 236.4,339.6 238.5,340.4 240.5,341.1 242.5,341.9 244.6,342.7 246.6,343.4 248.7,344.1 250.7,344.8 252.7,345.5 254.8,346.1 256.8,346.7 258.8,347.3 260.9,347.9 262.9,348.5 264.9,349.1 267.0,349.6 269.0,350.1" fill="none" stroke="#ff9ad0" stroke-width="8" stroke-linejoin="round" stroke-opacity="0.12" stroke-linecap="butt"/>
<polyline points="146.9,364.6 147.3,343.4 147.7,327.0 148.1,317.6 148.5,311.1 148.9,306.1 149.3,303.7 149.7,302.6 150.2,301.4 150.6,301.8 151.0,298.4 153.0,299.9 155.0,296.8 157.1,296.4 159.1,295.7 161.1,296.9 163.2,289.4 165.2,292.6 167.2,295.0 169.3,292.5 171.3,294.6 173.4,292.8 175.4,294.2 177.4,296.4 179.5,297.7 181.5,297.8 183.5,302.1 185.6,300.9 187.6,302.2 189.6,304.4 191.7,304.4 193.7,308.1 195.7,305.3 197.8,305.6 199.8,310.6 201.8,309.2 203.9,307.9 205.9,310.6 208.0,313.9 210.0,314.9 212.0,313.1 214.1,312.6 216.1,318.1 218.1,317.2 220.2,319.4 222.2,319.4 224.2,319.3 226.3,320.6 228.3,322.4 230.3,318.7 232.4,322.8 234.4,323.4 236.4,322.0 238.5,324.3 240.5,325.3 242.5,324.3 244.6,328.1 246.6,326.2 248.7,326.6 250.7,328.0 252.7,330.1 254.8,330.6 256.8,334.0 258.8,332.3 260.9,332.4 262.9,332.2 264.9,334.0 267.0,335.3 269.0,336.4" fill="none" stroke="#111" stroke-width="1.1" stroke-linejoin="round" />
<polyline points="146.9,364.4 147.3,338.7 147.7,319.2 148.1,311.5 148.5,306.8 148.9,303.4 149.3,301.8 149.7,300.8 150.2,300.6 150.6,299.8 151.0,300.1 153.0,297.4 155.0,297.6 157.1,297.2 159.1,296.8 161.1,300.1 163.2,298.7 165.2,300.1 167.2,301.9 169.3,300.5 171.3,304.3 173.4,305.2 175.4,305.7 177.4,306.8 179.5,309.1 181.5,312.5 183.5,312.1 185.6,313.3 187.6,312.0 189.6,314.4 191.7,316.9 193.7,319.2 195.7,318.9 197.8,321.4 199.8,321.0 201.8,321.8 203.9,323.6 205.9,324.0 208.0,325.7 210.0,327.0 212.0,326.1 214.1,328.2 216.1,330.2 218.1,331.7 220.2,331.9 222.2,332.5 224.2,333.3 226.3,333.7 228.3,335.6 230.3,338.1 232.4,335.8 234.4,337.6 236.4,338.7 238.5,339.0 240.5,342.6 242.5,342.3 244.6,343.2 246.6,342.2 248.7,345.3 250.7,345.1 252.7,343.9 254.8,345.5 256.8,347.1 258.8,345.5 260.9,349.2 262.9,348.0 264.9,349.3 267.0,349.1 269.0,350.4" fill="none" stroke="#bf4f22" stroke-width="1.1" stroke-linejoin="round" />
<polyline points="146.9,364.6 147.3,336.9 147.7,316.5 148.1,307.9 148.5,303.5 148.9,299.6 149.3,297.8 149.7,296.9 150.2,296.2 150.6,295.7 151.0,297.9 153.0,295.1 155.0,294.8 157.1,297.3 159.1,298.5 161.1,299.6 163.2,303.1 165.2,304.5 167.2,304.4 169.3,309.6 171.3,311.6 173.4,314.8 175.4,315.2 177.4,317.0 179.5,315.6 181.5,317.4 183.5,321.1 185.6,319.0 187.6,321.2 189.6,323.2 191.7,323.2 193.7,324.7 195.7,326.9 197.8,328.9 199.8,329.0 201.8,329.1 203.9,330.5 205.9,332.0 208.0,331.5 210.0,334.8 212.0,334.1 214.1,336.6 216.1,337.1 218.1,339.3 220.2,339.2 222.2,341.0 224.2,342.8 226.3,341.9 228.3,342.7 230.3,342.5 232.4,343.7 234.4,345.6 236.4,345.7 238.5,348.1 240.5,347.3 242.5,345.5 244.6,345.8 246.6,347.0 248.7,348.0 250.7,348.2 252.7,348.8 254.8,351.5 256.8,351.2 258.8,349.8 260.9,350.3 262.9,351.8 264.9,352.8 267.0,353.2 269.0,353.7" fill="none" stroke="#47802a" stroke-width="1.1" stroke-linejoin="round" />
<polyline points="370.6,364.4 371.0,339.3 371.4,319.8 371.8,311.3 372.2,305.7 372.6,301.3 373.0,298.3 373.5,296.8 373.9,296.5 374.3,296.3 374.7,296.1 376.7,295.4 378.7,295.2 380.8,295.4 382.8,295.6 384.9,296.0 386.9,296.2 388.9,296.5 391.0,296.8 393.0,297.2 395.0,297.7 397.1,298.2 399.1,298.8 401.1,299.6 403.2,300.8 405.2,302.5 407.3,303.9 409.3,305.3 411.3,306.6 413.4,307.8 415.4,309.1 417.4,310.3 419.5,311.4 421.5,312.5 423.5,313.6 425.6,314.6 427.6,315.8 429.7,317.0 431.7,318.4 433.7,320.0 435.8,321.8 437.8,323.6 439.8,325.0 441.9,326.1 443.9,327.1 446.0,328.1 448.0,328.9 450.0,329.7 452.1,330.5 454.1,331.4 456.1,332.3 458.2,333.1 460.2,333.9 462.2,334.7 464.3,335.5 466.3,336.3 468.4,337.0 470.4,337.7 472.4,338.5 474.5,339.2 476.5,339.9 478.5,340.5 480.6,341.2 482.6,341.8 484.6,342.4 486.7,343.0 488.7,343.6 490.8,344.2 492.8,344.6" fill="none" stroke="#ff9ad0" stroke-width="8" stroke-linejoin="round" stroke-opacity="0.12" stroke-linecap="butt"/>
<polyline points="370.6,364.8 371.0,351.0 371.4,339.4 371.8,332.6 372.2,326.5 372.6,321.0 373.0,318.4 373.5,317.2 373.9,315.2 374.3,315.1 374.7,311.8 376.7,309.2 378.7,305.7 380.8,301.6 382.8,299.1 384.9,301.1 386.9,300.1 388.9,293.4 391.0,295.4 393.0,292.3 395.0,295.6 397.1,294.3 399.1,296.2 401.1,294.9 403.2,297.1 405.2,298.5 407.3,295.5 409.3,297.9 411.3,302.0 413.4,299.6 415.4,301.1 417.4,302.0 419.5,301.6 421.5,302.0 423.5,301.8 425.6,303.7 427.6,306.0 429.7,304.6 431.7,303.0 433.7,307.2 435.8,304.8 437.8,305.7 439.8,307.7 441.9,307.1 443.9,309.2 446.0,309.2 448.0,310.6 450.0,308.8 452.1,307.9 454.1,311.7 456.1,309.4 458.2,315.3 460.2,314.1 462.2,315.1 464.3,311.6 466.3,315.9 468.4,314.6 470.4,319.8 472.4,317.2 474.5,317.4 476.5,319.1 478.5,324.2 480.6,320.5 482.6,320.4 484.6,320.3 486.7,322.2 488.7,325.9 490.8,324.0 492.8,322.7" fill="none" stroke="#111" stroke-width="1.1" stroke-linejoin="round" />
<polyline points="370.6,364.6 371.0,339.1 371.4,319.9 371.8,311.2 372.2,305.4 372.6,301.5 373.0,297.5 373.5,296.8 373.9,296.4 374.3,296.5 374.7,296.0 376.7,295.7 378.7,296.7 380.8,296.9 382.8,295.4 384.9,296.0 386.9,298.8 388.9,298.6 391.0,297.1 393.0,297.3 395.0,297.0 397.1,299.4 399.1,298.2 401.1,300.0 403.2,301.3 405.2,302.7 407.3,303.0 409.3,304.7 411.3,305.7 413.4,308.5 415.4,309.3 417.4,311.4 419.5,312.0 421.5,312.9 423.5,314.0 425.6,313.9 427.6,315.3 429.7,316.2 431.7,318.2 433.7,319.0 435.8,321.7 437.8,322.6 439.8,324.5 441.9,325.4 443.9,327.2 446.0,329.3 448.0,330.3 450.0,327.8 452.1,330.2 454.1,331.0 456.1,332.4 458.2,333.5 460.2,331.0 462.2,335.8 464.3,335.5 466.3,336.3 468.4,338.1 470.4,339.0 472.4,339.2 474.5,339.5 476.5,340.3 478.5,339.7 480.6,342.3 482.6,341.4 484.6,341.0 486.7,342.1 488.7,344.7 490.8,347.1 492.8,343.8" fill="none" stroke="#bf4f22" stroke-width="1.1" stroke-linejoin="round" />
<polyline points="370.6,364.3 371.0,337.4 371.4,316.0 371.8,307.9 372.2,302.3 372.6,298.5 373.0,295.3 373.5,294.2 373.9,294.2 374.3,293.7 374.7,293.8 376.7,295.5 378.7,293.4 380.8,293.3 382.8,295.0 384.9,297.7 386.9,301.6 388.9,304.6 391.0,305.6 393.0,306.4 395.0,309.7 397.1,309.9 399.1,314.3 401.1,315.1 403.2,313.5 405.2,314.0 407.3,317.5 409.3,318.9 411.3,321.0 413.4,320.1 415.4,322.4 417.4,324.6 419.5,324.6 421.5,324.9 423.5,326.8 425.6,326.5 427.6,328.8 429.7,330.8 431.7,332.5 433.7,333.2 435.8,333.8 437.8,335.3 439.8,336.2 441.9,337.9 443.9,338.1 446.0,338.4 448.0,340.4 450.0,342.2 452.1,339.8 454.1,341.6 456.1,343.3 458.2,343.2 460.2,344.3 462.2,346.4 464.3,345.5 466.3,347.3 468.4,346.3 470.4,347.3 472.4,346.7 474.5,348.5 476.5,348.6 478.5,349.8 480.6,350.3 482.6,351.8 484.6,349.8 486.7,351.0 488.7,352.1 490.8,351.7 492.8,352.7" fill="none" stroke="#47802a" stroke-width="1.1" stroke-linejoin="round" />
<line x1="60.5" y1="5.5" x2="60.5" y2="429.4" stroke="#111" stroke-width="1.4" />
<line x1="269.6" y1="4.8" x2="269.6" y2="425.59999999999997" stroke="#111" stroke-width="1.4" />
<line x1="59.8" y1="5.5" x2="270.3" y2="5.5" stroke="#111" stroke-width="1.4" />
<line x1="59.8" y1="145.3" x2="270.3" y2="145.3" stroke="#111" stroke-width="1.4" />
<line x1="59.8" y1="285.2" x2="270.3" y2="285.2" stroke="#111" stroke-width="1.4" />
<line x1="59.8" y1="424.9" x2="270.3" y2="424.9" stroke="#111" stroke-width="1.4" />
<line x1="284.4" y1="4.3" x2="284.4" y2="429.8" stroke="#111" stroke-width="1.4" />
<line x1="493.2" y1="5.0" x2="493.2" y2="429.8" stroke="#111" stroke-width="1.4" />
<line x1="283.7" y1="5.0" x2="493.9" y2="5.0" stroke="#111" stroke-width="1.4" />
<line x1="283.7" y1="145.8" x2="493.9" y2="145.8" stroke="#111" stroke-width="1.4" />
<line x1="283.7" y1="285.8" x2="493.9" y2="285.8" stroke="#111" stroke-width="1.4" />
<line x1="283.7" y1="425.3" x2="493.9" y2="425.3" stroke="#111" stroke-width="1.4" />
<line x1="60.5" y1="145.3" x2="60.5" y2="149.5" stroke="#111" stroke-width="1.4" />
<line x1="112.625" y1="145.3" x2="112.625" y2="149.5" stroke="#111" stroke-width="1.4" />
<line x1="164.75" y1="145.3" x2="164.75" y2="149.5" stroke="#111" stroke-width="1.4" />
<line x1="216.875" y1="145.3" x2="216.875" y2="149.5" stroke="#111" stroke-width="1.4" />
<line x1="269.0" y1="145.3" x2="269.0" y2="149.5" stroke="#111" stroke-width="1.4" />
<line x1="60.5" y1="285.2" x2="60.5" y2="289.4" stroke="#111" stroke-width="1.4" />
<line x1="112.625" y1="285.2" x2="112.625" y2="289.4" stroke="#111" stroke-width="1.4" />
<line x1="164.75" y1="285.2" x2="164.75" y2="289.4" stroke="#111" stroke-width="1.4" />
<line x1="216.875" y1="285.2" x2="216.875" y2="289.4" stroke="#111" stroke-width="1.4" />
<line x1="269.0" y1="285.2" x2="269.0" y2="289.4" stroke="#111" stroke-width="1.4" />
<line x1="60.5" y1="424.9" x2="60.5" y2="429.09999999999997" stroke="#111" stroke-width="1.4" />
<line x1="112.625" y1="424.9" x2="112.625" y2="429.09999999999997" stroke="#111" stroke-width="1.4" />
<line x1="164.75" y1="424.9" x2="164.75" y2="429.09999999999997" stroke="#111" stroke-width="1.4" />
<line x1="216.875" y1="424.9" x2="216.875" y2="429.09999999999997" stroke="#111" stroke-width="1.4" />
<line x1="284.4" y1="145.8" x2="284.4" y2="150.0" stroke="#111" stroke-width="1.4" />
<line x1="336.42499999999995" y1="145.8" x2="336.42499999999995" y2="150.0" stroke="#111" stroke-width="1.4" />
<line x1="388.45" y1="145.8" x2="388.45" y2="150.0" stroke="#111" stroke-width="1.4" />
<line x1="440.47499999999997" y1="145.8" x2="440.47499999999997" y2="150.0" stroke="#111" stroke-width="1.4" />
<line x1="492.5" y1="145.8" x2="492.5" y2="150.0" stroke="#111" stroke-width="1.4" />
<line x1="284.4" y1="285.8" x2="284.4" y2="290.0" stroke="#111" stroke-width="1.4" />
<line x1="336.42499999999995" y1="285.8" x2="336.42499999999995" y2="290.0" stroke="#111" stroke-width="1.4" />
<line x1="388.45" y1="285.8" x2="388.45" y2="290.0" stroke="#111" stroke-width="1.4" />
<line x1="440.47499999999997" y1="285.8" x2="440.47499999999997" y2="290.0" stroke="#111" stroke-width="1.4" />
<line x1="492.5" y1="285.8" x2="492.5" y2="290.0" stroke="#111" stroke-width="1.4" />
<line x1="284.4" y1="425.3" x2="284.4" y2="429.5" stroke="#111" stroke-width="1.4" />
<line x1="336.42499999999995" y1="425.3" x2="336.42499999999995" y2="429.5" stroke="#111" stroke-width="1.4" />
<line x1="388.45" y1="425.3" x2="388.45" y2="429.5" stroke="#111" stroke-width="1.4" />
<line x1="440.47499999999997" y1="425.3" x2="440.47499999999997" y2="429.5" stroke="#111" stroke-width="1.4" />
<line x1="492.5" y1="425.3" x2="492.5" y2="429.5" stroke="#111" stroke-width="1.4" />
<line x1="56.0" y1="137.4" x2="60.5" y2="137.4" stroke="#111" stroke-width="1.4" />
<line x1="56.0" y1="107.47500000000001" x2="60.5" y2="107.47500000000001" stroke="#111" stroke-width="1.4" />
<line x1="56.0" y1="77.55000000000001" x2="60.5" y2="77.55000000000001" stroke="#111" stroke-width="1.4" />
<line x1="56.0" y1="47.625" x2="60.5" y2="47.625" stroke="#111" stroke-width="1.4" />
<line x1="56.0" y1="17.700000000000003" x2="60.5" y2="17.700000000000003" stroke="#111" stroke-width="1.4" />
<line x1="56.0" y1="262.0" x2="60.5" y2="262.0" stroke="#111" stroke-width="1.4" />
<line x1="56.0" y1="232.325" x2="60.5" y2="232.325" stroke="#111" stroke-width="1.4" />
<line x1="56.0" y1="202.65" x2="60.5" y2="202.65" stroke="#111" stroke-width="1.4" />
<line x1="56.0" y1="172.975" x2="60.5" y2="172.975" stroke="#111" stroke-width="1.4" />
<line x1="56.0" y1="418.5" x2="60.5" y2="418.5" stroke="#111" stroke-width="1.4" />
<line x1="56.0" y1="357.95" x2="60.5" y2="357.95" stroke="#111" stroke-width="1.4" />
<line x1="56.0" y1="297.4" x2="60.5" y2="297.4" stroke="#111" stroke-width="1.4" />
<line x1="493.2" y1="138.3" x2="497.7" y2="138.3" stroke="#111" stroke-width="1.4" />
<line x1="493.2" y1="100.00000000000001" x2="497.7" y2="100.00000000000001" stroke="#111" stroke-width="1.4" />
<line x1="493.2" y1="61.70000000000002" x2="497.7" y2="61.70000000000002" stroke="#111" stroke-width="1.4" />
<line x1="493.2" y1="23.400000000000006" x2="497.7" y2="23.400000000000006" stroke="#111" stroke-width="1.4" />
<line x1="493.2" y1="262.2" x2="497.7" y2="262.2" stroke="#111" stroke-width="1.4" />
<line x1="493.2" y1="232.95" x2="497.7" y2="232.95" stroke="#111" stroke-width="1.4" />
<line x1="493.2" y1="203.7" x2="497.7" y2="203.7" stroke="#111" stroke-width="1.4" />
<line x1="493.2" y1="174.45" x2="497.7" y2="174.45" stroke="#111" stroke-width="1.4" />
<line x1="493.2" y1="419.0" x2="497.7" y2="419.0" stroke="#111" stroke-width="1.4" />
<line x1="493.2" y1="358.5" x2="497.7" y2="358.5" stroke="#111" stroke-width="1.4" />
<line x1="493.2" y1="298.0" x2="497.7" y2="298.0" stroke="#111" stroke-width="1.4" />
<line x1="146.9" y1="291.5" x2="146.9" y2="367.3" stroke="#333" stroke-width="1.1" />
<line x1="146.9" y1="367.3" x2="269.0" y2="367.3" stroke="#333" stroke-width="1.1" />
<line x1="143.70000000000002" y1="364.4" x2="146.9" y2="364.4" stroke="#333" stroke-width="1.0" />
<line x1="143.70000000000002" y1="328.75" x2="146.9" y2="328.75" stroke="#333" stroke-width="1.0" />
<line x1="143.70000000000002" y1="293.09999999999997" x2="146.9" y2="293.09999999999997" stroke="#333" stroke-width="1.0" />
<line x1="146.9" y1="367.3" x2="146.9" y2="370.3" stroke="#333" stroke-width="1.0" />
<line x1="187.60000000000002" y1="367.3" x2="187.60000000000002" y2="370.3" stroke="#333" stroke-width="1.0" />
<line x1="228.3" y1="367.3" x2="228.3" y2="370.3" stroke="#333" stroke-width="1.0" />
<line x1="269.0" y1="367.3" x2="269.0" y2="370.3" stroke="#333" stroke-width="1.0" />
<line x1="370.6" y1="291.5" x2="370.6" y2="367.3" stroke="#333" stroke-width="1.1" />
<line x1="370.6" y1="367.3" x2="492.79" y2="367.3" stroke="#333" stroke-width="1.1" />
<line x1="367.40000000000003" y1="364.4" x2="370.6" y2="364.4" stroke="#333" stroke-width="1.0" />
<line x1="367.40000000000003" y1="328.75" x2="370.6" y2="328.75" stroke="#333" stroke-width="1.0" />
<line x1="367.40000000000003" y1="293.09999999999997" x2="370.6" y2="293.09999999999997" stroke="#333" stroke-width="1.0" />
<line x1="370.6" y1="367.3" x2="370.6" y2="370.3" stroke="#333" stroke-width="1.0" />
<line x1="411.33000000000004" y1="367.3" x2="411.33000000000004" y2="370.3" stroke="#333" stroke-width="1.0" />
<line x1="452.06000000000006" y1="367.3" x2="452.06000000000006" y2="370.3" stroke="#333" stroke-width="1.0" />
<line x1="492.79" y1="367.3" x2="492.79" y2="370.3" stroke="#333" stroke-width="1.0" />
<text x="55.2" y="141.333" font-size="11.4" text-anchor="end" >0</text>
<text x="55.2" y="111.40800000000002" font-size="11.4" text-anchor="end" >500</text>
<text x="55.2" y="81.483" font-size="11.4" text-anchor="end" >1000</text>
<text x="55.2" y="51.558" font-size="11.4" text-anchor="end" >1500</text>
<text x="55.2" y="21.633000000000003" font-size="11.4" text-anchor="end" >2000</text>
<text x="55.4" y="265.657" font-size="10.6" text-anchor="end" >0</text>
<text x="55.4" y="235.982" font-size="10.6" text-anchor="end" >25</text>
<text x="55.4" y="206.30700000000002" font-size="10.6" text-anchor="end" >50</text>
<text x="55.4" y="176.632" font-size="10.6" text-anchor="end" >75</text>
<text x="55.2" y="422.433" font-size="11.4" text-anchor="end" >0.0</text>
<text x="55.2" y="361.883" font-size="11.4" text-anchor="end" >0.5</text>
<text x="55.2" y="301.33299999999997" font-size="11.4" text-anchor="end" >1.0</text>
<text x="499.8" y="142.233" font-size="11.4" text-anchor="start" >0</text>
<text x="499.8" y="103.93300000000002" font-size="11.4" text-anchor="start" >1000</text>
<text x="499.8" y="65.63300000000001" font-size="11.4" text-anchor="start" >2000</text>
<text x="499.8" y="27.333000000000006" font-size="11.4" text-anchor="start" >3000</text>
<text x="499.8" y="266.133" font-size="11.4" text-anchor="start" >0</text>
<text x="499.8" y="236.88299999999998" font-size="11.4" text-anchor="start" >25</text>
<text x="499.8" y="207.63299999999998" font-size="11.4" text-anchor="start" >50</text>
<text x="499.8" y="178.38299999999998" font-size="11.4" text-anchor="start" >75</text>
<text x="499.8" y="423.733" font-size="11.4" text-anchor="start" >0.0</text>
<text x="499.8" y="363.233" font-size="11.4" text-anchor="start" >0.5</text>
<text x="499.8" y="302.733" font-size="11.4" text-anchor="start" >1.0</text>
<text x="60.5" y="440.6" font-size="11.4" text-anchor="middle" >0</text>
<text x="112.625" y="440.6" font-size="11.4" text-anchor="middle" >50</text>
<text x="164.75" y="440.6" font-size="11.4" text-anchor="middle" >100</text>
<text x="216.875" y="440.6" font-size="11.4" text-anchor="middle" >150</text>
<text x="284.4" y="440.6" font-size="11.4" text-anchor="middle" >0</text>
<text x="336.42499999999995" y="440.6" font-size="11.4" text-anchor="middle" >50</text>
<text x="388.45" y="440.6" font-size="11.4" text-anchor="middle" >100</text>
<text x="440.47499999999997" y="440.6" font-size="11.4" text-anchor="middle" >150</text>
<text x="492.5" y="440.6" font-size="11.4" text-anchor="middle" >200</text>
<text x="165.2" y="457.5" font-size="11.4" text-anchor="middle" >Time / µs</text>
<text x="389.0" y="457.5" font-size="11.4" text-anchor="middle" >Time / µs</text>
<text x="0" y="0" font-size="11.5" text-anchor="middle" transform="translate(23.6,75.5) rotate(-90)">Intensity / counts</text>
<text x="0" y="0" font-size="11.5" text-anchor="middle" transform="translate(25.4,216.2) rotate(-90)">Intensity / counts</text>
<text x="0" y="0" font-size="11.15" text-anchor="middle" transform="translate(14.2,354.6) rotate(-90)">Normalized emision</text>
<text x="0" y="0" font-size="11.5" text-anchor="middle" transform="translate(28.2,354.6) rotate(-90)">intensity</text>
<text x="0" y="0" font-size="11.5" text-anchor="middle" transform="translate(531.9,74.5) rotate(90)">Intensity / counts</text>
<text x="0" y="0" font-size="11.5" text-anchor="middle" transform="translate(531.9,214.5) rotate(90)">Intensity / counts</text>
<text x="0" y="0" font-size="11.15" text-anchor="middle" transform="translate(536.8,354.6) rotate(90)">Normalized emision</text>
<text x="0" y="0" font-size="11.5" text-anchor="middle" transform="translate(522.8,354.5) rotate(90)">intensity</text>
<text x="250.5" y="26.2" font-size="18" text-anchor="middle" stroke="#111" stroke-width="0.5">A</text>
<text x="474.8" y="27.0" font-size="18" text-anchor="middle" stroke="#111" stroke-width="0.5">B</text>
<text x="251.5" y="164.5" font-size="18" text-anchor="middle" stroke="#111" stroke-width="0.5">C</text>
<text x="475.0" y="165.5" font-size="18" text-anchor="middle" stroke="#111" stroke-width="0.5">D</text>
<text x="254.0" y="310.4" font-size="18" text-anchor="middle" stroke="#111" stroke-width="0.5">E</text>
<text x="477.2" y="311.5" font-size="18" text-anchor="middle" stroke="#111" stroke-width="0.5">F</text>
<text x="142.70000000000002" y="366.9" font-size="7" text-anchor="end" >0.0</text>
<text x="142.70000000000002" y="331.25" font-size="7" text-anchor="end" >0.5</text>
<text x="142.70000000000002" y="295.59999999999997" font-size="7" text-anchor="end" >1.0</text>
<text x="146.9" y="377.0" font-size="7" text-anchor="middle" >0</text>
<text x="187.60000000000002" y="377.0" font-size="7" text-anchor="middle" >10</text>
<text x="228.3" y="377.0" font-size="7" text-anchor="middle" >20</text>
<text x="269.0" y="377.0" font-size="7" text-anchor="middle" >30</text>
<text x="208.357" y="387.5" font-size="6.7" text-anchor="middle" >Time / µs</text>
<text x="366.40000000000003" y="366.9" font-size="7" text-anchor="end" >0.0</text>
<text x="366.40000000000003" y="331.25" font-size="7" text-anchor="end" >0.5</text>
<text x="366.40000000000003" y="295.59999999999997" font-size="7" text-anchor="end" >1.0</text>
<text x="370.6" y="377.0" font-size="7" text-anchor="middle" >0</text>
<text x="411.33000000000004" y="377.0" font-size="7" text-anchor="middle" >10</text>
<text x="452.06000000000006" y="377.0" font-size="7" text-anchor="middle" >20</text>
<text x="492.79" y="377.0" font-size="7" text-anchor="middle" >30</text>
<text x="428.8439" y="387.5" font-size="6.7" text-anchor="middle" >Time / µs</text>
</svg>
</body></html>
